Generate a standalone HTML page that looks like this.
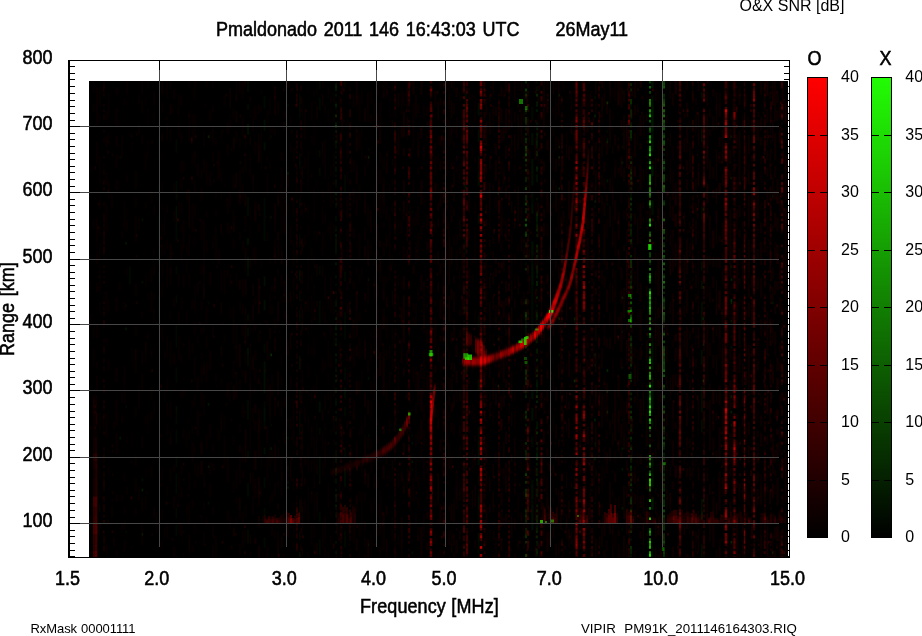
<!DOCTYPE html>
<html lang="en"><head><meta charset="utf-8"><title>Ionogram Pmaldonado 2011 146 16:43:03 UTC</title>
<style>html,body{margin:0;padding:0;background:#fff}body{width:922px;height:636px;overflow:hidden}svg{display:block}text{font-family:"Liberation Sans",Arial,Helvetica,sans-serif;fill:#000;white-space:pre}.b{font-size:18px;stroke:#000;stroke-width:.5px;word-spacing:1.7px}.c{font-size:16px}.s{font-size:13px;word-spacing:1.4px}</style></head><body>
<svg width="922" height="636" viewBox="0 0 922 636">
<rect width="922" height="636" fill="#fff"/>
<path fill="#000" shape-rendering="crispEdges" d="M68 60h2v498h-2zM68 60h722v1h-722zM789 60h1v498h-1zM68 557h722v1h-722zM70 556h5v1h-5zM784 556h5v1h-5zM70 550h5v1h-5zM784 550h5v1h-5zM70 543h5v1h-5zM784 543h5v1h-5zM70 536h5v1h-5zM784 536h5v1h-5zM70 530h5v1h-5zM784 530h5v1h-5zM70 523h5v1h-5zM784 523h5v1h-5zM70 523h10v1h-10zM70 517h5v1h-5zM784 517h5v1h-5zM70 510h5v1h-5zM784 510h5v1h-5zM70 503h5v1h-5zM784 503h5v1h-5zM70 496h5v1h-5zM784 496h5v1h-5zM70 490h5v1h-5zM784 490h5v1h-5zM70 483h5v1h-5zM784 483h5v1h-5zM70 477h5v1h-5zM784 477h5v1h-5zM70 470h5v1h-5zM784 470h5v1h-5zM70 463h5v1h-5zM784 463h5v1h-5zM70 457h5v1h-5zM784 457h5v1h-5zM70 457h10v1h-10zM70 450h5v1h-5zM784 450h5v1h-5zM70 444h5v1h-5zM784 444h5v1h-5zM70 437h5v1h-5zM784 437h5v1h-5zM70 430h5v1h-5zM784 430h5v1h-5zM70 424h5v1h-5zM784 424h5v1h-5zM70 417h5v1h-5zM784 417h5v1h-5zM70 411h5v1h-5zM784 411h5v1h-5zM70 404h5v1h-5zM784 404h5v1h-5zM70 397h5v1h-5zM784 397h5v1h-5zM70 390h5v1h-5zM784 390h5v1h-5zM70 390h10v1h-10zM70 384h5v1h-5zM784 384h5v1h-5zM70 377h5v1h-5zM784 377h5v1h-5zM70 371h5v1h-5zM784 371h5v1h-5zM70 364h5v1h-5zM784 364h5v1h-5zM70 358h5v1h-5zM784 358h5v1h-5zM70 351h5v1h-5zM784 351h5v1h-5zM70 344h5v1h-5zM784 344h5v1h-5zM70 338h5v1h-5zM784 338h5v1h-5zM70 331h5v1h-5zM784 331h5v1h-5zM70 324h5v1h-5zM784 324h5v1h-5zM70 324h10v1h-10zM70 318h5v1h-5zM784 318h5v1h-5zM70 311h5v1h-5zM784 311h5v1h-5zM70 305h5v1h-5zM784 305h5v1h-5zM70 298h5v1h-5zM784 298h5v1h-5zM70 291h5v1h-5zM784 291h5v1h-5zM70 285h5v1h-5zM784 285h5v1h-5zM70 278h5v1h-5zM784 278h5v1h-5zM70 272h5v1h-5zM784 272h5v1h-5zM70 265h5v1h-5zM784 265h5v1h-5zM70 259h5v1h-5zM784 259h5v1h-5zM70 259h10v1h-10zM70 252h5v1h-5zM784 252h5v1h-5zM70 245h5v1h-5zM784 245h5v1h-5zM70 239h5v1h-5zM784 239h5v1h-5zM70 232h5v1h-5zM784 232h5v1h-5zM70 225h5v1h-5zM784 225h5v1h-5zM70 219h5v1h-5zM784 219h5v1h-5zM70 212h5v1h-5zM784 212h5v1h-5zM70 205h5v1h-5zM784 205h5v1h-5zM70 199h5v1h-5zM784 199h5v1h-5zM70 192h5v1h-5zM784 192h5v1h-5zM70 192h10v1h-10zM70 186h5v1h-5zM784 186h5v1h-5zM70 179h5v1h-5zM784 179h5v1h-5zM70 172h5v1h-5zM784 172h5v1h-5zM70 166h5v1h-5zM784 166h5v1h-5zM70 159h5v1h-5zM784 159h5v1h-5zM70 153h5v1h-5zM784 153h5v1h-5zM70 146h5v1h-5zM784 146h5v1h-5zM70 139h5v1h-5zM784 139h5v1h-5zM70 133h5v1h-5zM784 133h5v1h-5zM70 126h5v1h-5zM784 126h5v1h-5zM70 126h10v1h-10zM70 120h5v1h-5zM784 120h5v1h-5zM70 113h5v1h-5zM784 113h5v1h-5zM70 106h5v1h-5zM784 106h5v1h-5zM70 100h5v1h-5zM784 100h5v1h-5zM70 93h5v1h-5zM784 93h5v1h-5zM70 86h5v1h-5zM784 86h5v1h-5zM70 79h5v1h-5zM784 79h5v1h-5zM70 73h5v1h-5zM784 73h5v1h-5zM70 66h5v1h-5zM784 66h5v1h-5z"/>
<path fill="#000" shape-rendering="crispEdges" d="M159 61h1v9h-1zM286 61h1v9h-1zM376 61h1v9h-1zM445 61h1v9h-1zM550 61h1v9h-1zM662 61h1v9h-1z"/>
<path fill="#474747" shape-rendering="crispEdges" d="M80 523h9v1h-9zM80 457h9v1h-9zM80 390h9v1h-9zM80 324h9v1h-9zM80 259h9v1h-9zM80 192h9v1h-9zM80 126h9v1h-9zM159 70h1v11h-1zM286 70h1v11h-1zM376 70h1v11h-1zM445 70h1v11h-1zM550 70h1v11h-1zM662 70h1v11h-1z"/>
<rect x="89" y="81" width="699" height="476" fill="#000" shape-rendering="crispEdges"/>
<defs><clipPath id="ic"><rect x="89" y="81" width="699" height="476"/></clipPath><filter id="vb" x="-5%" y="-5%" width="110%" height="110%"><feGaussianBlur stdDeviation="0.4 0.6"/></filter><filter id="tb" x="-5%" y="-5%" width="110%" height="110%"><feGaussianBlur stdDeviation="0.45 1.6"/></filter><filter id="gbl" x="-5%" y="-5%" width="110%" height="110%"><feGaussianBlur stdDeviation="0.35"/></filter></defs>
<g clip-path="url(#ic)">
<g filter="url(#vb)">
<path stroke="#2f0" stroke-opacity="0.03" stroke-width="1.6" fill="none" d="M159.2 135.7v24.7m0 25v6m0 24.6v29.7m0 5.1v14.5m0 6.6v11.3m0 12.9v21.8m0 5.4v6.2m0 132.4v8.2M176.4 139.2v13.6m0 27.9v19.6m0 18.6v21m0 26.1v8.4m0 20.9v8m0 20.7v23.8m0 19.7v15.2m0 29.2v11.8m0 5.9v13.9m0 12.2v11.4m0 6.4v20.5m0 13.4v11m0 6.3v11.1m0 19.9v1.3M299.7 93.5v24.8m0 34.9v16.5m0 29.1v9.2m0 26.6v12.6m0 43.5v10.6m0 8.1v12.6m0 66.9v12.4m0 10.1v24.1m0 63.8v17.3m0 15.4v7.9M345 81v6.2m0 87.1v18.7m0 78.6v9.9m0 30.2v14.1m0 -.4v14.1m0 28v12.9m0 26.6v9.3m0 31.2v8.9m0 48.1v7.1m0 19.2v17"/>
<path stroke="#2f0" stroke-opacity="0.03" stroke-width="1.7" fill="none" d="M120.2 156.1v2.7M126 304.2v2.7m0 98.7v2.7m0 122.1v2.7M156.7 322.4v2.7M208.6 301.6v2.7M271.2 135.2v2.7m0 285.9v2.7M288 104.1v2.7m0 311.8v2.7m0 44.1v5.4M368.7 148.3v2.7m0 283.2v2.7M412.3 210.7v2.7m0 220.8v2.7m0 31.2v2.7M498.3 117.1v2.7m0 423.6v2.7M559.3 163.8v2.7m0 272.9v2.7M574.6 85.9v2.7M595 187.3v2.7m0 15.5v2.7m0 148v2.7m0 85.7v2.7m0 54.5v2.7M607.4 130.1v2.7m0 70v2.7M622.4 91.1v2.7m0 38.9v2.7m0 283.2v2.7m0 106.6v2.7M703.3 449.8v2.7M731.4 117.1v2.7m0 215.6v2.7m0 65v2.7M772.6 395.2v2.7"/>
<path stroke="#2f0" stroke-opacity="0.03" stroke-width="2" fill="none" d="M129.8 266.6v17.7M264.6 95.7v12.9m0 89.1v19.9m0 -.4v23.8m0 103v8.7m0 48.5v7.7m0 12v8.5m0 47.9v10.7m0 20.2v7.7m0 21.4v10.4M319.7 81v7.9m0 8.5v12.9m0 39.7v6.9m0 10.9v7.9m0 90.4v8.6m0 26.1v22.8m0 103.8v7.6m0 21.3v27.9m0 27.9v9.4m0 17.9v15.7M478.7 155.4v16.2m0 144v11.8m0 99.3v13.9m0 34.9v9.2m0 5.1v6.8m0 12v11.3m0 21.9v12.8M664 434.2v2.7m0 2.5v2.7M701.9 206.2v14"/>
<path stroke="#2f0" stroke-opacity="0.03" stroke-width="2.1" fill="none" d="M336 101.5v2.7m0 2.5v2.7m0 25.8v2.7m0 5.2v2.7m0 5v2.7m0 20.8v2.7m0 7.7v2.7m0 18.1v2.7m0 7.7v5.3m0 5v2.7m0 7.8v2.7m0 12.8v2.7m0 28.5v2.7m0 5.1v2.7m0 5.1v2.7m0 7.7v2.7m0 10.3v2.7m0 15.5v2.7m0 18.1v2.7m0 2.5v2.7m0 18.1v2.7m0 7.7v2.7m0 15.6v2.7m0 23.3v2.7m0 5v8m0 49.3v2.7m0 2.4v2.7m0 15.5v2.7m0 23.3v.6M526 184.7v2.7m0 75.2v2.7m0 44.1v2.7m0 39v2.7m0 116.8v2.7m0 2.5v2.7m0 28.6v2.7M537 81v2.4m0 2.5v2.7m0 168.8v2.7m0 28.5v2.7m0 18.1v2.7m0 18.1v2.7m0 33.7v2.7m0 18.1v2.7m0 2.5v2.7m0 10.3v2.7m0 41.5v2.7m0 70.1v2.7M631 106.7v2.7m0 96.1v2.7m0 64.8v2.7m0 90.9v2.7m0 101.3v2.7m0 33.8v2.7m0 2.4v2.7m0 13v2.7"/>
<path stroke="#2f0" stroke-opacity="0.03" stroke-width="2.4" fill="none" d="M248 81v11m0 12.3v5.8m0 86.8v6m0 -.4v13.5m0 52.1v8.2m0 38v6.3m0 7.2v8.7m0 17.4v12.4m0 33.8v19.6m0 31v7.8m0 24.6v13.3m0 33.4v13.6M465.6 90.8v16.1m0 126.3v21.2m0 31.1v6.9m0 33v17.7m0 -.4v10.2m0 52.2v13.1m0 -.4v27.3m0 21.1v24.6M532.4 106.6v14.1m0 71.3v13m0 50.2v9.2m0 19.6v47.1m0 105.6v10.5m0 32.7v6m0 12.4v6.5M652.5 335.7v7.4m0 122.9v7.8m0 72.6v10.6"/>
<path stroke="#2f0" stroke-opacity="0.05" stroke-width="1.6" fill="none" d="M176.4 206v13.2m0 187.1v5.9M299.7 270.1v11m0 74.6v14m0 182.2v5.1M345 387.5v10.8m0 69.9v18.6"/>
<path stroke="#2f0" stroke-opacity="0.05" stroke-width="1.7" fill="none" d="M142.4 218.5v2.7m0 59.7v2.7m0 194.8v2.7M208.6 501.8v2.7M271.2 215.9v2.7M288 436.8v2.7m0 41.6v2.7M368.7 278.2v2.7m0 96.2v2.7m0 163.6v2.7M412.3 442.1v2.7m0 106.4v2.7M498.3 124.9v2.7m0 210.5v2.7M559.3 353.6v2.7M574.6 132.7v2.7m0 184.5v2.7m0 124.6v2.7M595 96.2v2.7m0 265.2v2.7m0 75.3v2.7M607.4 137.8v2.7M622.4 145.7v2.7m0 181.8v2.7m0 33.7v2.7M703.3 85.9v2.7M731.4 345.8v2.7M772.6 195.1v2.7"/>
<path stroke="#2f0" stroke-opacity="0.05" stroke-width="2" fill="none" d="M264.6 119.8v10.9m0 11.6v7.6m0 126.6v9.7m0 13.8v10.6m0 50.6v21.5m0 -.4v11m0 15.3v12.6m0 26.5v6.5M319.7 401.5v10.7M478.7 102.7v13m0 13.7v12.9m0 29v14.6m0 27.8v9.9m0 155.7v11m0 50v24.6m0 31.4v12.6m0 23.8v9.3M664 335.4v2.7m0 33.7v2.7m0 23.3v2.7m0 7.7v2.7m0 59.7v2.7m0 38.9v2.7M701.9 92.2v5.7m0 30.3v14.3m0 118.8v9.2m0 9.9v8.5m0 13v24.4m0 23.8v14.8m0 21.6v26.3m0 6.5v13.3m0 66.4v12.7m0 32.6v12.7"/>
<path stroke="#2f0" stroke-opacity="0.05" stroke-width="2.1" fill="none" d="M336 93.7v2.7m0 49.3v2.7m0 7.7v2.7m0 2.5v2.7m0 2.5v5.3m0 7.7v5.3m0 12.9v2.7m0 2.4v2.7m0 23.4v2.7m0 7.6v13.2m0 23.2v2.7m0 23.3v5.3m0 18.1v2.7m0 10.4v2.7m0 18v2.7m0 7.7v2.7m0 28.5v5.4m0 5v2.7m0 5.1v2.7m0 10.3v2.7m0 23.3v5.3m0 7.7v5.3m0 2.5v5.4m0 5v2.7m0 5.1v5.3m0 13v2.7m0 5v2.7m0 15.6v2.7m0 7.6v2.7M526 91.1v2.7m0 2.4v2.7m0 13v2.7m0 85.7v2.7m0 38.9v2.7m0 75.3v2.7m0 5v10.5m0 5.1v2.7m0 18.2v2.7m0 25.8v2.7m0 23.3v2.7m0 7.8v2.7m0 64.8v2.7m0 2.5v2.7M537 88.5v2.7m0 31v2.7m0 10.3v5.3m0 5.2v2.7m0 25.9v7.9m0 15.5v2.7m0 10.3v2.7m0 7.7v2.7m0 23.3v2.7m0 23.2v2.7m0 28.5v2.7m0 15.5v2.7m0 13v2.7m0 38.8v2.7m0 38.9v5.3m0 44.1v2.7m0 7.8v5.2m0 5.1v2.7m0 31.1v2.7m0 15.5v2.7m0 7.8v2.7M631 104.1v2.7m0 10.3v2.7m0 46.7v2.7m0 5.1v2.7m0 2.5v2.7m0 10.3v5.3m0 20.7v2.7m0 5v2.7m0 41.5v2.7m0 5.1v2.7m0 59.7v2.7m0 5.1v2.7m0 10.3v2.7m0 54.5v2.7m0 2.5v5.3m0 10.3v2.7m0 2.5v2.7m0 7.8v2.7m0 23.3v2.7m0 38.8v2.7m0 12.9v2.7m0 13v2.7"/>
<path stroke="#2f0" stroke-opacity="0.05" stroke-width="2.4" fill="none" d="M248 123.7v11m0 103.2v6.9m0 12.7v10.8m0 79.7v6.2M465.6 106.6v8m0 63.6v11.5m0 116.2v7.1m0 50v11.8M532.4 132.9v12.2m0 13.9v26.4m0 19.2v9.3m0 27.6v14.1m0 8.6v20.2m0 106.6v8m0 8.8v12.8m0 65v13.1m0 5.8v25.4M652.5 95.3v11m0 24.4v20.6m0 49.1v14.8m0 127.6v27.3m0 7.6v31.9m0 10.9v6m0 29.7v10m0 7.3v14.3"/>
<path stroke="#2f0" stroke-opacity="0.08" stroke-width="1.7" fill="none" d="M120.2 436.8v2.7M126 241.9v2.7m0 83v2.7M142.4 533.1v2.7M208.6 403.1v2.7m0 59.6v2.7M271.2 447.2v2.7M288 171.7v2.7m0 311.8v2.7M412.3 460.2v2.7M498.3 192.5v2.7M559.3 93.7v2.7m0 49.3v2.7M574.6 205.5v2.7m0 64.8v2.7m0 210.5v2.7M595 200.3v2.7m0 150.6v2.7m0 101.3v2.7M607.4 179.5v2.7M622.4 161.3v2.7m0 283.2v2.7m0 18.2v2.7m0 36.3v2.7M703.3 156.1v2.7m0 49.3v2.7m0 75.2v2.7m0 54.5v2.7m0 153.3v2.7M731.4 135.2v2.7m0 38.9v2.7m0 85.7v2.7m0 52v2.7m0 101.2v2.7M772.6 301.6v2.7"/>
<path stroke="#2f0" stroke-opacity="0.08" stroke-width="2" fill="none" d="M664 137.8v2.7m0 13v2.7m0 7.6v2.7m0 106.5v2.7m0 2.5v2.7m0 2.5v2.7m0 38.9v2.7m0 2.5v2.7m0 98.7v2.7m0 20.8v2.7m0 18v2.7m0 18.1v2.7m0 49.3v2.7M701.9 511.4v8"/>
<path stroke="#2f0" stroke-opacity="0.08" stroke-width="2.1" fill="none" d="M336 83.2v2.7m0 2.6v2.7m0 31v2.7m0 5.2v2.7m0 7.7v2.7m0 49.3v2.7m0 38.9v2.7m0 25.8v2.7m0 51.9v2.7m0 7.7v2.7m0 2.6v2.7m0 7.6v2.7m0 7.7v2.7m0 18.1v2.7m0 2.5v2.7m0 7.8v2.7m0 75.3v2.7m0 23.3v2.7m0 7.6v2.7M526 127.5v2.7m0 33.6v2.7m0 155.9v5.3m0 33.7v2.7m0 10.3v2.7m0 2.5v2.7m0 31.1v2.7m0 7.7v2.7m0 28.6v2.7m0 54.4v2.7m0 2.5v2.7m0 10.3v2.7M537 101.5v5.3m0 2.4v2.7m0 15.6v2.7m0 2.5v2.7m0 5.1v5.3m0 5v2.7m0 15.6v2.7m0 44.1v5.3m0 2.5v5.2m0 5.2v2.7m0 28.4v7.9m0 2.5v2.7m0 33.7v2.7m0 2.5v2.7m0 7.7v2.7m0 2.6v5.2m0 2.5v2.7m0 5.1v5.4m0 28.4v5.3m0 2.6v2.7m0 33.6v2.7m0 13v2.7m0 2.4v2.7m0 2.5v5.4m0 5v2.7m0 2.6v2.7m0 2.4v2.7m0 12.9v2.7m0 2.6v2.7m0 7.6v2.7m0 10.3v2.7m0 7.8v2.7m0 10.3v2.7m0 5v2.7M631 122.2v2.7m0 12.9v2.7m0 15.6v2.7m0 10.3v2.7m0 15.5v2.7m0 23.2v2.7m0 18.2v2.7m0 5.1v2.7m0 38.8v2.7m0 59.7v2.7m0 2.6v2.7m0 5v2.7m0 10.3v2.7m0 85.7v2.7m0 62.3v2.7"/>
<path stroke="#2f0" stroke-opacity="0.08" stroke-width="2.4" fill="none" d="M652.5 81v6.9m0 18.2v24.9m0 34.3v10.8m0 321.5v12.1"/>
<path stroke="#2f0" stroke-opacity="0.11" stroke-width="1.7" fill="none" d="M142.4 488.8v2.7M208.6 135.2v2.7M368.7 156.1v2.7M498.3 384.8v2.7M559.3 156.1v2.7m0 28.5v2.7m0 127.2v2.7M574.6 317.2v2.7M595 114.5v2.7m0 301.4v2.7M607.4 140.5v2.7m0 246.9v2.7m0 18v2.7M622.4 296.4v2.7M703.3 317.2v2.7M731.4 278.2v2.7m0 20.7v2.7m0 90.9v2.7m0 12.9v2.7M772.6 551.2v2.7"/>
<path stroke="#2f0" stroke-opacity="0.11" stroke-width="1.8" fill="none" d="M650 262.6v2.7"/>
<path stroke="#2f0" stroke-opacity="0.11" stroke-width="2" fill="none" d="M664 96.2v2.7m0 59.8v2.7m0 7.7v2.7m0 70.1v2.7m0 142.8v2.7m0 39v2.7m0 15.4v2.7m0 2.5v2.7m0 10.3v5.4m0 15.4v2.7m0 28.5v5.4m0 20.6v2.7"/>
<path stroke="#2f0" stroke-opacity="0.11" stroke-width="2.1" fill="none" d="M336 85.9v2.7m0 15.5v2.7M526 122.2v2.7m0 7.8v2.7m0 15.4v2.7m0 23.3v5.4m0 12.9v5.3m0 7.7v5.3m0 31.1v2.7m0 7.7v2.7m0 41.4v2.7m0 15.5v2.7m0 62.3v2.7m0 5.2v2.7m0 2.4v2.7m0 51.9v5.3m0 65v2.7m0 5.1v2.7m0 2.5v2.7M537 153.5v2.7m0 10.3v2.7m0 44v2.7m0 13v2.7m0 12.9v2.7m0 2.5v2.7m0 2.5v2.7m0 23.3v5.2m0 10.3v2.7m0 15.5v2.7m0 41.5v2.7m0 7.7v2.7m0 2.5v2.7m0 23.3v2.7m0 75.3v2.7m0 28.5v2.7m0 2.6v2.7m0 2.5v2.7m0 7.6v2.7m0 2.5v2.7m0 12.9v2.7M631 88.5v2.7m0 18v8m0 7.7v2.7m0 54.5v2.7m0 23.3v2.7m0 5.1v2.7m0 5.1v2.7m0 2.5v5.3m0 41.4v2.7m0 2.6v2.7m0 51.8v2.7m0 18.1v2.7m0 33.7v2.7m0 2.5v2.7m0 5.1v2.7m0 20.8v2.7m0 25.8v2.7m0 7.8v2.7m0 7.6v2.7m0 7.7v2.7m0 5.1v2.7m0 15.6v7.9m0 25.8v5.3"/>
<path stroke="#2f0" stroke-opacity="0.14" stroke-width="1.7" fill="none" d="M607.4 369.2v2.7"/>
<path stroke="#2f0" stroke-opacity="0.14" stroke-width="1.8" fill="none" d="M650 184.7v2.7"/>
<path stroke="#2f0" stroke-opacity="0.14" stroke-width="2" fill="none" d="M664 111.9v2.7m0 18.1v2.7m0 155.8v2.7m0 2.5v2.7m0 2.5v5.3m0 150.7v2.7m0 62.3v2.7m0 7.8v2.7"/>
<path stroke="#2f0" stroke-opacity="0.14" stroke-width="2.1" fill="none" d="M336 114.5v2.7M526 81v2.4m0 57.1v2.7m0 25.9v2.7m0 96.1v2.7m0 75.2v2.7m0 28.6v2.7m0 111.6v2.7M537 93.7v2.7m0 335.2v2.7m0 23.3v2.7M631 83.2v2.7m0 46.8v5.2m0 124.7v2.7m0 98.8v2.7m0 12.8v2.7m0 148.1v2.7m0 23.3v.6"/>
<path stroke="#2f0" stroke-opacity="0.16" stroke-width="1.7" fill="none" d="M271.2 353.6v2.7M574.6 379.6v2.7M607.4 101.5v2.7M703.3 379.6v2.7M731.4 299v2.7m0 239.2v2.7"/>
<path stroke="#2f0" stroke-opacity="0.16" stroke-width="1.8" fill="none" d="M650 158.7v2.7m0 2.4v2.7m0 262.6v2.7m0 28.4v2.7"/>
<path stroke="#2f0" stroke-opacity="0.16" stroke-width="2" fill="none" d="M664 93.7v2.7m0 103.9v2.7m0 54.4v2.7m0 59.8v2.7m0 33.6v2.7m0 59.7v2.7m0 23.3v2.7m0 25.9v2.7m0 2.5v2.7m0 2.5v2.7m0 2.5v2.7m0 7.7v5.3m0 20.7v5.4m0 5v5.3m0 13v2.7"/>
<path stroke="#2f0" stroke-opacity="0.16" stroke-width="2.1" fill="none" d="M526 93.7v2.7m0 20.7v5.3m0 15.4v2.7m0 7.8v2.7m0 80.5v2.7m0 67.4v2.7m0 7.7v2.7m0 54.5v5.3m0 36.3v2.7m0 2.6v2.7m0 23.3v2.7m0 12.8v2.7m0 20.8v2.7m0 5v2.7m0 18.1v2.7m0 2.6v2.7m0 18v2.7m0 2.6v2.7M537 395.2v2.7M631 98.9v5.3m0 25.9v2.7m0 28.5v2.7m0 7.7v2.7m0 2.4v2.7m0 18.2v2.7m0 2.4v2.7m0 33.7v2.7m0 13v2.7m0 2.4v2.7m0 2.5v2.7m0 39v2.7m0 28.5v2.7m0 2.4v2.7m0 64.9v2.7m0 2.6v2.7m0 18v2.7m0 7.7v2.7m0 15.5v2.7m0 5.1v2.7m0 7.7v2.7m0 12.9v5.3m0 5.1v2.7m0 33.8v2.7"/>
<path stroke="#2f0" stroke-opacity="0.22" stroke-width="1.8" fill="none" d="M650 81v2.4m0 122.1v2.7m0 148v2.7m0 23.3v2.7m0 101.3v2.7"/>
<path stroke="#2f0" stroke-opacity="0.22" stroke-width="2" fill="none" d="M664 81v2.4m0 15.5v2.7m0 20.6v2.7m0 23.4v2.7m0 15.5v2.7m0 10.3v2.7m0 20.6v2.7m0 31.2v2.7m0 5.1v2.7m0 2.5v2.7m0 15.5v2.7m0 36.3v2.7m0 5v5.3m0 25.9v2.7m0 2.6v2.7m0 5v2.7m0 2.6v5.2m0 25.9v2.7m0 7.7v2.7m0 18.1v2.7m0 7.7v2.7m0 2.6v2.7m0 18v2.7m0 28.6v2.7m0 7.6v2.7m0 7.8v2.7m0 33.6v2.7m0 2.5v.6"/>
<path stroke="#2f0" stroke-opacity="0.22" stroke-width="2.1" fill="none" d="M336 124.9v2.7M526 88.5v2.7m0 18v2.7m0 33.8v2.7m0 10.3v2.7m0 25.9v2.7m0 12.8v2.7m0 28.6v2.7m0 77.8v2.7m0 155.9v2.7m0 18.2v2.7m0 57.1v2.7M631 286v2.7m0 5.2v2.7m0 28.4v2.7"/>
<path stroke="#2f0" stroke-opacity="0.27" stroke-width="1.8" fill="none" d="M650 91.1v2.7m0 18.1v2.7m0 15.5v2.7m0 119.4v5.4m0 62.3v2.7m0 111.6v2.7"/>
<path stroke="#2f0" stroke-opacity="0.27" stroke-width="2" fill="none" d="M664 83.2v2.7m0 15.6v2.7m0 20.7v2.7m0 7.6v2.7m0 5.2v2.7m0 28.5v5.2m0 7.8v5.2m0 39v2.7m0 41.4v2.7m0 7.7v2.7m0 10.3v2.7m0 38.9v2.7m0 5.1v2.7m0 2.5v2.7m0 5.1v2.7m0 20.7v2.7m0 23.3v2.7m0 96.1v2.7m0 28.6v2.7"/>
<path stroke="#2f0" stroke-opacity="0.27" stroke-width="2.1" fill="none" d="M526 153.5v2.7m0 62.3v2.7m0 335.2v.6M631 314.6v2.7"/>
<path stroke="#2f0" stroke-opacity="0.33" stroke-width="1.8" fill="none" d="M650 231.5v2.7m0 25.8v2.7m0 25.9v2.7m0 44.1v2.7m0 10.3v2.7m0 41.5v2.7m0 75.3v2.7m0 54.6v2.7"/>
<path stroke="#2f0" stroke-opacity="0.33" stroke-width="2" fill="none" d="M664 85.9v2.7m0 15.5v2.7m0 12.9v2.7m0 5.1v2.7m0 10.3v2.7m0 18.1v2.7m0 64.9v2.7m0 23.3v2.7m0 54.4v2.7m0 18.2v2.7m0 38.8v2.7"/>
<path stroke="#2f0" stroke-opacity="0.33" stroke-width="2.1" fill="none" d="M526 223.7v2.7M631 296.4v2.7m0 2.5v2.7"/>
<path stroke="#2f0" stroke-opacity="0.38" stroke-width="1.8" fill="none" d="M650 119.7v2.7m0 5.1v2.7m0 64.9v2.7m0 23.3v2.7m0 220.8v2.7m0 18.1v2.7"/>
<path stroke="#2f0" stroke-opacity="0.38" stroke-width="2" fill="none" d="M664 109.2v2.7m0 72.8v2.7m0 31.1v2.7m0 41.4v2.7m0 103.9v2.7"/>
<path stroke="#2f0" stroke-opacity="0.44" stroke-width="1.8" fill="none" d="M650 85.9v2.7m0 49.2v2.7m0 93.6v2.7m0 10.3v2.7m0 31.1v2.7m0 111.6v2.7m0 5.2v2.7m0 83v2.7m0 46.7v2.7"/>
<path stroke="#2f0" stroke-opacity="0.44" stroke-width="2" fill="none" d="M664 114.5v2.7m0 163.7v2.7"/>
<path stroke="#2f0" stroke-opacity="0.44" stroke-width="2.1" fill="none" d="M631 317.2v2.7"/>
<path stroke="#2f0" stroke-opacity="0.49" stroke-width="1.8" fill="none" d="M650 104.1v2.7m0 44v2.7m0 33.8v2.7m0 10.3v2.7m0 70v2.7m0 23.3v2.7m0 106.5v2.7m0 96.2v2.7m0 23.3v2.7"/>
<path stroke="#2f0" stroke-opacity="0.49" stroke-width="2.1" fill="none" d="M631 309.4v2.7m0 7.8v2.7"/>
<path stroke="#2f0" stroke-opacity="0.55" stroke-width="1.8" fill="none" d="M650 98.9v2.7m0 72.7v2.7m0 15.5v2.7m0 44v2.7m0 26v2.7m0 33.6v2.7m0 44.2v2.7m0 46.6v2.7"/>
<path stroke="#2f0" stroke-opacity="0.60" stroke-width="1.8" fill="none" d="M650 101.5v2.7m0 41.5v2.7m0 28.4v5.4m0 7.6v2.7m0 119.5v2.7m0 2.5v2.7m0 7.7v2.7m0 2.6v2.7m0 36.2v2.7m0 15.6v2.7m0 28.4v2.7m0 33.7v2.7"/>
<path stroke="#2f0" stroke-opacity="0.66" stroke-width="1.8" fill="none" d="M650 109.2v2.7m0 23.3v2.7m0 80.6v2.7m0 23.3v2.7m0 31v2.7m0 13v2.7m0 12.8v2.7m0 31.1v2.7m0 20.7v2.7m0 85.8v2.7m0 85.6v2.7"/>
<path stroke="#2f0" stroke-opacity="0.71" stroke-width="1.8" fill="none" d="M650 148.3v2.7m0 51.8v2.7m0 96.1v2.7m0 72.8v2.7m0 33.6v2.7m0 10.3v2.7m0 33.7v2.7m0 64.9v2.7m0 18.1v2.7"/>
<path stroke="#2f0" stroke-opacity="0.77" stroke-width="1.8" fill="none" d="M650 161.3v2.7m0 111.6v2.7m0 119.5v2.7m0 72.7v2.7"/>
<path stroke="#2f0" stroke-opacity="0.82" stroke-width="1.8" fill="none" d="M650 114.5v2.7m0 64.9v2.7m0 111.6v2.7m0 7.8v2.7m0 12.8v2.7m0 33.7v2.7m0 12.9v2.7m0 104v2.7m0 62.3v2.7m0 7.6v.6"/>
<path stroke="#2f0" stroke-opacity="0.88" stroke-width="1.8" fill="none" d="M650 361.4v2.7m0 54.5v2.7m0 77.9v2.7m0 15.5v2.7"/>
<path stroke="#2f0" stroke-opacity="0.93" stroke-width="1.8" fill="none" d="M650 140.5v2.7m0 23.3v2.7m0 314.4v2.7m0 54.6v2.7m0 10.3v2.7"/>
<path stroke="#2f0" stroke-opacity="0.99" stroke-width="1.8" fill="none" d="M650 153.5v2.7m0 67.5v2.7m0 64.8v2.7m0 90.9v2.7m0 18.1v2.7m0 2.5v2.7m0 64.9v2.7"/>
<path stroke="#f00" stroke-opacity="0.03" stroke-width="1.5" fill="none" d="M744.5 85.9v2.7m0 44.1v2.7m0 90.8v2.7"/>
<path stroke="#f00" stroke-opacity="0.03" stroke-width="1.6" fill="none" d="M99.7 86.6v20.3m0 7.6v6.9m0 34.8v26.5m0 12.7v14.2m0 18.2v7.1m0 8.1v16.7m0 6v27.9m0 8.7v10.3m0 100.7v18.5m0 36.1v10.9m0 12.3v8m0 24.4v6.8m0 -.4v7.1M103.1 415.6v12.5M108.8 93v22.4m0 16.7v12.2m0 37.9v16.8m0 101.1v12.5m0 46.9v11.5m0 96.5v5.9M127.2 81v12.8m0 80.2v8.6m0 38.3v10.5m0 36v9.2m0 159.8v6.6m0 43.6v8.1M132.1 141.4v10.4m0 196v13.4m0 71.3v13.2M139 94.9v9.6m0 20.6v9.4m0 83.4v12.2m0 154.6v13.1m0 -.4v12m0 77.6v13.6M145.7 98.4v6.4m0 48.3v17.5m0 31.8v6.1m0 66v12m0 67v9.3m0 53.1v7.5m0 45.2v8.6m0 18.5v13.2M147.9 81v7.1m0 20.2v15.4m0 16.4v17.9m0 134.8v7.3m0 32.3v7.3m0 74.6v19.5M162.3 102.4v10m0 40.5v7m0 22v9.8m0 12.2v7m0 12.8v13.5m0 7.6v11.5m0 6.9v14.2m0 5.5v14.1m0 29.1v13.9m0 126.5v13.5m0 29.2v10.7m0 20.2v10.4M164.9 213v22.1m0 9.5v9.2m0 95.9v11m0 28.9v11.4m0 126.4v11.3M167.4 81v16.4m0 25.7v16m0 65.4v7.4m0 27.4v10.1m0 11.1v27.2m0 48.9v21.1m0 20.3v12.3m0 12v12.7m0 9.7v10.4m0 50.6v10.7m0 28.9v13.7M178.8 93.4v19m0 10.9v14.2m0 65.1v19.7m0 50.5v13.9m0 24.8v14.8m0 9.4v24.1m0 117v11.6m0 5.6v10.1m0 19.4v10.4M186.8 188.9v11.7m0 44.3v7.5m0 6.4v14m0 37.6v14.1m0 110.4v13.4m0 57.8v7.8M189.3 81v6.7m0 22.4v31.2m0 93.1v22.1m0 17.1v14m0 51.8v20.1m0 58.1v6.4m0 6.8v8.5m0 32.9v18.2m0 12.1v22.6m0 9.1v6m0 8.8v5.8M194.9 81v20.3m0 12v25.8m0 18.8v9.6m0 12.8v13.6m0 10.1v12.8m0 20.8v9.2m0 38v28.8m0 7.2v14.1m0 21.8v24.6m0 13.5v12.2m0 38.6v7.6m0 9.5v12.4m0 5.9v7.5m0 34.8v11.3M213 81v6.9m0 16.4v8.2m0 13.2v19.3m0 6.6v10.6m0 79.1v7.7m0 74.9v14.2m0 105.9v8.8m0 9.7v6.1m0 37.9v8.4m0 7.8v13.4m0 8.7v12.2M221.3 133.2v7.1m0 30.5v11.6m0 8.8v9.8m0 68.7v22.5m0 85.3v8.5m0 26v7.4M230.2 115v7.2m0 -.4v7m0 63.8v13.1m0 23.3v7m0 37.8v12.6m0 21.6v9.8m0 75.4v9.2m0 113.8v12.5m0 27.5v.8M250.2 109.8v8.4m0 36.4v13.9m0 -.4v9.1m0 29.1v13.4m0 5.3v13.7m0 76.4v19m0 11.8v38.3m0 6.8v19.5m0 -.4v39.9m0 101.7v5.3M261.1 88.7v5.8m0 11.9v5.9m0 13.9v34m0 -.4v10.1m0 90.3v9.6m0 111.1v8.7m0 20v20.1m0 16.9v11.9m0 -.4v10.4m0 17.2v11.3M269.9 97.7v17m0 12.4v13.7m0 20.4v8.1m0 46.5v6.2m0 35.9v5.8m0 29.3v21.2m0 33v12.2m0 57.5v6.1m0 20.9v14.2m0 -.4v10.8m0 12.9v5.8m0 8.5v9.9M287.9 205.1v7m0 45.4v8.7m0 8.1v6.1m0 15.9v7.3m0 10.7v9.2m0 16.3v6.8m0 73v7.9m0 37.3v12.6m0 -.4v8.5m0 25.4v7.6M290.5 116.1v8.6m0 17.4v10.4m0 74v18.7m0 131.2v12.7m0 28.2v12.5m0 89.5v9.4M293.7 147.9v13.6m0 37.4v18m0 23.9v25.5m0 11v24m0 98.4v30.3m0 -.4v14.3m0 34v13.1m0 12.2v7.6m0 16.4v9.6m0 5.8v5.9M296.8 92.3v13.5m0 63.4v9.8m0 7v6.5m0 22.8v7.4m0 27.3v7.4m0 61.9v6.9m0 54.7v13.4m0 6.9v14.3m0 79.9v37.5m0 8.4v7.3M302.2 98.4v18.7m0 13.6v8.5m0 8.4v7.8m0 46.7v11.1m0 157.4v33.3m0 43.5v11.8m0 65.1v12.9M308.4 86.5v5.9m0 57.7v16.8m0 -.4v24.5m0 13.6v14m0 5.5v13m0 20v34.1m0 7.9v13.1m0 11.4v12.1m0 7.8v12.7m0 8.8v12.4m0 12.9v6m0 19.4v14.6m0 14.5v27.9m0 12.9v38.2m0 28.5v4.7M311.9 100.8v20.7m0 13.8v7.8m0 104.5v14m0 12.9v6.8m0 14v17.7m0 5.4v10m0 19.3v7.1m0 33.1v14.6m0 22.5v21.9m0 12.6v12.3m0 19.6v9.7m0 22.9v22.5M314.2 90v7.3m0 25.8v23m0 41.8v33.9m0 8.8v8m0 17.3v8.9m0 19.9v10.5m0 6.6v18.4m0 16.9v20.5m0 27.8v12.9m0 39.2v23.9m0 -.4v8.8m0 5.5v12.4m0 6.1v25.8m0 5.4v12.6m0 6.5v9M316.9 81v13.6m0 54.5v7m0 24.9v7.5m0 42.5v10.5m0 132.9v19m0 6.8v7.7m0 15.6v20.3m0 -.4v22.7m0 44.1v6.6M322.6 81v7m0 65.5v12m0 24.5v6.7m0 10v17.5m0 8.3v14.1m0 -.4v9.3m0 50.5v13.3m0 39v14.4m0 58.2v19.2m0 12.9v13.2m0 45.4v26.6M328.4 86.9v10.9m0 11.1v14.4m0 58.3v11.2m0 35.2v6.5m0 61.5v12.9m0 31.2v27.4m0 6.2v8.9m0 7.4v10.3m0 83v24.3m0 44.7v4.7M330.9 96.7v6.1m0 61.8v10.9m0 9.2v12.7m0 -.4v10.1m0 14.1v20.3m0 34.8v36.8m0 9.8v14.5m0 17.6v13.8m0 22.7v17.4m0 19.9v5.7m0 75.5v8m0 17.9v8.7m0 11.7v.7M334 92.9v10.4m0 10.2v9.9m0 9.5v13.1m0 5.5v12.4m0 -.4v13.6m0 13.7v7.7m0 25.6v9.6m0 66.9v13.4m0 18.9v13.6m0 38.4v11.6m0 22.2v12.4m0 8.5v6.7m0 6.9v12.3m0 11.1v7.2M336.9 81v8.4m0 21.1v7.6m0 75.6v7.1m0 35.7v8.6m0 50v11.3m0 111.1v13.1m0 16.9v26.1m0 75.2v8.2M347.5 119.7v6.4m0 13.1v18.8m0 12.7v12.9m0 13.6v20.2m0 12.6v10.7m0 5.8v11.3m0 24.2v8.2m0 13.1v10m0 41.3v7.5m0 10.9v12.4m0 34.9v9.5m0 32.2v13.3M361.9 90.1v13.6m0 23.5v10.5m0 9v13.4m0 107.9v8.9m0 72.8v6.7m0 13.6v14.7m0 36.9v12.9m0 29.2v13.9m0 14.8v37.8M371.1 90.9v13.1m0 43.3v6.8m0 89.1v11.1m0 75.9v12.4m0 -.4v20.1m0 19.2v13.6m0 6.4v17.9m0 19.4v10.6m0 10.4v13.3m0 24.9v15m0 19.5v24.5M374.4 99.3v21.6m0 66.5v10.2m0 -.4v10.3m0 12.5v8.6m0 24.1v12.7m0 9.9v24.1m0 27.4v30.4m0 16.7v25.9m0 50.1v9.7m0 13.9v9.6m0 14.4v11.3m0 15.1v14.5M389.6 96.5v5.9m0 6.2v9.7m0 65.5v8.2m0 22.3v66.5m0 63.9v13.8m0 12.7v16.8m0 30v14.4m0 39.4v10.8m0 74v.4M392.4 81v12.2m0 85.3v7.6m0 17.8v9.2m0 40.9v13.1m0 58.6v22.5m0 8.9v12.2m0 98.8v12m0 37.1v23.9M398.4 127v7.7m0 84.1v12.8m0 43.3v12m0 8.9v10.9m0 28.2v7m0 21.3v22.4m0 -.4v11.7m0 6.4v10.2m0 55.5v18m0 48.3v8.9M407.3 81v6.5m0 9.4v12.4m0 22.6v8.4m0 55.4v9.1m0 -.4v13.3m0 167.3v11.4m0 71.8v20m0 67v1.8M416 212.2v12.6m0 17.5v22.1m0 39.3v21.8m0 41v24.2m0 12v11.2m0 20.2v14.2m0 8.7v24.7m0 9.3v9.7m0 12v11.1M438.2 134.8v10.1m0 6.5v12.2m0 20.7v7.5m0 187.9v10.6m0 19v12.7m0 96.1v5.9m0 27.9v5.1M449.3 81v13.6m0 10.3v6.8m0 7.4v26.5m0 77.7v14.3m0 113.4v14m0 12.5v11.5m0 23.1v6.7m0 25.3v13.4m0 72v8.5M454 81v10.9m0 32.6v8.2m0 9v6.1m0 14v12.8m0 61.4v9.1m0 178.7v12m0 62.7v6.4M459.9 92v10.3m0 61.2v19.4m0 84.4v9.3m0 -.4v14.1m0 63.9v11m0 80.5v12.4m0 20.2v10.3M462.3 86.9v5.9m0 29.1v20.8m0 165.3v7.2m0 14.1v22.8m0 24.5v9.8m0 9.3v43.8m0 52.6v6.1M469 88.5v12.1m0 67.4v7m0 318.1v11.7m0 8.3v9.3M472.5 93.8v7.2m0 24.2v10.3m0 11.9v10.4m0 99.7v5.8m0 10.9v7.3m0 77.9v13.2m0 30.2v17.4m0 26.7v24.9m0 48.8v11.8M475.2 94.4v28.6m0 79.8v8.2m0 -.4v9.5m0 7.1v27.8m0 -.4v9.5m0 44.8v14.1m0 89.9v9.7M481.6 89v5.7m0 7.8v19.4m0 21.7v11.4m0 61.1v12.1m0 13.6v6.6m0 37.6v10.8m0 34.7v14m0 21.5v11.5m0 13v7.2m0 13.1v8.9m0 -.4v8.3m0 24.4v35.3m0 -.4v12.2M489.7 209.2v22m0 102.3v9.3m0 49.4v12m0 125.8v9.8M493.2 113.4v17.6m0 202.8v8.2m0 67.9v14.7m0 129.2v3.2M509.4 102v9.7m0 48.3v5.7m0 99v20.4m0 12.3v7.4m0 57.3v7.4m0 34.4v11.4m0 45.7v6.2M511.7 108.2v14.2m0 23v13.6m0 73.4v12.3m0 9v14.6m0 -.4v14m0 88.5v14.3M514.8 151.1v7.8m0 6.2v9.3m0 78.5v10.4m0 10.1v13.2m0 72.5v7.4m0 25.9v9.6m0 6.9v20.1m0 26.3v15.9m0 7v9.9m0 64.9v4M518.2 81v9.3m0 37.6v10.4m0 106v8m0 65.8v9.6m0 166.3v23.8M521.4 100.3v13.4m0 49.8v10.2m0 40.2v9.7m0 36.1v10.4m0 122.6v8.9m0 8v13.8m0 14.5v14.5m0 -.4v20.7m0 84.1v.2M529.6 377v10.2m0 19v16m0 51.2v26.3M538.1 114.3v14.3m0 21.2v12.3m0 128.9v7.2m0 50.6v8.6M541.5 108.8v6.8m0 7.7v12.6m0 41.2v14m0 -.4v14.4m0 27.3v24.2m0 211.3v12.4m0 33.4v14.3m0 -.4v21.4M553.4 108.3v8.1m0 10.4v9m0 13.5v21.3m0 19.5v5.8m0 5.6v6.8m0 61.7v5.9m0 10.9v21.8m0 48.7v7.7m0 8.5v7.5m0 -.4v9.2m0 24.5v17m0 66.2v6.3M558.7 198.3v25.8m0 -.4v6.9m0 11.3v14.5m0 63.1v14.1m0 168.1v7.1m0 31.6v8M560.9 95.2v10.7m0 89v10.2m0 45.4v20m0 15.7v22m0 -.4v7.5m0 87v21.4m0 77.6v12.6M566.6 130.8v13.7m0 75.1v20.9m0 231.4v6.5M571.6 90.7v11.9m0 92.2v9.9m0 -.4v13m0 87.6v16.6m0 49.3v20.3m0 65.1v14.7m0 47.9v13.3M574.5 282.1v20.5m0 57v14.7m0 58.2v9.8m0 7.4v6.5m0 38.6v10.7m0 36.6v8.3M585.2 231.6v9.7m0 5.5v6.9m0 30.2v12.3m0 28.7v8.5m0 -.4v10.6m0 76.4v9.7m0 24.3v19.3m0 69.9v10.2M590.2 120.6v7.2m0 128.4v13m0 50.2v21.1m0 143v9.1m0 55.4v8.6M599.5 118.2v12.8m0 159.3v8.7M602.1 116.9v7.7m0 81v7.1m0 176.9v5.8m0 68.7v14.1m0 5.3v7.2m0 13.6v9.3m0 7.7v6M612.8 88.1v8.8m0 16.7v6.2m0 56.9v9.9m0 29.7v13m0 115.8v6m0 6.4v20.9m0 156.2v12.1M626.8 193.7v9m0 219.6v9.3M637.8 81v9.2m0 13.9v11.4m0 8.5v21.2m0 42.8v6.8m0 7.8v9.1m0 100.9v14.9m0 21.9v22m0 24.4v12.2m0 44.9v13.1m0 10.1v48.8m0 32v.1M643.6 95.1v8.1m0 20.8v12.6m0 92.2v9.2m0 12.6v11.8m0 39.6v9.4m0 233.7v10.6M655.7 81v12.3m0 213.2v7.6m0 46.7v26.7M666.8 81v8.8m0 51.4v24.1m0 83.9v7.7m0 213.6v9.6M670.3 158.4v11.6m0 59.6v6m0 158.6v6.9m0 37.5v5.8M678.7 89.3v19.1m0 213.5v7M681.2 81v14.3m0 10.4v10.6m0 -.4v14m0 396.8v6.9M689.9 118.7v10.2m0 66.4v20.1m0 136.4v7.6m0 40.1v11.2m0 110.3v12.9M692.5 89.2v9.9m0 51.5v11.2m0 145.8v11m0 24.6v14.1m0 24.8v6.5m0 15.9v14m0 6.3v9.1m0 -.4v26.8m0 9.3v5.9m0 43.5v6.5M695.9 129.6v7.2m0 126.5v12m0 52.2v8.8m0 -.4v12.4m0 41.2v8.8m0 60.8v8.4m0 24.4v9.8m0 40.7v10.9M698.4 229.8v9.3m0 10.9v56.3m0 72.6v7.6m0 24.9v24.3M742.7 203.3v9.7m0 35.8v5.8m0 54.8v19.5m0 150v8.6M770.1 107.7v29.3m0 266.4v7.4m0 107.3v7m0 12.8v10m0 5.6v3.5"/>
<path stroke="#f00" stroke-opacity="0.03" stroke-width="1.7" fill="none" d="M91 169.1v2.7m0 83.1v2.7m0 57v2.7m0 132.5v2.7M98.6 286v2.7M103.3 182.1v2.7m0 311.8v2.7M108.1 140.5v2.7M112.5 499.2v2.7M131.4 132.7v2.7m0 410.7v2.7M147.3 335.4v2.7M166.7 210.7v2.7M172.6 109.2v2.7m0 317.2v2.7M177.8 111.9v2.7M183.7 377.1v2.7M188.6 192.5v2.7M191.8 306.9v2.7M200 514.9v2.7M205.3 104.1v2.7m0 376.8v2.7m0 5.1v2.7M214.1 236.7v2.7m0 228.7v2.7M217.2 299v2.7m0 83.1v2.7M222.5 234.1v2.7M226.4 197.7v2.7M231.6 382.2v2.7M235.6 215.9v2.7M244.9 202.8v2.7M250.4 241.9v2.7M255.6 486.2v2.7M265.6 215.9v2.7m0 101.3v2.7M278.9 200.3v2.7m0 127.2v2.7m0 106.5v2.7M284.1 158.7v2.7m0 119.5v2.7m0 171.5v2.7M291.9 239.2v2.7m0 62.3v2.7M303.1 127.5v2.7m0 46.6v2.7m0 2.6v2.7m0 114.2v2.7m0 200.1v2.7m0 2.6v2.7M306.1 460.2v2.7M311.7 429.1v2.7M315 101.5v2.7M319.5 169.1v2.7M323.7 200.3v2.7m0 335.2v2.7M328.5 176.8v2.7m0 46.7v2.7M333.6 163.8v2.7m0 13v2.7m0 98.7v2.7m0 145.5v2.7M343.9 486.2v2.7M353.4 319.9v2.7M365.5 137.8v2.7M374.3 236.7v2.7m0 96v2.7m0 46.7v2.7M377.8 226.2v2.7M387.4 91.1v2.7M391.1 371.8v2.7M396.3 327.6v2.7M399.8 252.2v2.7M403.2 501.8v2.7M406.5 309.4v5.3m0 140.4v2.7M421.6 127.5v2.7M437.5 101.5v2.7m0 205.2v2.7M441.8 439.4v2.7m0 26v2.7M447.5 481.1v2.7M452.9 408.2v2.7M456.7 267.9v2.7M461.8 236.7v2.7m0 122v2.7M464.9 299v2.7m0 49.4v2.7M469.6 96.2v2.7m0 145.6v2.7M474.4 210.7v2.7m0 288.4v2.7M479.9 226.2v2.7M490.9 252.2v2.7m0 174.2v2.7M494.2 111.9v2.7m0 18.1v2.7M501.8 418.6v2.7M505 179.5v2.7m0 72.7v2.7m0 168.8v2.7m0 96.1v2.7M510.8 325v2.7m0 127.4v2.7M515.2 184.7v2.7m0 70v2.7m0 111.7v2.7M519.9 548.6v2.7M527.2 241.9v2.7m0 124.6v2.7m0 41.5v2.7m0 44.1v2.7M530.9 351.1v2.7m0 28.4v2.7m0 137.7v2.7M535.9 288.6v2.7m0 226.1v2.7M539.1 512.2v2.7M544.6 504.4v2.7M547.8 106.7v2.7m0 168.8v2.7M551.1 210.7v2.7m0 298.8v2.7M555.5 314.6v2.7m0 90.9v2.7M565.2 215.9v2.7M569.9 96.2v2.7m0 244.3v2.7M580 247.1v2.7m0 28.4v2.7m0 116.9v2.7M584.6 455.1v2.7m0 49.3v2.7M589.1 221.1v2.7M599.8 200.3v2.7m0 189.6v2.7M612.5 241.9v2.7M627.8 122.2v2.7M632.2 161.3v2.7M638.1 470.6v2.7m0 23.3v2.7m0 28.6v2.7M642.1 413.4v2.7M652.9 499.2v2.7M658.1 210.7v2.7m0 319.7v2.7M663.2 127.5v2.7M677.9 189.8v2.7m0 288.6v2.7M683.5 496.6v2.7M687.7 231.5v2.7m0 2.5v2.7m0 223.4v2.7M691.6 81v2.4m0 64.9v2.7m0 28.5v2.7m0 288.4v2.7M697.5 81v2.4m0 23.3v2.7m0 116.8v2.7m0 218.3v2.7M707.6 293.9v2.7m0 7.6v2.7m0 38.9v2.7M721.7 309.4v2.7M725.6 309.4v2.7m0 70.1v2.7M736.5 231.5v2.7M740.1 85.9v2.7m0 54.5v2.7M745.4 366.6v2.7M751 148.3v2.7M754.3 299v2.7M758.6 548.6v2.7M763.7 184.7v2.7m0 283.2v2.7M768.5 325v2.7M780.9 85.9v2.7m0 64.9v2.7m0 12.9v2.7m0 28.5v2.7m0 5.1v2.7m0 327.4v2.7M784.1 283.4v2.7"/>
<path stroke="#f00" stroke-opacity="0.03" stroke-width="2" fill="none" d="M90.2 281.8v6.9m0 28.7v9.3m0 188.9v13.9M93.7 81v12m0 10.8v8.6m0 106.9v9.7m0 98.4v10.9m0 9.6v19m0 31.1v17.8m0 101.4v26.7M96 412.8v11.8m0 12.8v16.6m0 25.3v17.7M106.5 111.5v9.1m0 14.8v11.5m0 26.4v12.2m0 18.9v26.5m0 61v18.9m0 27.3v7.1m0 67.9v24.9m0 105.5v10.8M111.8 194.8v13.6m0 297.9v10.9M119.6 282.1v9M121.9 135.2v23.5m0 72.2v7.1m0 154.8v10.3m0 11.4v8.3m0 72v6.9m0 21.9v6.6M124.7 97.9v7.8m0 95.2v14.5m0 -.4v14.7m0 72.2v7.8m0 56v38m0 68.9v9.1m0 25.3v7.6m0 6.7v8.8m0 10.4v11.5M142.1 81v13.1m0 5.3v7.3m0 -.4v6.6m0 22.6v7.9m0 168.2v6.3m0 33.3v14m0 7.9v17.5m0 44.8v12.4m0 48.9v14.1m0 10.9v23.2M154.1 90.8v14.4m0 7.8v6.6m0 86.1v8.5m0 35.4v5.8m0 7.2v12.3m0 19v6.6m0 8.6v12.8m0 79.4v13.1m0 92.5v10.5M156.4 512v21.1M170.6 81v8.3m0 39.7v12.9m0 132.2v10.9m0 26.7v7m0 23v25.5m0 33.9v17.7m0 13.9v5.8m0 29.5v13.4M183.7 160.9v10.5m0 48.6v22m0 -.4v8.5m0 24.8v12.5m0 100.9v8.7m0 31.8v10.3m0 114v3.9M192.5 113.8v9.9m0 5.8v7.8m0 16.3v9m0 13.4v7.9m0 19.7v13.3m0 -.4v14.6m0 69.7v6.9m0 35.2v10.2m0 47.3v6m0 19v8.2m0 8.1v20.7m0 37.2v8.9m0 38v5.8M203.9 130.7v15.7m0 12.5v13.7m0 47.5v46.9m0 5.9v12m0 38.5v9.9m0 27.2v6m0 27.7v21.1m0 57.8v14.4m0 14.9v7.5m0 21.3v14.1M206.7 81v6m0 74.6v23.1m0 25.8v6.2m0 23.7v12.1m0 54.2v7.5m0 -.4v9.9m0 12.1v12.6m0 13.8v19.5m0 52.5v14.5m0 68.3v8.7M215.8 138.3v7.2m0 45.4v7.8m0 11.1v6.6m0 10.1v33.6m0 113.8v7.6m0 156v19.5M224.4 95.4v11.1m0 163.4v24.8m0 39.2v8.3m0 73.4v14.6m0 5.9v31.5M233.7 108v10.3m0 56.4v15.9m0 18.6v14.4m0 15.2v10.1m0 57.9v37.2m0 16.4v17.5m0 58.2v9m0 36.4v11.6M236.4 81v13.6m0 36.9v11.3m0 130.3v12.9m0 38.8v26.2m0 -.4v12.5m0 8.8v18.1m0 78.7v20.2m0 8.3v6.7m0 13v8.5M239.8 81v12.1m0 44.8v9.2m0 22.7v23.3m0 39.2v7.7m0 60.9v10m0 68.1v10.6m0 34.6v8.6m0 24.9v26.9m0 25v8.9m0 25.7v11.2M245.6 81v6.2m0 46.9v14.4m0 9.6v13.9m0 45.9v9.3m0 31.7v13.2m0 41.7v12.4m0 12.5v6.5m0 6v12.7m0 141.5v12.1m0 12.5v13.7M253.1 116.7v14.5m0 48.7v12.9m0 55v13.5m0 55.9v8.5m0 82.4v14.6m0 49.9v18.4m0 5.2v19M267.3 110.3v13.1m0 33.9v5.8m0 9.9v23m0 36.6v8.5m0 79.9v6m0 24.7v9m0 17.2v27.8m0 20.2v17.8m0 12.7v24.8m0 65.6v7.4m0 -.4v3.2M275.1 96v11.8m0 20.7v8.1m0 81v13.7m0 7.9v7.6m0 9.9v6.6m0 13.7v14.7m0 26v10.8m0 68.3v19.8m0 41.6v13.8m0 10v14.5m0 21.7v7.8m0 5.6v8.1M278.1 101.4v12.7m0 76.8v6.1m0 42.4v14.4m0 -.4v6.9m0 8.8v6.3m0 171.7v13m0 20.7v5.7m0 45.1v9.7M281.7 151.9v9.1m0 6.3v45.1m0 -.4v21.5m0 11.3v6.7m0 22.8v12.3m0 8.9v7m0 52.2v10.3m0 12.1v8.8m0 15v15.9m0 41.2v14.3m0 6.7v18.3M283 518.2v4.8M304.8 109.4v30.5m0 17.8v10.9m0 34v10.1m0 22.4v11m0 54.9v11.2m0 95.8v14.2m0 33.7v9.1m0 34.6v13.8M325.1 104.9v8.7m0 26v27.2m0 -.4v12.7m0 33.6v9.1m0 54.5v22m0 13.6v12.4m0 7.3v8m0 23.5v6.8m0 25.4v14.9m0 13v7.3m0 8.8v28.7m0 47.4v23.2m0 8.6v9.8M337 505.1v17.9m0 -9.8v9.8M351 156.4v16.5m0 47.6v11.4m0 11.6v15.9m0 12.9v7.4m0 69.7v9.3m0 68.5v11.5m0 9.2v12.4m0 19.3v10m0 7.2v8.3M356.7 124.5v12.9m0 25.7v9.2m0 24.5v18.9m0 51.1v7.8m0 34.4v7.4m0 -.4v10m0 117v27.3m0 33.6v8.1M365 165.2v11.4m0 15.3v9.1m0 26.1v13.3m0 174.5v13.3m0 6.3v9.6m0 48.4v8.3m0 20.1v10m0 6v9.8M368.2 92.2v30.3m0 31.7v11.2m0 39v21.8m0 12.8v12m0 26.3v27.5m0 54.9v14.6m0 63.5v10.1m0 6.4v8M386.6 81v8.7m0 61.7v10.9m0 44.1v14.2m0 12.5v6m0 38v6.8m0 32.3v22.8m0 11.3v9.4m0 23.5v18.4m0 40.9v14.1m0 -.4v8m0 86.9v5.9M401.6 87.8v26.7m0 107.1v12.5m0 46.3v7.4m0 33.9v6.3m0 11v12.8m0 195.7v9.5M410.2 204.9v8.8m0 80.5v14.3m0 86.8v8.8m0 11.8v16.4m0 65.7v13.3m0 18.8v8.7M424 105.3v13.1m0 26.5v14.5m0 39.2v6.3m0 17v6.1m0 59.3v27.9m0 12.4v5.9m0 15.6v47.2m0 7.5v17.1m0 8.7v16.2m0 12.4v22m0 33.5v22.7M429.8 164.7v13.4m0 21.5v16.6m0 5.2v12.2m0 9.4v10.1m0 13.6v9.5m0 14v8.8m0 40.3v17.1m0 88.1v14m0 45.1v6m0 10.6v13m0 -.4v6.7m0 11.4v6.1M440.5 81v8.1m0 99v10.4m0 154.7v19.9m0 176.1v7.8M446.4 147.9v14.3m0 107v5.8m0 9.6v15.4m0 24.4v8.7m0 5.4v14m0 12.9v7.3m0 -.4v10.8m0 72.6v13.6M451.6 133.8v9.9m0 38.7v13.3m0 9.4v11.5m0 239.1v14.9m0 60.7v13.1M486.4 95v10.9m0 75.3v12.1m0 60.9v59.2m0 127.8v7.1m0 33.9v6.5m0 44v12.4M503.8 89v8.9m0 68.6v7.6m0 44v7.3m0 164v7.2m0 77.3v10.8M524.2 81v8.8m0 129.5v7.5m0 11.5v11.4m0 42v13.3m0 185.9v7.7m0 23.2v11.8m0 7.4v8.2M535.7 81v11.6m0 109.4v14.5m0 28.1v16.6m0 93.7v10.9m0 134.2v8.3m0 18v7.5M549 513.6v9.4M556.1 81v9m0 8.5v21.5m0 16.3v13.6m0 77.3v6.5m0 53v13.4m0 208.7v12.5M563.4 81v10.4m0 63.3v19.2m0 21.8v8.4m0 66.7v9.4m0 42.9v6.5m0 16.5v6.4m0 32.1v7.8m0 -.4v9.4m0 31v14.1m0 48.3v18.5m0 -.4v7.1m0 23.2v10.5M569 288.2v6m0 244.8v7.7M577 518.5v4.5M577.3 524.5v7.3M580.1 105.7v13.7m0 8.9v13.5m0 125.5v12.8m0 137.1v11.2m0 84.4v13.7M582.5 137.8v19.7M593.6 140.4v7.7m0 35.3v12.7m0 9.9v6.4m0 54.2v6m0 22v30.7m0 20.1v8m0 45.8v14.2m0 117.4v8.1M595.9 211v6.2m0 271v11.9M604.5 81v13.2m0 40.9v10.9m0 179v12.1m0 38v13.8m0 5.3v23.2m0 29.5v13.6m0 6.4v11.5M610 95.4v7.5m0 36.2v9.3m0 133.7v13.8m0 -.4v7.2m0 10.9v12.9m0 101.2v6.6M625 513.3v9.7M629.5 81v14.4m0 13.3v8.1m0 7.1v11.1m0 176.9v15.7m0 -.4v6.5M646.7 88.6v11.2m0 65.7v12.2m0 34.2v9.5m0 17.8v7.8m0 67.6v13.1m0 33v12.3m0 99.1v10.1m0 20.2v6.8M651 519.5v3.5M657 512v11m0 -6v6M659 519.5v3.5M660.9 105.2v45.7m0 208v6.8M666 514.6v8.4M684.4 88v11.4m0 126.2v7.1m0 114.8v8m0 97.8v11.3M704.1 241.9v10.2m0 21.4v7.5m0 151.7v8.9m0 30.7v13.2m0 -.4v21.5m0 12.2v5.9m0 17.8v7.2M707.4 282.3v14.6m0 66.6v18.3m0 85.4v7.2M709.9 229.2v17.9m0 38.5v7.4m0 28.1v8.2M719 520.1v2.9M725.1 117v6.8m0 5.6v9.5m0 394v10.6M727.5 231.8v7.7m0 10.4v5.9M730.3 284.4v10.8m0 8.6v17.3m0 88.8v12.3m0 38.5v9.2m0 72.9v13M739.5 183v14.3m0 50.6v11.2m0 39.2v7.5m0 120.6v9.5m0 -.4v12.4m0 44v8.6m0 6.7v10.4m0 36.2v3.2M748.7 116.2v8.8m0 38.2v8.9m0 99.6v13.5m0 191.6v6m0 12.4v10.8m0 33.7v13M752 155.2v7.4m0 386.7v7.7M761 516.9v6.1m0 -3.4v3.4M764.7 179.1v11m0 104.2v26m0 6.7v11.7m0 11.8v9.4m0 13.9v13.7m0 48.1v31.6m0 -.4v25.7M767.4 216.3v17.6m0 11.9v10.1m0 112.6v5.8m0 96v8.1M769 515.2v7.8m0 -4.3v4.3M772.9 319.4v10.5m0 210.4v9.3M779 517.8v5.2M783 519.3v3.7M785 517.6v5.4M785.6 319.7v12.1m0 79.1v11.4"/>
<path stroke="#f00" stroke-opacity="0.03" stroke-width="2.1" fill="none" d="M104 81v2.4m0 5.1v5.3m0 44v5.4m0 20.6v2.7m0 2.6v2.7m0 49.3v2.7m0 2.4v5.4m0 12.9v2.7m0 28.4v2.7m0 12.9v2.7m0 2.5v2.7m0 10.3v2.7m0 2.5v2.7m0 7.7v2.7m0 10.4v5.2m0 18.1v2.7m0 5.1v2.7m0 15.5v2.7m0 13v2.7m0 2.4v2.7m0 38.9v5.3m0 2.5v5.3m0 7.7v2.7m0 2.5v2.7m0 54.6v2.7m0 7.6v2.7M297 143.1v2.7m0 25.9v2.7m0 7.7v2.7m0 28.4v2.7m0 41.5v2.7m0 18.1v2.7m0 7.7v2.7m0 18.1v2.7m0 75.3v2.7m0 2.5v2.7m0 106.5v2.7M301 96.2v2.7m0 2.6v2.7m0 5v2.7m0 20.8v2.7m0 5.1v2.7m0 10.3v2.7m0 5.1v2.7m0 31.1v2.7m0 12.9v5.2m0 10.3v2.7m0 20.8v2.7m0 18v2.7m0 15.5v2.7m0 7.7v2.7m0 2.5v2.7m0 7.7v2.7m0 20.8v2.7m0 20.6v7.9m0 10.3v2.7m0 20.8v2.7m0 2.4v5.3m0 46.7v2.7m0 7.7v2.7m0 5.1v2.7m0 5.1v2.7m0 18.2v2.7m0 5.1v5.2m0 23.3v2.7m0 7.8v2.7M341 184.7v2.7m0 64.8v2.7m0 33.7v2.7m0 23.3v2.7m0 2.6v2.7m0 75.2v2.7m0 18.1v2.7m0 44.1v2.7m0 49.3v2.7m0 7.8v2.7m0 18v2.7m0 2.6v2.7M350 85.9v2.7m0 12.9v2.7m0 101.3v2.7m0 12.9v2.7m0 7.7v2.7m0 38.8v2.7m0 90.9v2.7m0 23.3v2.7m0 7.8v2.7m0 7.6v2.7m0 28.5v2.7m0 2.5v2.7m0 23.3v2.7m0 10.3v2.7m0 41.6v2.7m0 7.6v2.7m0 2.5v2.7M395 163.8v2.7m0 23.3v2.7m0 28.6v2.7m0 106.4v2.7m0 2.5v5.4m0 67.4v2.7m0 49.3v2.7m0 44.2v2.7m0 12.8v2.7m0 2.6v2.7M409 429.1v2.7m0 49.3v2.7M444 184.7v2.7m0 49.3v2.7m0 23.2v2.7m0 33.7v2.7m0 54.5v2.7m0 85.7v2.7m0 28.5v2.7m0 44.1v2.7M484.5 96.2v2.7m0 148.2v2.7m0 142.8v2.7m0 2.5v2.7m0 18.1v2.7m0 18.1v2.7m0 49.3v2.7M499 179.5v2.7m0 2.5v2.7m0 7.7v2.7m0 44.1v2.7m0 38.8v2.7m0 12.9v2.7m0 2.5v2.7m0 54.5v5.4m0 25.8v5.3m0 140.3v2.7M509 195.1v2.7m0 148v2.7m0 23.3v2.7m0 90.9v2.7m0 18.1v2.7M528 98.9v2.7m0 51.9v2.7m0 7.6v2.7m0 13v2.7m0 2.5v2.7m0 7.7v2.7m0 54.4v2.7m0 18.1v2.7m0 54.5v2.7m0 7.7v2.7m0 2.5v2.7m0 44.1v2.7m0 28.5v2.7m0 59.7v2.7M541.5 148.3v2.7m0 324.8v2.7M562 101.5v2.7m0 2.5v2.7m0 38.9v2.7m0 38.8v2.7m0 28.6v2.7m0 12.9v2.7m0 44v2.7m0 7.8v2.7m0 38.8v2.7m0 23.3v2.7m0 13v2.7m0 49.3v2.7m0 70v2.7m0 23.4v2.7M592 91.1v2.7m0 2.4v2.7m0 158.5v2.7m0 75.3v2.7m0 13v2.7m0 7.6v2.7m0 106.5v2.7M599 91.1v2.7m0 33.7v2.7m0 54.5v2.7m0 64.8v2.7m0 13v2.7m0 2.4v2.7m0 38.9v2.7m0 18.1v2.7m0 33.7v2.7m0 90.9v2.7m0 85.8v2.7M629 81v2.4m0 49.3v2.7m0 23.3v2.7m0 33.7v2.7m0 59.6v2.7m0 23.3v2.7m0 122.1v2.7m0 132.5v2.7M693 101.5v2.7m0 2.5v2.7m0 28.4v2.7m0 85.7v2.7m0 54.5v2.7m0 33.8v2.7m0 44v2.7m0 38.9v2.7m0 49.3v2.7m0 2.5v2.7m0 7.7v2.7m0 12.9v2.7M704 299v2.7m0 49.4v2.7m0 116.8v2.7m0 28.5v2.7m0 12.9v2.7m0 28.5v2.7M754 340.6v2.7M765 101.5v2.7m0 12.9v2.7m0 12.9v2.7m0 80.5v2.7m0 18.1v2.7m0 54.5v2.7m0 7.6v2.7m0 13v2.7m0 127.2v2.7m0 54.6v2.7M771 111.9v2.7m0 12.9v2.7m0 85.7v2.7m0 12.9v2.7m0 28.4v2.7m0 33.7v2.7m0 33.7v2.7m0 80.5v2.7m0 28.5v2.7m0 23.3v2.7m0 12.9v2.7M782 257.4v2.7m0 18.1v2.7m0 220.9v2.7"/>
<path stroke="#f00" stroke-opacity="0.03" stroke-width="2.2" fill="none" d="M464 148.3v2.7m0 90.9v2.7m0 28.4v2.7m0 18.2v2.7m0 49.2v2.7m0 7.7v2.7m0 49.3v2.7m0 38.9v2.7m0 70.1v2.7M467 85.9v2.7m0 163.6v2.7m0 13v2.7M734.5 205.5v2.7"/>
<path stroke="#f00" stroke-opacity="0.03" stroke-width="2.4" fill="none" d="M97 87.3v37.1m0 17.3v21.4m0 55.1v23.2m0 11.2v11.2m0 19.1v9.1m0 33.6v12.9m0 23.4v6.7m0 7.4v14m0 22.6v12m0 39.1v34.6m0 22v21.7M114 421.7v7.4m0 108.1v9.1M116.9 87.8v7.2m0 12.7v19.6m0 8.8v11m0 7.3v13.7m0 11.2v11.2m0 107.1v14.4m0 55.4v14.8m0 17.4v25.9m0 7.4v21m0 40v7.8m0 48.8v6.5M135.6 171v17.7m0 8v10.5m0 9.3v7.7m0 -.4v18.8m0 40.7v12.8m0 30v9.5m0 24.4v12.9m0 34.1v10.2m0 37.9v11.3m0 11.8v14m0 15.9v7.4M151.5 190.9v12.7m0 65.1v13.4m0 9.1v21.2m0 36.8v8m0 29.9v13.1m0 12v7.6m0 46.4v11.9M174.1 89.1v10.4m0 84.3v8.3m0 19v10.6m0 76.2v9.3m0 46.6v10.3m0 100.6v6.8m0 24.8v13.4m0 37v10.3M181.5 95v11.1m0 25.9v10.6m0 18.1v11.9m0 6.7v11m0 12.5v10.3m0 11.9v7.1m0 12.5v17m0 35.7v12.5m0 44.8v8m0 27.7v7.1m0 67.9v8.6m0 13.7v10.5m0 23.9v14.5M197.9 163v13m0 106.3v11.2m0 42.7v6.6m0 34.4v12.8m0 20.2v25.8m0 29.1v12.9M201.5 168.9v9.7m0 9.8v13.3m0 17.9v20.5m0 24.9v9m0 25.8v10.4m0 17.2v6.1m0 19.6v6.2m0 6.3v16.8m0 9.6v14.1m0 108.7v7.1M210.1 110.3v10.7m0 11.6v7.1m0 32.6v13.6m0 85.6v13.5m0 66.1v18.7m0 54.3v14.4m0 23.7v12.1m0 8.9v13.6M218.7 150.7v28.5m0 70.3v14.5m0 166.1v10.7M227.8 122.3v11.5m0 10.3v11.1m0 43.9v14.6m0 8.5v11m0 36.8v7m0 105.4v14.6m0 61.2v24.6m0 27.5v10.8M242.9 81v18.5m0 17v19.7m0 30.3v6.8m0 11.1v17.7m0 39.2v9.6m0 28.3v9.2m0 -.4v8.9m0 7.4v9.9m0 10.6v11.1m0 33.9v6.4m0 28.3v13.5m0 29.6v14.4m0 8.5v7.4m0 33.5v11.6m0 7.8v8.1m0 -.4v9.2M255.3 106.4v12.9m0 21.9v12.1m0 48v7.9m0 37.4v17.6m0 33.5v7.6m0 19.2v6.8m0 19.1v9m0 9.2v12m0 6.9v6m0 27.3v10.1m0 48v19.3M258.8 105.2v8.8m0 19.4v11.8m0 78.6v8.8m0 100.6v9.2m0 66.4v10.4m0 13.6v24.4m0 41.1v8.6M272.2 126.3v6.1m0 153.2v6.4m0 13.7v8.5m0 60.6v21.5m0 54.3v10m0 32.2v7.9m0 25.3v9.5m0 19.2v2.3M284.6 110.7v7.9m0 68.4v47.9m0 45.9v21.9m0 8.7v7.3m0 78.6v9.3m0 23.6v14.2m0 66.3v13.6M339.6 96.2v10.5m0 27.1v34.5m0 28.6v19.9m0 11.1v7m0 -.4v11.2m0 35.4v12.6m0 23v8.3m0 16.2v22.6m0 53.6v16.6m0 46.8v11.2m0 6.7v12.3m0 17.3v12M342 108.2v5.7m0 11.2v6.7m0 160v14.2m0 128.7v6.6m0 84.3v13.3m0 7.5v10.6M353.6 94.3v13.2m0 52.2v12.2m0 16.6v14.5m0 25.2v10.3m0 42.8v7.8m0 29.3v20.3m0 8.8v19.4m0 32.9v13.8m0 96v6.9m0 7v19.7M359.5 94.9v14.5m0 -.4v13.1m0 11.4v15.2m0 35.8v15.2m0 33.6v28.3m0 12.8v9.6m0 28.6v8.1m0 17.6v20.2m0 22.3v14m0 33.8v7.6m0 54.7v10m0 22.3v14.2m0 14.1v5.5M377.1 81v14m0 25.4v10.4m0 6.7v10.9m0 15.9v48.1m0 83.1v10.9m0 30.5v10.1m0 53.4v8.5m0 53.1v8m0 7.1v10.9m0 19.6v9.4m0 10.6v8.2M380.2 100.9v29.4m0 21.4v11.7m0 6.5v13.5m0 9.5v25.3m0 52.5v10.6m0 41.6v24m0 143.1v43.7m0 13.5v9.2M383.7 81v11.5m0 65.1v12.3m0 7.4v7.2m0 18.4v10.6m0 8.5v6.1m0 13.9v14.5m0 19.4v14.1m0 18.5v7.9m0 30.4v11.3m0 162.4v30.7M395.3 81v7.2m0 15.8v14.4m0 13.3v38.6m0 43.4v14.5m0 48.3v20.2m0 5.2v9.5m0 50.5v6.3m0 19.3v8.4m0 10.3v14.8m0 25.9v7.4m0 55v21.8m0 10.6v15.3M403.8 92.4v13.6m0 105.8v8.5m0 25.5v13.2m0 221.9v6.6M413.5 103.3v47m0 29.7v14.3m0 22.8v9.4m0 76.7v8.4m0 5.5v6.8m0 24.4v8.1m0 12.9v12.8m0 96.3v23.3M418.4 104.2v8.7m0 19v13.9m0 21.8v6.8m0 16.3v6.5m0 9v19.3m0 7v11.2m0 -.4v17.9m0 27.4v12.4m0 93.8v10.4m0 25.2v13.3m0 32.4v10.9m0 10.8v9.9m0 19.4v8.1M421.3 226.4v9m0 130.8v12.4m0 66.9v14.4m0 94.3v2.8M427.3 107v9m0 98.2v14.6m0 100.4v14.5m0 32.1v13.5m0 77.3v7m0 15.4v10.4M432.1 158.4v7.4m0 19v6.8m0 86.3v14.6m0 37.7v20.8m0 11.4v25.1m0 45.6v5.9m0 45.1v21.3m0 14.9v10.7M435.4 90.8v16.4m0 36.2v6.5m0 6.1v19.6m0 45.9v10.1m0 23.5v9m0 36.1v6.6m0 10.7v29.8m0 152.2v7.4m0 27.2v9.7M443.9 158.8v10.8m0 60.2v14.6m0 6.6v14.1m0 68.1v11m0 9.4v15.8m0 13v9.9m0 156.6v8.1M456.6 117.1v20.7m0 28.5v6m0 62.1v10.3m0 5.6v18.2m0 121.1v12.7m0 71v14m0 11.4v10M483.9 130.8v10.8m0 26v7.1m0 43v7.5m0 50.3v7.2m0 140.8v13.6m0 45.6v8.6m0 52.6v6.9M495.9 196.8v12.7m0 95.1v12.5m0 5.7v6.2m0 27.7v11.1m0 14.2v12.6m0 57.5v10.8m0 73.9v20.2M499 112.1v20.7m0 44.5v34.6m0 -.4v11.5m0 82.7v11.8m0 47.3v14.2m0 19.1v9.5m0 98.2v17.8M501.3 160.9v13.5m0 24.4v7.5m0 -.4v10.6m0 24v11.4m0 12.5v8.7m0 42.1v14.5m0 6v8.9m0 8.2v10.4m0 -.4v11.2m0 93.8v7.6m0 12.4v6.1M506.1 219.8v14m0 79.1v10.1m0 29.7v16.1m0 100.4v6.3m0 76.3v5.2M526.8 117.3v7.3m0 26.9v23.6m0 10.5v13.1m0 28.2v6.9m0 63.4v9.9m0 51.4v13.9m0 96v14.5m0 38.2v10.1m0 18.6v7.2M543.9 249.7v9.2m0 22.2v9m0 110.6v9m0 61.8v10.3m0 37.8v21.7M547.4 81v8.6m0 116v6.9m0 11.8v12.1m0 115.4v6.1m0 119.2v20.2M550.1 119.1v7.5m0 9.5v13.2m0 281.5v11.8M584 314.6v2.7M587.7 89.7v24.8m0 25.8v11.4m0 10.8v5.8m0 36.4v13.7m0 112.7v11.8m0 113.9v6.2m0 39.7v27.5M606.9 219.3v18.2m0 158.7v10.9m0 8.1v7.7m0 7.9v8.7m0 23.7v9.7m0 67.4v10.5M615.2 81v19.4m0 59.2v7.6m0 64.1v25.1m0 14v20.9m0 5.4v13.1m0 140.6v12.6m0 35.3v7.5m0 28.7v13.2M618.6 225.2v6.1m0 18v19.8m0 153v10.6m0 63.8v11.7m0 6v6.3m0 23.1v11.3M621.3 81v7.9m0 103.4v10.9m0 192.3v21.1m0 18.7v7.5m0 106.1v8.1M624.1 209.9v9m0 110.7v9.7m0 61.6v9.8m0 -.4v25.9M631.8 152.1v10.7M634.8 271.4v14.1m0 35.1v6.3m0 21.3v10.9m0 107v9m0 75.4v6.5M640.7 159v7.1m0 70.7v6.9m0 11.7v6.9M649.9 174.6v6M658.5 89.7v13.5m0 37.3v10.4m0 -.4v10.5m0 31v18.5m0 10.9v9.3m0 22.2v6m0 128.9v31.4m0 9.4v13.4M664 113.8v10.9m0 19.3v10.2m0 302.3v13m0 63.2v17.8M672.9 146.1v13.8m0 10.5v21.9m0 44.1v7.7m0 -.4v15.3m0 80.5v7.5m0 71.2v14.2M687 140.9v11.9m0 219.6v8.7m0 63.3v14m0 39.8v19M713.3 448.8v9.4m0 20.4v9.8M719.6 92.8v11.6m0 233.8v20.9m0 180.5v7.5M733.5 97.4v9.8m0 62.2v9.2m0 60.9v10.1m0 79.8v14.2m0 143.7v8.5m0 -.4v9.5M737 92.3v6.1m0 6.4v22.4m0 91.4v11.5m0 126v32.4M754.4 490.2v21.5m0 -.4v10.9m0 19.7v7.3M757.6 224.9v12.7m0 108v15.9m0 47.9v12.9m0 20.4v10.9M761.2 156.2v8.3m0 5.9v12.7m0 19.4v8m0 118.7v8.3m0 56v13m0 68.3v12.3m0 36.6v11.9m0 11.9v9.5M775.2 241.2v7.3m0 95.2v12.9m0 54.4v7.6m0 66.4v9.8M780.3 205.7v10.9m0 184.2v8.5m0 16.1v26.7m0 10.9v8.2M782.6 254.9v6.6m0 21.3v10.1m0 10.5v24m0 26.5v10.4m0 128.9v12.5m0 5.3v10.6"/>
<path stroke="#f00" stroke-opacity="0.03" stroke-width="4.5" fill="none" d="M95.2 395v5.9m0 5.6v31.2"/>
<path stroke="#f00" stroke-opacity="0.05" stroke-width="1.5" fill="none" d="M744.5 81v2.4m0 90.9v2.7m0 12.8v2.7m0 7.8v2.7m0 12.9v2.7m0 70v2.7m0 12.9v2.7m0 2.5v2.7m0 122.1v2.7m0 117v2.7"/>
<path stroke="#f00" stroke-opacity="0.05" stroke-width="1.6" fill="none" d="M99.7 505v7M145.7 342.2v11.6M162.3 81v13.2m0 39.3v8.1M189.3 195.5v32.3m0 312.2v9.3M194.9 151.1v7.1M221.3 223.4v10.5m0 68v12.5m0 31.9v9.9m0 62.9v12.4m0 124.8v.7M230.2 88.1v20.4M250.2 96.6v6.2m0 33.8v8.7m0 113.7v8.7m0 116.2v7.4m0 81.6v10.8m0 51.1v9.2M269.9 327.5v11.4m0 45.7v13.7m0 -.4v19.3M287.9 81v6.8m0 85.8v13.5m0 159.2v9.7m0 162.2v18.3M290.5 291.5v11.2m0 32.4v14.2m0 110.9v18.2M302.2 165.8v11.8m0 60.1v13.8m0 19.6v12.5m0 25.6v22.3m0 92.4v23.8m0 19.5v18.4m0 20.2v18.9m0 23.2v7.5M316.9 106.1v12.8m0 145v12.7m0 24.3v6.5m0 158.3v9m0 17v10.4m0 -.4v8.8m0 32.1v11.7M322.6 93.8v12.1m0 35.8v12.1m0 111.9v11m0 132.5v11.6M336.9 130.8v11.5m0 58.2v6m0 106.3v10.8m0 51.1v6.2m0 112.1v9m0 9.9v12.4m0 -.4v11M371.1 115.1v8.2m0 87v22.5M374.4 482.7v6.2M392.4 119.9v8.1m0 31.1v6.2m0 125.5v14.6m0 155.2v7.8M398.4 93v14.1m0 27.3v20.7M407.3 87.2v10.1m0 19.5v8.3m0 92.3v24m0 8v12.2m0 88.4v14.3m0 58.9v11.2M416 94.6v9.1m0 -.4v14.3M438.2 101.5v19.1m0 82.3v7.8m0 7.9v8.6m0 23.5v13.7m0 17.4v10.1m0 55.6v14.4m0 59.8v6.8m0 46.1v29.9M449.3 94.3v10.9m0 132.2v12.7m0 -.4v34.9m0 11.2v26.4m0 74.1v9.2m0 51.7v12.3m0 36.3v5.8m0 26.1v7.2m0 10.8v1.3M454 102.9v11.6m0 59.8v11.6m0 7.8v7.6m0 7.5v7.1m0 59.4v8.3m0 7.9v20.5m0 6.6v21.8m0 22.9v8.9m0 21.7v13.1m0 97.5v19m0 10.3v11.9m0 6.8v4.5M459.9 218.5v19m0 10.2v6.9m0 54.8v6.5m0 13.8v7.3m0 52.1v12.1m0 24.1v9.9m0 53v12.5m0 29.6v9.9M462.3 109.2v13m0 126.8v20.1m0 25.4v13.8M469 190.6v9.7m0 -.4v12.6m0 17.3v10.2m0 28.5v13.6m0 6.3v8.9m0 80.8v6.1m0 20.9v10m0 10.7v7.1M472.5 339.7v12.8m0 137.2v19.2M475.2 157.3v6m0 272.1v6.8m0 12v10.6m0 20.1v22.3m0 33.4v7M481.6 94.4v8.4m0 102.4v11.1m0 50.8v7.4m0 225.3v9m0 24.8v14.4M489.7 93.9v8.2m0 9.7v7.4m0 -.4v15.8m0 21.9v13.1m0 13.4v26.5m0 30.4v7.3m0 29.2v11.9m0 13.6v25.7m0 39v12.1m0 25.2v13.6m0 60v13.9m0 13.4v7.9m0 44.2v.1M493.2 81v13m0 11.3v8.4m0 70.7v5.7m0 46.5v7.4m0 7.3v6.5m0 13.6v13m0 11.4v13.7m0 68v21.9m0 64.3v14.1m0 13.6v12.5m0 -.4v8.6m0 20.4v7.3M509.4 89.4v6.6m0 15.3v13m0 20.1v8m0 38.8v13.8m0 114.6v28.8m0 34.6v14m0 69.9v9.1m0 6v13.8m0 32.8v8.8m0 -.4v20M511.7 122.1v5.9m0 10.3v7.4m0 55.6v11.3m0 69v18.7m0 7.2v18.3m0 16.5v8.9m0 33.1v16.4m0 11.3v14.2m0 27.8v8.1m0 53.3v22.7M514.8 81v20m0 10.9v11m0 10.7v11.2m0 -.4v7m0 55.2v22m0 70.7v8.7m0 129v18.6m0 32.1v7m0 23.5v11.1M518.2 101.6v6.2m0 5.8v14.6m0 9.8v12m0 36.3v35.8m0 53.6v18.5m0 245.9v7.6M521.4 81v10.1m0 22.3v28.9m0 65.7v6.2m0 22.1v14.9m0 47.5v6.6m0 8.8v13.2m0 34.7v9.3m0 141.1v10.3M529.6 135.1v9.7m0 6.3v12.9m0 7.9v20.5m0 13.6v16.9m0 25.9v13.5m0 19.7v11.4m0 102.7v10.4m0 15.5v9.5m0 21.3v20.9m0 25.8v6.2M538.1 94.5v9m0 24.9v9.7m0 106.6v29m0 89.7v13.3m0 64.4v11.2m0 38.8v8.6m0 5.4v19.3m0 16.4v7.5M541.5 277.6v14.7m0 -.4v24.1m0 17.3v8.1m0 33.1v6.7m0 18.5v8.1m0 42.2v18.3m0 23.6v15.9M553.4 81v13.8m0 84.8v10.9m0 128.7v17m0 128.8v8.8m0 52.9v11.1M558.7 81v35m0 22.7v10.1m0 8v8.1m0 100.3v13.5m0 35.3v5.8m0 43.9v14.9m0 61v7m0 10.2v9.2m0 23.7v12.2m0 46.2v6.5M560.9 170.4v18.3m0 27.8v13.3m0 40.4v6.6m0 38.3v25.1m0 6.2v22.9m0 16.7v8m0 98.8v8.9m0 11.9v15.7M566.6 144.2v13.3m0 95.4v10.2m0 25.9v13.4m0 -.4v19.1m0 42.1v7.4m0 20.8v19.2m0 12.2v9.7m0 45.6v9.9m0 25.4v6.4m0 5.2v13.8M571.6 102.3v8.1m0 10.6v13.6m0 11.4v8.1m0 62.9v11.6m0 27.7v6.9m0 219.1v5.8m0 43.7v12.6M574.5 130.4v11m0 27.3v6.2m0 10.6v8m0 7.8v11.1m0 14.7v12.3m0 25.7v8.1m0 29.1v11.1m0 25.8v7.4m0 130.6v8m0 45.8v11.5M585.2 92.5v14.6m0 68.6v10.5m0 8.5v9.3m0 49.4v11.5m0 31v15.7m0 41v7.7m0 11.5v26.6m0 36.9v9.8m0 27.8v14.6m0 35.5v10.3m0 19.8v3.9M590.2 93.6v14m0 76v17.2m0 152.6v18.7m0 23.2v10.6m0 42.3v24.7m0 19.4v13.3m0 -.4v14.5m0 5.8v8.7M599.5 111v7.4m0 26.1v9.8m0 21.6v22.8m0 41.1v12.8m0 53.2v12m0 45.7v9.1m0 16.3v20.8m0 32.9v7.1m0 55.6v11.7m0 18.7v13.5M602.1 110.7v6.5m0 18.7v21.7m0 17.5v10.3m0 10.3v10.1m0 64.2v13.9m0 64v20.6m0 26.6v33.1m0 49.7v5.9m0 43.2v19.9M612.8 146.1v7.6m0 32.6v19.2m0 23.4v18.1m0 21.2v10.4m0 5.8v17m0 111.5v11.3m0 9v12m0 46.1v5.9m0 26.4v11.3m0 11.5v10.6M626.8 139.9v16.1m0 52v12.8m0 10.4v11.6m0 79.7v8.3m0 16.3v18.7m0 33.1v6.4m0 31.9v12.5m0 10.5v10.1m0 16.9v10.5m0 10.9v25.9m0 9.7v12.8M637.8 217.2v13.9m0 -.4v13.9m0 11.8v36.6m0 78.1v10.6m0 6.2v8.2M643.6 114.4v9.8m0 44.7v12.2m0 21.1v6.4m0 8.6v6m0 167.4v25.2m0 78.9v18m0 11.3v13.6m0 -.4v8.2M655.7 93v8.1m0 56.1v30.2m0 33.8v9m0 22.2v7.2m0 11.3v12.9m0 13.8v9.2m0 7v16.5m0 8.3v22.5m0 55.1v14.2m0 18.2v10.8m0 28.5v6m0 7.2v12.3m0 8v16.2m0 8.9v10.5M666.8 114.8v8.5m0 50.9v6.9m0 7.7v8.7m0 31.1v13.2m0 81.4v12.2m0 10.6v16.8m0 13v13m0 24.1v13.1m0 5.9v8.6m0 18v12.3m0 15.9v22.3m0 42.5v5.5M670.3 81v17.5m0 34.3v13.5m0 23.4v13.9m0 13.1v11.5m0 -.4v9.3m0 18.2v11.3m0 56v11.9m0 63.3v16.7m0 73.8v8.4m0 27.2v6M678.7 108.1v5.7m0 53v10.6m0 -.4v13.6m0 19.3v13.3m0 6.3v12.3m0 5.4v29.9m0 9.9v11.1m0 30.6v11.7m0 13.9v10.9m0 8.1v13.6m0 41.2v30.6m0 16.6v9.4m0 12.6v13.1m0 33v13.6M681.2 95v10.9m0 32.4v30.2m0 67.1v11m0 40.2v11.2m0 13.9v13.3m0 30.1v11.7m0 22.6v10m0 8.7v14.5m0 42.6v9.8m0 6.3v25.7m0 5.3v14.5m0 6.3v14M689.9 142.7v30.4m0 48.6v11.1m0 10.3v13.9m0 23.4v8.9m0 41.6v8.4m0 19.8v9.3m0 11.7v10.1m0 48v9.5m0 19v13.9m0 75.3v1.1M692.5 81v8.5m0 30v12.9m0 29.2v23m0 45.5v22.9m0 -.4v13.6m0 110.3v5.9m0 148.4v26.2M695.9 98.2v6.7m0 9v15.9m0 48.4v15.2m0 9.2v10.6m0 6.4v24.8m0 30.6v12.9m0 5.8v9.1m0 55.8v9m0 164v11.1M698.4 81v10.5m0 21.5v16.5m0 -.4v16.2m0 17.6v9.5m0 26.2v11m0 96.5v7.6m0 13.3v20.9m0 50.5v13.3m0 55.8v12.7m0 30.7v10.7m0 7.2v23M716.5 92.1v12.5m0 5.9v18.9m0 19v32.4m0 17.4v6.4m0 18.7v20.6m0 13.3v10.6m0 12.1v26.6m0 19.3v10.7m0 18.2v20.3m0 19v8.6m0 9.9v8.3m0 29.6v12.4m0 86.5v7.7M722.4 129.7v25.3m0 19v12.2m0 36.9v21.7m0 8.3v6.1m0 11.3v13.6m0 17.7v23.4m0 12.6v11.3m0 17.5v11.9m0 28v34.2m0 19.1v7.4m0 16.5v12.9M742.7 116.6v13.9m0 42.8v7.8m0 41v7.2m0 30.9v20.5m0 19.4v9.7m0 53.2v23.3m0 5.8v13.3m0 11.5v7.8m0 18.2v10m0 34.3v10.6m0 20.6v13.5m0 9.5v15.6M770.1 92.2v7.2m0 54.3v21.3m0 11v34m0 12.4v14m0 -.4v6.4m0 72.4v21.1m0 13.6v25.2m0 25.8v13.6m0 32.6v20.2"/>
<path stroke="#f00" stroke-opacity="0.05" stroke-width="1.7" fill="none" d="M91 426.4v2.7m0 122.1v2.7M98.6 275.6v2.7M103.3 88.5v2.7m0 288.4v2.7M108.1 520.1v2.7M112.5 153.5v2.7m0 293.6v2.7m0 20.7v2.7m0 15.5v2.7M131.4 135.2v2.7m0 322.3v2.7M136.8 132.7v2.7m0 119.5v2.7M147.3 491.4v2.7M152.1 140.5v2.7m0 389.9v2.7M161.2 244.5v2.7m0 187v2.7m0 46.7v2.7M166.7 117.1v2.7m0 402.8v2.7M172.6 252.2v2.7m0 283.3v2.7M177.8 195.1v2.7M183.7 343.2v2.7m0 132.5v2.7m0 49.3v2.7M188.6 114.5v2.7m0 376.9v2.7M195.6 540.9v2.7M200 218.5v2.7m0 59.7v2.7m0 129.8v2.7M205.3 543.4v2.7M214.1 179.5v2.7m0 153.2v2.7m0 197.5v2.7M217.2 161.3v2.7m0 101.2v2.7M222.5 130.1v2.7m0 189.6v2.7M226.4 403.1v2.7M231.6 148.3v2.7m0 267.6v2.7M235.6 345.8v2.7m0 23.3v2.7M240.4 195.1v2.7M244.9 81v2.4m0 132.5v2.7m0 10.3v2.7m0 179.2v2.7M250.4 343.2v2.7M255.6 540.9v2.7M259.9 213.2v2.7m0 106.5v2.7m0 5.1v2.7m0 223.5v.6M265.6 369.2v2.7M274.8 85.9v2.7m0 166.3v2.7m0 20.6v2.7m0 5.1v2.7m0 7.7v2.7m0 31.1v2.7m0 64.9v2.7M284.1 88.5v2.7m0 36.3v2.7m0 163.7v2.7M291.9 88.5v2.7m0 38.9v2.7m0 304v2.7m0 38.9v2.7M295.8 148.3v2.7M299.7 410.8v2.7M303.1 244.5v2.7M311.7 174.3v2.7m0 314.4v2.7M315 317.2v2.7M319.5 481.1v2.7M323.7 332.9v2.7M328.5 410.8v2.7m0 142.9v.6M333.6 200.3v2.7m0 215.6v2.7M338.9 288.6v2.7m0 246.9v2.7M343.9 83.2v2.7m0 33.8v2.7M349.5 304.2v2.7m0 72.7v2.7M353.4 192.5v2.7m0 129.8v2.7m0 98.7v2.7M357.1 96.2v2.7m0 31.2v2.7m0 257.3v2.7M365.5 309.4v2.7m0 36.3v2.7M387.4 153.5v2.7m0 291v2.7m0 25.9v2.7m0 5.1v2.7M391.1 265.2v2.7M396.3 236.7v2.7m0 36.2v2.7m0 54.6v2.7m0 83v2.7M399.8 208.1v2.7M403.2 478.4v2.7M416.8 249.7v2.7m0 119.4v2.7M421.6 236.7v2.7m0 70v2.7m0 15.5v2.7M427.5 135.2v2.7m0 166.3v2.7M432.2 153.5v2.7M437.5 473.2v2.7M441.8 382.2v2.7m0 70.2v5.2M447.5 200.3v2.7m0 2.5v2.7m0 18v2.7M452.9 403.1v5.2m0 127.3v2.7M456.7 158.7v2.7m0 366.5v2.7M461.8 137.8v2.7m0 135.1v2.7M464.9 148.3v2.7M469.6 166.5v2.7m0 371.7v2.7M479.9 314.6v2.7m0 41.5v2.7m0 119.6v2.7M485.8 371.8v2.7m0 44.1v2.7M490.9 85.9v2.7m0 176.6v2.7m0 135.2v2.7m0 7.6v2.7M494.2 143.1v2.7m0 358.6v2.7m0 23.3v2.7M501.8 304.2v2.7m0 116.9v2.7m0 111.7v2.7M505 325v2.7m0 67.5v2.7M510.8 470.6v2.7m0 75.3v2.7M515.2 509.6v2.7M519.9 483.6v2.7M524 239.2v2.7m0 249.5v2.7m0 20.8v2.7M527.2 93.7v2.7m0 7.7v2.7m0 23.3v2.7M535.9 291.2v2.7m0 26v2.7M539.1 88.5v2.7m0 306.6v2.7m0 7.7v2.7m0 12.9v2.7m0 44.1v2.7m0 80.6v2.7M547.8 254.9v2.7m0 80.5v2.7m0 122v2.7M551.1 377.1v2.7M555.5 252.2v2.7m0 187.2v2.7M565.2 460.2v2.7M569.9 353.6v2.7m0 28.5v2.7m0 163.7v2.7M584.6 296.4v2.7m0 137.7v2.7m0 18.1v2.7M589.1 81v2.4M599.8 132.7v2.7m0 28.4v2.7m0 15.6v2.7m0 249.4v2.7M604.2 314.6v2.7M612.5 127.5v2.7m0 59.6v2.7m0 278.1v2.7m0 57.1v2.7M618.2 137.8v2.7m0 5.2v2.7m0 101.3v5.2M632.2 213.2v2.7m0 52v2.7m0 153.2v2.7m0 59.7v2.7M638.1 109.2v2.7M642.1 343.2v2.7m0 5.2v5.2m0 28.5v2.7M647.5 156.1v2.7m0 51.9v2.7m0 244.2v2.7M652.9 379.6v2.7m0 57.1v2.7m0 54.5v2.7M658.1 174.3v2.7m0 31.1v2.7M663.2 241.9v2.7M667.9 387.4v2.7m0 106.5v2.7M673.6 218.5v2.7m0 7.7v2.7m0 314.5v2.7M677.9 392.6v2.7M683.5 369.2v2.7m0 75.3v2.7M687.7 140.5v2.7m0 236.4v2.7m0 25.9v2.7m0 85.7v2.7M691.6 306.9v2.7m0 145.5v2.7M697.5 215.9v2.7M707.6 145.7v2.7m0 59.7v2.7m0 218.3v2.7M713 421.2v2.7M718.5 322.4v2.7m0 153.3v2.7M721.7 538.2v2.7M725.6 299v2.7M736.5 163.8v2.7m0 10.3v2.7m0 140.4v2.7m0 119.5v2.7M740.1 553.9v2.7M745.4 169.1v2.7m0 124.6v2.7m0 20.8v2.7m0 75.2v2.7m0 148.1v2.7M751 182.1v2.7m0 161v2.7m0 5.1v2.7m0 179.3v2.7m0 5.1v2.7M754.3 189.8v2.7m0 103.9v2.7m0 2.5v2.7m0 28.6v2.7m0 184.5v2.7m0 23.3v2.7M758.6 111.9v5.3m0 20.6v2.7m0 397.7v2.7M763.7 101.5v2.7m0 119.5v2.7m0 23.3v2.7m0 54.5v2.7m0 62.2v2.7m0 168.9v2.7M768.5 239.2v2.7m0 111.7v2.7M777.1 244.5v2.7m0 197.4v2.7m0 96.1v2.7M780.9 548.6v2.7M784.1 166.5v2.7m0 249.4v2.7m0 36.3v2.7"/>
<path stroke="#f00" stroke-opacity="0.05" stroke-width="2" fill="none" d="M96 453.7v25.9m0 17.1v9.9m0 -.4v10.1M170.6 104.4v10.5m0 129.3v16.1m0 7.2v6.9m0 163.7v6.4M203.9 266.7v6.6m0 11.4v14.6m0 66.9v8.5M233.7 137.7v11.8m0 73.8v8.9m0 153.2v14.7m0 127.5v8.8M236.4 94.3v6.7m0 10.2v11.4m0 50.3v11.5m0 205.3v8.2M239.8 192.8v11.4m0 75.9v9.3m0 54.7v23.2m0 77.9v6.7m0 45.5v12.5M245.6 193.8v12.5m0 41.5v11.3m0 19.8v16.1m0 12.7v6.4m0 11.8v13.2m0 31.2v12.6m0 46.1v32.9M253.1 174.4v5.8m0 104.3v11.3m0 9.2v12.6m0 38v14.3M263 515.5v7.5m0 -4.1v4.1M267.3 340.9v11.1M275 518.3v4.7M275.1 87.3v9m0 11.2v7.5m0 88.5v14.4m0 28.6v10.4m0 80.4v13.6m0 93.7v13.9M278.1 196.7v9.9m0 25.2v7.9m0 62.1v19.8m0 49.7v12.6m0 -.4v12.1m0 5.4v5.9m0 96.7v5.9m0 31.5v16M281 518.9v4.1M281.7 251.1v13.1m0 207.8v7.2m0 57.9v10.2M283 514.2v8.8M285 517.6v5.4m0 -3v3M304.8 478v6.7M339 517.5v5.5M341 512.1v10.9M355 514.4v8.6M356.7 81v24.4m0 31.7v13.8m0 21.1v11.7m0 109.4v16.2m0 16.4v11.1m0 8.9v10.3m0 24.8v14m0 100.5v8.9m0 34.3v12.6M365 108.3v13.3m0 79.1v13.1m0 32.2v11.6m0 35.4v7.3m0 40v8.9m0 -.4v10.4m0 33.7v14.2m0 36.7v17m0 7.7v15.9m0 70.5v2.1M368.2 250.7v14.7m0 134.6v14.5m0 58.7v14.2m0 52.1v17.5M386.6 89.4v7.1m0 65.5v11.8m0 65v8.3m0 50v7.7m0 201.1v9.6m0 23.7v12.3M401.6 125.5v12.7m0 170.1v13.7m0 29.5v11.6m0 109.5v9.1m0 35.2v30.9M410.2 147.4v11m0 55v21.6m0 5.2v18.3m0 196.2v21.7m0 10.4v11.5m0 21.9v10.2M424 281.5v6.1m0 27.3v13M429.8 120.6v13.9m0 11v10.9m0 199.7v6.9m0 8v27.8m0 59.3v8.3m0 6v12.7m0 54.1v12M440.5 98v7.1m0 31.5v8.7m0 15.7v9.7m0 27.6v8.1m0 58v10.4m0 24.5v10.2m0 -.4v10.1m0 16.9v5.8m0 97.5v12.8m0 52v20.2M446.4 81v10.7m0 26.1v8.1m0 36v14.5m0 11.3v22.8m0 5.9v12.2m0 13.2v10.6m0 -.4v9.1m0 140v18.8m0 -.4v27m0 22.5v5.9M451.6 81v6.8m0 12.1v18.6m0 9.1v6.5m0 27.8v7.5m0 46.9v6.1m0 24.2v18.2m0 24v10.6m0 32.5v10.7m0 20v7.5m0 8.2v14.1m0 12.1v7.7m0 10.7v8.9m0 71.8v17.6m0 22.9v8.6M486.4 105.7v9.6m0 7v24m0 17.8v9.2m0 30.5v6.6m0 8.7v7.4m0 131v12.9m0 22v14m0 41.6v14.9m0 8.2v11.4m0 24.4v18.5M503.8 127.4v13.4m0 33v10.4m0 75.6v11.7m0 29.6v12.1m0 -.4v5.8m0 40.1v23.9m0 13.7v10.9m0 34.8v15.5m0 10.7v6m0 43.2v7.6M524.2 89.5v10.9m0 11.4v10.6m0 13.9v10.2m0 102.9v9.4m0 51.9v7.3m0 36.2v8.8m0 21.6v8.4m0 19.4v7.2m0 22.7v10M535.7 138.1v21.4m0 101.5v8.2m0 20.4v13.5m0 6.7v8.7m0 12.8v12m0 22.1v12.6m0 30.3v10.6m0 12.7v13.5m0 21.2v9.8m0 12.2v12m0 7.7v13m0 25.9v10.1M543 502.9v20.1m0 -11v11M547 512.3v10.7m0 -5.9v5.9M549 506v17M556.1 158.5v13.2m0 13.9v26.3m0 28.7v7.6m0 11.6v8.7m0 118.4v13.8m0 23.7v14.3m0 15.3v6.2m0 27.6v7.3m0 48.4v12.7m0 -.4v1.2M557 514.1v8.9M563.4 210.9v11.3m0 32.7v16.2m0 25.3v10.9m0 53.5v11.3m0 37.9v22.7M569 145.8v14.4m0 20.7v38.6m0 6.1v10.8m0 43.3v8.8m0 62.3v26.3m0 24.3v8.1m0 8.4v20.4m0 62.1v18.1m0 10.2v10.6M577 514.9v8.1M577.3 88.5v9.9m0 14.5v78.7m0 11.3v8.5m0 25.9v10m0 33.8v11.3m0 5.1v16m0 19.3v11.5m0 72.8v19.3m0 21.1v9.6m0 21.3v22.6m0 20.5v11.6m0 -.4v14.3M579 514.3v8.7M580.1 119.1v9.5m0 12.9v10.6m0 16.4v7.7m0 14v7.5m0 -.4v13m0 20.6v12.1m0 120.6v9.4m0 16.5v11.9m0 26.7v24.8m0 10.4v11.6m0 11.1v17.3m0 22.9v9.4m0 6.1v7M582.5 81v7.4m0 8.4v17.8m0 -.4v13.4m0 63.9v10.8m0 29.9v13.3m0 16.5v22.2m0 9.7v19.1m0 94.1v14.5m0 12.4v7.4m0 13.9v7.9m0 61.4v10.2m0 20.4v1.8M585 510.2v12.8m0 -7v7M589 508v15m0 -8.3v8.3M593.6 116.3v7.8m0 33.5v17.8m0 36.6v21.1m0 19.5v14.4m0 13.9v14m0 58.2v11.3m0 92.2v10.4m0 9.5v9.6M595.9 81v13.6m0 8.8v10m0 28.3v9.5m0 18.8v32.2m0 121.2v17.6m0 11.6v11.6m0 -.4v8.7m0 23.5v11.5m0 17.8v23.4m0 20v8.5m0 61.2v18.6M603 514.4v8.6m0 -4.7v4.7M604.5 93.8v11.8m0 55.9v10.4m0 7.3v10.2m0 13.1v13.5m0 7.8v41.1m0 11.3v11.2m0 49.4v9.4m0 176.5v13.9m0 13.4v7M610 81v14.7m0 12.8v30.9m0 39v12.9m0 14.6v21m0 110.5v11.6m0 71.6v7.4m0 19.6v13.7m0 21v30m0 10.4v11.6M629 515.6v7.4M629.5 95.1v13.9m0 7.5v7.6m0 19.7v22.9m0 5.9v16.7m0 15.4v11.9m0 64.6v12.9m0 9.7v8.4m0 72.3v10.5m0 89.5v6.1m0 38.2v21.7M643 516.8v6.2m0 -3.4v3.4M645 511.4v11.6m0 -6.4v6.4M646.7 113.6v7.7m0 164.6v9.2m0 44.8v21.1m0 48.2v13.4m0 -.4v24.6m0 8v6.5m0 20.6v7.9m0 19v7.5m0 40.7v0M649 517v6M651 516.7v6.3M653 519.4v3.6M659 516.7v6.3M660.9 159.2v23.5m0 41.5v36.2m0 43v10.7m0 18v27.1m0 6.1v21.8m0 7v7.8m0 86.9v14.2m0 10.2v22.8M682 515.9v7.1M684 517.9v5.1M684.4 113.3v5.7m0 19.5v13.5m0 60.5v13.4m0 29v37.5m0 13.6v11m0 13.9v10.3m0 -.4v7m0 172.9v14.4M690 517.6v5.4M700 518.6v4.4M702 517.7v5.3M704.1 89.6v13.9m0 13.3v14.4m0 17.7v14.7m0 6v11.5m0 48.5v12.6m0 22.3v9.3m0 41.5v21.4m0 37.5v21.4m0 21.5v7.2m0 17.1v8.4m0 6.4v8.4M707 518.2v4.8M707.4 91.7v14.6m0 7v33.6m0 13.1v9.4m0 42.2v7m0 37v17.8m0 49v17m0 -.4v24.8m0 37.7v8.3m0 64.3v6.9m0 13v22.5M709.9 109v7.7m0 12.6v6.2m0 25.1v18.5m0 36.6v13.8m0 26.4v8.9m0 28v9.8m0 39.8v13.6m0 27.9v7.8m0 8.3v51m0 32.9v11.2m0 23v24.1M713 516.6v6.4M719 517.7v5.3M721 518.1v4.9M723 518.8v4.2M725.1 81v8.7m0 33.8v6.2m0 36.5v11.9m0 9.3v12.9m0 10.9v7.8m0 50v42m0 12.1v14.6m0 12.9v14.7m0 -.4v21.1m0 34.1v25.9M727 519.4v3.6M727.5 81v18.5m0 30.6v7.2m0 20.1v23.4m0 14.3v7.5m0 21.1v8.4m0 7.1v11m0 15.2v8.8m0 -.4v23.8m0 32.5v16.2m0 12v16.6m0 11.4v23.3m0 11.6v7.7m0 11v13.9m0 80.9v13.5M730.3 128.4v11.9m0 9.1v14.5m0 6.5v9m0 29.9v36.4m0 -.4v31.9m0 71.7v10.5m0 21.2v29.6m0 23.1v27.7m0 8.6v6.4m0 26v24.4M731 516.8v6.2M735 519v4M739 513.2v9.8m0 -5.4v5.4M739.5 88.6v16.2m0 25.9v52.6m0 21.6v12.1m0 12.4v7.9m0 40.4v6.7m0 41.5v13.4m0 -.4v9m0 5.4v20m0 109.5v9.4M741 516.7v6.3M743 515.2v7.8m0 -4.3v4.3M747 512.5v10.5m0 -5.8v5.8M748.7 135.1v18.9m0 17.8v12.7m0 11.1v31.7m0 12.2v32.5m0 12.8v12.6m0 5.5v14.4m0 27.4v18.9m0 -.4v32.7m0 25.6v13.6m0 10.1v17.6M751 519.8v3.2M752 119.6v11.1m0 56.8v30.2m0 26.3v7.1m0 26v11.5m0 8.6v27.4m0 25.9v5.9m0 16.3v22.1m0 10.7v6.9m0 73.5v13.1m0 7.7v6.5M763 517.4v5.6M764.7 81v30.2m0 7.9v6.7m0 10.9v12.4m0 50.4v19.3m0 18.4v12.5m0 25.4v12.2m0 32.7v7.3m0 71.5v13.8m0 10.9v6m0 62.7v8.5m0 8.1v30.3M767 519.4v3.6M767.4 109.1v13.9m0 6v16.8m0 5.3v8.3m0 8v9.4m0 12.8v14.4m0 107.4v44.8m0 29v12.7m0 37.8v9.2m0 41.2v6.9m0 33.2v17.2M771 518.3v4.7M772.9 81v12m0 26.9v8.8m0 -.4v12.8m0 35.8v23.5m0 24.6v6.5m0 35.9v11.9m0 8.1v13.7m0 28.6v13.8m0 21.4v8.4m0 59.9v13.7m0 13.1v14m0 59.2v7.4m0 8.7v7.7M773 513.5v9.5m0 -5.2v5.2M777 518.6v4.4m0 -2.4v2.4M779 513.5v9.5M781 519.1v3.9M783 516.3v6.7M785 513.3v9.7M785.6 169.8v33m0 19.3v12.6m0 -.4v47.5m0 7v12m0 7v6.3m0 57.4v12.5m0 7.7v13.5m0 29.4v9.2m0 9.1v49.7m0 29.1v22.1m0 -.4v3.6"/>
<path stroke="#f00" stroke-opacity="0.05" stroke-width="2.1" fill="none" d="M104 83.2v2.7m0 7.8v2.7m0 7.7v2.7m0 2.4v2.7m0 2.6v5.3m0 10.3v2.7m0 23.3v2.7m0 12.9v2.7m0 5.1v5.3m0 18v2.7m0 7.7v8m0 2.5v2.7m0 10.3v5.2m0 10.3v2.7m0 2.5v2.7m0 5.1v2.7m0 2.5v2.7m0 33.8v2.7m0 36.2v2.7m0 2.6v2.7m0 5v2.7m0 5.1v2.7m0 10.3v2.7m0 2.5v2.7m0 25.9v5.4m0 28.4v2.7m0 28.5v2.7m0 5.1v5.3m0 7.7v2.7m0 7.7v2.7m0 18.1v2.7m0 2.5v2.7m0 2.6v2.7M297 96.2v2.7m0 2.6v2.7m0 25.9v5.3m0 15.4v2.7m0 13v2.7m0 7.6v2.7m0 46.7v5.4m0 7.6v2.7m0 2.6v2.7m0 5v2.7m0 5.1v2.7m0 2.5v2.7m0 15.5v2.7m0 7.8v2.7m0 10.3v2.7m0 2.4v2.7m0 12.9v2.7m0 15.5v2.7m0 5.1v5.3m0 18.2v2.7m0 2.4v5.3m0 23.3v2.7m0 5.1v2.7m0 18.1v2.7m0 2.5v2.7m0 2.5v2.7m0 33.7v2.7m0 36.3v2.7M301 88.5v2.7m0 7.7v2.7m0 18.1v2.7m0 12.8v2.7m0 5.2v5.3m0 23.3v2.7m0 7.7v10.4m0 46.7v2.7m0 10.3v2.7m0 10.3v2.7m0 5.1v2.7m0 5.2v2.7m0 7.6v2.7m0 13v2.7m0 12.8v2.7m0 5.1v5.4m0 5v2.7m0 15.5v2.7m0 28.6v2.7m0 2.4v5.3m0 23.3v2.7m0 10.3v2.7m0 5.1v5.3m0 15.5v2.7m0 31.1v7.9m0 2.5v2.7m0 15.6v5.2m0 2.5v2.7m0 7.8v5.2m0 5.1v.6M341 101.5v2.7m0 36.3v2.7m0 2.5v2.7m0 10.3v2.7m0 10.3v2.7m0 15.4v2.7m0 2.6v2.7m0 5v5.4m0 18v2.7m0 2.6v2.7m0 59.7v2.7m0 5v2.7m0 20.7v2.7m0 5.2v2.7m0 20.6v2.7m0 2.5v2.7m0 7.7v2.7m0 12.9v5.4m0 31v2.7m0 5.1v5.3m0 2.5v2.7m0 15.5v2.7m0 10.3v2.7m0 62.3v8M350 88.5v2.7m0 31v2.7m0 2.6v2.7m0 28.5v2.7m0 18.1v5.3m0 10.3v2.7m0 10.3v2.7m0 5.1v2.7m0 20.6v2.7m0 2.6v5.3m0 15.4v2.7m0 2.5v2.7m0 5.1v2.7m0 26v2.7m0 23.3v2.7m0 7.6v5.3m0 23.3v2.7m0 5.1v2.7m0 18.1v2.7m0 7.7v2.7m0 15.6v2.7m0 23.3v2.7m0 2.4v2.7m0 57.2v5.2m0 10.3v5.3m0 15.5v.6M395 96.2v2.7m0 67.6v2.7m0 36.3v2.7m0 20.7v5.3m0 41.4v2.7m0 15.6v2.7m0 2.4v2.7m0 18.2v2.7m0 10.3v2.7m0 41.5v2.7m0 33.6v2.7m0 7.7v8m0 18v2.7m0 5.1v2.7m0 25.9v2.7m0 2.5v2.7m0 5.1v2.7m0 7.7v8m0 2.5v2.7m0 15.4v2.7m0 7.7v5.3M409 127.5v2.7m0 18.1v2.7m0 59.7v2.7m0 28.5v2.7m0 12.8v2.7m0 49.3v2.7m0 20.8v2.7m0 15.5v2.7m0 18v2.7m0 12.9v2.7m0 44.1v2.7m0 33.7v2.7m0 75.3v2.7M444 85.9v2.7m0 10.3v2.7m0 2.5v2.7m0 31v2.7m0 33.8v5.2m0 20.8v2.7m0 5.1v2.7m0 10.3v2.7m0 41.4v2.7m0 2.5v2.7m0 31.1v2.7m0 2.5v5.3m0 5.2v2.7m0 2.4v2.7m0 7.7v2.7m0 13v2.7m0 28.4v2.7m0 2.5v2.7m0 2.5v2.7m0 7.8v2.7m0 2.4v2.7m0 7.7v2.7m0 5.1v5.4m0 33.6v2.7m0 33.7v2.7m0 12.9v2.7M484.5 81v2.4m0 2.5v2.7m0 28.5v2.7m0 18v2.7m0 31.2v5.3m0 51.9v5.3m0 23.2v2.7m0 2.5v2.7m0 2.6v2.7m0 2.4v2.7m0 2.5v2.7m0 18.1v2.7m0 75.4v2.7m0 67.4v5.3m0 12.9v2.7m0 70.1v2.7m0 15.5v.6M499 93.7v2.7m0 2.5v2.7m0 5.1v2.7m0 2.5v2.7m0 7.6v2.7m0 2.6v2.7m0 7.6v2.7m0 15.6v5.3m0 5.1v2.7m0 12.9v2.7m0 5v2.7m0 39v2.7m0 31v2.7m0 33.7v2.7m0 5.1v2.7m0 23.3v2.7m0 10.3v2.7m0 5.1v2.7m0 12.9v2.7m0 59.7v2.7m0 18.2v2.7m0 7.6v2.7m0 2.5v2.7m0 10.3v5.3m0 39v2.7m0 20.6v2.7M509 91.1v2.7m0 5.1v2.7m0 10.3v2.7m0 5.1v2.7m0 5.1v2.7m0 38.9v2.7m0 5v5.4m0 15.5v2.7m0 31.1v5.3m0 10.3v2.7m0 15.4v10.5m0 10.3v2.7m0 15.5v2.7m0 5.1v2.7m0 5.2v2.7m0 15.5v2.7m0 7.6v2.7m0 52v2.7m0 15.4v2.7m0 5.2v2.7m0 5v2.7m0 23.3v2.7m0 5.1v2.7m0 31.1v2.7m0 13v2.7m0 20.6v2.7M528 85.9v2.7m0 5.1v2.7m0 10.3v2.7m0 7.7v2.7m0 2.4v2.7m0 12.9v2.7m0 62.3v5.4m0 10.3v2.7m0 15.5v2.7m0 38.8v2.7m0 10.3v2.7m0 20.7v2.7m0 41.5v2.7m0 72.7v2.7m0 75.3v2.7m0 23.3v2.7m0 7.7v2.7m0 2.6v2.7M541.5 137.8v2.7m0 18.2v2.7m0 33.7v2.7m0 18.1v2.7m0 28.5v2.7m0 2.4v2.7m0 7.7v2.7m0 25.9v5.4m0 2.4v2.7m0 38.9v2.7m0 20.8v2.7m0 10.3v2.7m0 18v2.7m0 106.6v2.7m0 7.6v2.7M562 96.2v2.7m0 13v2.7m0 18.1v2.7m0 31.1v2.7m0 36.3v2.7m0 38.9v2.7m0 2.4v2.7m0 7.7v2.7m0 33.7v2.7m0 5.2v2.7m0 2.4v2.7m0 5.2v2.7m0 18v2.7m0 10.3v2.7m0 44.1v2.7m0 2.5v5.3m0 28.5v2.7m0 7.7v2.7m0 41.6v2.7m0 41.4v2.7M592 101.5v2.7m0 23.3v2.7m0 51.9v2.7m0 5v2.7m0 62.4v2.7m0 5v2.7m0 2.6v2.7m0 7.6v2.7m0 15.5v2.7m0 15.5v2.7m0 12.9v2.7m0 75.3v2.7m0 5.2v2.7m0 20.6v5.4m0 15.4v2.7m0 18.2v2.7m0 5v2.7m0 25.9v2.7M599 117.1v2.7m0 28.5v2.7m0 7.7v2.7m0 28.4v2.7m0 18.2v2.7m0 36.3v2.7m0 25.8v2.7m0 13v2.7m0 23.3v2.7m0 2.4v2.7m0 18.1v2.7m0 5.1v5.3m0 18.2v2.7m0 80.4v2.7m0 12.9v2.7m0 7.7v7.9m0 13v7.8m0 7.7v5.3M629 96.2v2.7m0 64.9v2.7m0 59.7v2.7m0 39v2.7m0 64.8v2.7m0 13v2.7m0 2.4v2.7m0 70.2v2.7m0 38.8v2.7m0 2.5v2.7m0 49.4v2.7M680 91.1v2.7m0 2.4v2.7m0 23.3v2.7m0 59.8v2.7m0 44.1v2.7m0 44v2.7m0 33.7v2.7m0 2.6v2.7m0 90.8v2.7M693 81v2.4m0 7.7v2.7m0 59.7v2.7m0 12.9v2.7m0 5v2.7m0 10.3v2.7m0 2.6v2.7m0 7.7v2.7m0 12.9v2.7m0 31.1v2.7m0 5v2.7m0 2.6v2.7m0 7.6v2.7m0 36.3v2.7m0 31.2v2.7m0 15.4v2.7m0 51.9v2.7m0 7.7v2.7m0 25.9v2.7m0 2.6v2.7m0 10.3v2.7m0 2.4v2.7m0 23.3v2.7M704 85.9v2.7m0 18.1v2.7m0 59.7v2.7m0 122.1v2.7m0 12.8v2.7m0 18.1v2.7m0 12.9v2.7m0 49.3v2.7m0 20.7v2.7m0 20.7v2.7m0 33.8v2.7m0 7.6v2.7m0 13v2.7m0 2.4v2.7m0 18.2v2.7m0 18.1v2.7M754 293.9v2.7m0 59.6v2.7m0 70.2v2.7m0 54.4v2.7m0 44.2v2.7M765 88.5v2.7m0 28.5v7.9m0 83.1v5.2m0 23.3v2.7m0 7.8v2.7m0 28.5v5.2m0 20.8v2.7m0 20.6v2.7m0 7.7v2.7m0 28.5v2.7m0 7.7v2.7m0 2.5v2.7m0 26v2.7m0 20.6v2.7m0 15.5v2.7m0 31.1v5.4m0 2.4v5.3m0 28.6v2.7m0 7.6v2.7M771 85.9v2.7m0 2.5v2.7m0 15.4v2.7m0 2.6v5.3m0 20.7v2.7m0 5.1v5.2m0 33.8v2.7m0 18.1v2.7m0 15.4v2.7m0 20.8v2.7m0 2.5v2.7m0 2.4v2.7m0 10.3v5.3m0 7.7v2.7m0 36.3v5.3m0 10.3v5.3m0 20.7v2.7m0 5.1v5.4m0 59.6v2.7m0 65v2.7m0 2.4v5.4m0 25.8v2.7M782 122.2v2.7m0 28.6v2.7m0 49.3v2.7m0 23.3v2.7m0 64.8v2.7m0 7.7v2.7m0 36.3v2.7m0 20.7v2.7m0 18.1v2.7m0 23.3v2.7m0 41.5v2.7m0 51.9v2.7m0 10.3v2.7m0 5.1v2.7"/>
<path stroke="#f00" stroke-opacity="0.05" stroke-width="2.2" fill="none" d="M464 179.5v2.7m0 2.5v2.7m0 64.8v2.7m0 7.7v2.7m0 31.1v2.7m0 10.3v2.7m0 7.8v2.7m0 2.4v2.7m0 7.7v2.7m0 2.5v2.7m0 23.3v2.7m0 12.9v2.7m0 75.3v2.7m0 7.7v2.7M467 278.2v2.7m0 15.5v2.7m0 20.8v2.7m0 2.4v2.7m0 18.1v2.7m0 23.3v2.7m0 28.6v2.7M576.5 288.6v2.7m0 49.3v2.7m0 28.5v2.7m0 49.3v2.7m0 49.3v2.7M734.5 96.2v2.7m0 2.6v2.7m0 2.5v2.7m0 49.3v2.7m0 7.7v2.7m0 18v2.7m0 59.7v2.7m0 13v2.7m0 2.4v2.7m0 23.3v2.7"/>
<path stroke="#f00" stroke-opacity="0.05" stroke-width="2.4" fill="none" d="M135.6 349.3v11M201.5 442.2v11.8m0 6.9v13.8M255.3 208.9v12.6m0 182.7v8.8m0 37.5v19.4m0 68v5.7M258.8 144.9v17.7m0 41.3v7.5m0 66.9v35.8m0 63.4v6.7m0 34.7v14.2m0 43.9v21.6m0 17.1v10.2m0 19.8v11.3M339.6 257v24.4m0 25.2v10.4M342 81v14.2m0 18.4v11.8m0 83.5v9.2m0 30.6v11.5m0 -.4v10.9m0 35v10.8m0 109.6v8.9m0 5.9v14.7M353.6 413.2v6.6M377.1 114.1v6.6m0 103.3v17.5m0 7.2v7.7m0 9v6.1m0 12.2v12.1m0 10.3v14m0 8.1v9.1m0 9.5v8.8m0 12.4v10.7m0 40.6v6m0 11v6.8m0 7.6v11.6M380.2 130v13.9m0 96.8v6.3m0 12.4v11.6m0 81.6v23.4M383.7 92.2v5.8m0 86.2v19m0 86.5v10.1m0 16.3v13.1m0 28.6v37.5m0 30.9v8.1m0 11.2v7m0 12.7v13.7m0 33.5v8.3M395.3 98.1v6.3M403.8 111.4v25.9m0 10.5v8.5m0 23.9v14.2m0 6.7v11m0 63.9v13.5m0 6.1v11.7m0 -.4v25.8m0 -.4v10.8m0 25.4v7.2m0 52.2v8.6m0 6.2v12.6m0 31.8v6.6M413.5 81v13m0 171.3v8.5M418.4 145.5v11.9m0 214.2v23.5m0 139.8v6.5M421.3 81v13.7m0 32.8v11.1m0 41.6v24.2m0 70.5v15.9m0 97.3v23.5m0 8.1v19.7m0 87.7v6.8m0 -.4v21M427.3 242v8.2m0 261.3v7.7m0 23.6v7.1M431 96.2v2.7m0 101.4v2.7m0 59.6v2.7m0 28.6v2.7m0 7.6v2.7m0 163.7v2.7M432.1 107.4v7.6m0 30.9v12.8m0 49.9v10.4m0 -.4v9.5m0 177v7.2m0 -.4v21.5m0 5.3v20.8m0 15v9.9m0 28.6v7.7M435.4 182.9v10m0 173.1v6.5m0 32.3v12.3M443.9 135.6v15.4m0 44.1v7.9m0 16.8v10.3m0 43.3v22.7m0 -.4v14.6m0 13.7v9.5m0 124.7v12.4m0 43.6v11M456.6 88.1v9.2m0 247.5v12.4m0 13.2v12.5m0 104.1v12m0 41.3v12.9M481 283.4v2.7m0 23.3v2.7M483.9 81v7.7m0 95.3v14m0 84.3v6.7m0 55.9v11.5m0 12.5v16.5m0 13.7v6.7m0 30.9v13.6m0 51.3v11.9M495.9 106.7v9.3m0 28.2v10.9m0 5.4v20.6m0 76.5v6.1m0 5.1v8.1m0 40v6.2m0 71.2v10.9M499 100.9v11.5m0 26.9v10.3m0 140.1v16.3m0 138.9v12.4m0 6.7v21.1m0 38.3v9.7m0 -.4v8.8M501.3 86.7v9.5m0 11.9v14m0 6.3v14.5m0 43.6v6.7m0 23v19.2m0 65v7.3m0 88.6v14.2m0 83.1v12m0 7.7v13.7m0 10.9v13.4M506.1 81v11.6m0 15.9v25.2m0 11.5v13.9m0 26.6v13.4m0 34.3v7.7m0 40v11.4m0 5.1v8.1m0 23v6.8m0 9.2v8.3m0 26v9.1m0 43.3v12.7m0 18.3v7.1m0 5.8v17.6m0 20.8v8.8M526.8 94.4v9.3m0 39.1v9m0 90.5v15.6m0 114.3v17.9m0 37.7v7.2m0 22v11.7m0 23.5v12.2m0 6.8v10.3M543.9 81v47.6m0 32.6v10.3m0 37.2v9m0 5.4v12.8m0 88.4v18.5m0 88.1v12.9m0 63.1v13M547.4 102.1v10.6m0 27.2v10m0 43.9v12.1m0 68.2v9.7m0 86.4v8.4m0 12v11.2m0 15.7v5.9m0 25.4v6.9m0 41.3v11.8m0 23.4v19.2M550.1 149v14m0 39.6v12.1m0 30.6v14.4m0 24.6v14m0 6.7v6.5m0 25.3v18.3m0 47.5v12.7m0 9.3v6.5m0 77.5v10.6m0 11.4v8.1m0 17.7v.6M584 91.1v2.7m0 142.9v2.7m0 116.8v2.7m0 85.7v2.7M587.7 114.1v18.5m0 35.4v11.6m0 38.4v11m0 8.7v20.6m0 -.4v10.2m0 74.5v6m0 11.1v11.7m0 55.3v17.4M606.9 101.4v12.7m0 27.9v12.8m0 39.6v7.7m0 59.1v8.6m0 19.8v22.3m0 26.4v9.2m0 35.8v13.1m0 10.4v8.7m0 37v11.1M615.2 134.4v11.1m0 21.4v10.7m0 22.4v20.4m0 70.6v6.1m0 12.5v34.6m0 46.5v24.3m0 -.4v26.1m0 32.5v9M618.6 81v11m0 52.4v6.5m0 16.5v6.1m0 38.5v13.5m0 5.5v8.4m0 77.6v10.5m0 48.4v21.7m0 12.5v12.3m0 17.2v11.5m0 78.7v6.2m0 18.6v2.4M621.3 88.6v18.8m0 12.5v9.9m0 26.6v13.2m0 -.4v7.8m0 90.8v11.8m0 9.9v13.7m0 8.8v39.7m0 7v9.5m0 55.2v12.3m0 15.6v7.8M624.1 89.7v12.8m0 12.4v34.9m0 18.4v13.3m0 63.5v6.2m0 36.6v21.3m0 -.4v9.6m0 117.6v13.5m0 36.1v33m0 17v21.5M631.8 86.4v9.8m0 14.1v8.5m0 43.7v14m0 -.4v17.3m0 44.3v10.7m0 13.6v19.2m0 7.7v7.5m0 28.1v8m0 10.2v12.2m0 62.6v14.3m0 13.3v8.2m0 -.4v8.5m0 30.3v23.6m0 7.9v9.7M634.8 81v17.9m0 6v10.6m0 17.5v24.5m0 56.1v10.8m0 23v11.7m0 105.2v21.7m0 10.6v6.1m0 72.1v9.3m0 9.4v11m0 5.6v12.6M640.7 115v21.1m0 6.9v6.4m0 16.3v23.2m0 14.6v25.2m0 54.1v19.3m0 7.5v32m0 5.2v13.1m0 39.1v12m0 -.4v13.2m0 30.7v9.9m0 31.6v11.9m0 5.7v9.1m0 8.5v7.9m0 15.5v2.4M649.9 95.7v14.3m0 70.3v26.1m0 -.4v18.4m0 84.4v20.7m0 8v19.5m0 6.6v21.8m0 41v21.6m0 -.4v19.2m0 21.1v14.5m0 36.4v13.9M658.5 210.2v11.5m0 36.8v37.2m0 12.2v10.3m0 7.3v6.7m0 -.4v14.3m0 17.2v8.9m0 8.1v7.8m0 53.6v8m0 76.4v8.6m0 20.1v2.2M664 100.8v13.3m0 67.4v8.5m0 21.3v20.3m0 74.1v30.3m0 10.8v8.3m0 53.4v14.3m0 -.4v13.9m0 40v11.6m0 28.9v8.8M672.9 92.7v13m0 86.2v8.2m0 5.9v15.1m0 9.4v6.1m0 22.1v12.7m0 21.9v32.6m0 48.8v7.8m0 -.4v9.7m0 11.8v15m0 22v25.3m0 15.5v8.2m0 57.9v9.5M675.7 183.2v14.6m0 45.4v11.7m0 -.4v12.1m0 81.3v13.5m0 12.8v11.6m0 36.6v6.7M687 81v8.5m0 13.1v12.7m0 11.5v14.4m0 19.1v10.8m0 7.8v11.2m0 49.5v34.3m0 15.5v23.8m0 13.5v6.4m0 -.4v24.6m0 35.8v33.1m0 11.2v7.3m0 23.6v8.6m0 40.1v12m0 24.7v3.3M713.3 89.3v7.2m0 19.5v14.3m0 36.6v11.4m0 12.7v6.9m0 59.2v9.8m0 9.5v11.7m0 37.1v17.9m0 12v12.9m0 42v10.4m0 -.4v10.6m0 6.7v11.8m0 47.4v51M719.6 104.1v13m0 19.7v9.6m0 5.6v11.2m0 72.6v6m0 17.9v8.3m0 57.4v13.1m0 46.9v19.8m0 22.1v34.3m0 9.7v39.5m0 36v10.2M726 262.6v2.7M733.5 81v9m0 16.8v21.1m0 17.3v12.3m0 20.7v16.3m0 54.8v11.7m0 44.4v6.9m0 -.4v11.8m0 58.7v11.2m0 27.8v8.3m0 -.4v58.3m0 36.7v32.7M737 135.3v9.4m0 37v8.8m0 19.6v8.8m0 40.2v32.6m0 10.8v17.4m0 76.6v11.9m0 5.2v6m0 20.2v27m0 13.7v7.4m0 33.1v36M745.7 93.2v12.9m0 36.6v23.3m0 64.4v8.4m0 18.5v8.2m0 76.9v14.6m0 51.3v10m0 9.5v10.9m0 50v11.4M754.4 81v18.8m0 47.2v14.2m0 33.8v13.1m0 108.7v7.7m0 47.6v14.6m0 8.6v6.6m0 59.4v10.2m0 62.9v7.8M757.6 120v20.8m0 44.9v32.7m0 30.8v9m0 20.4v11m0 49v7.3m0 15.4v9.3m0 59.8v6.8m0 16.1v10.3m0 8.9v10m0 6.6v16.5M761.2 81v13.4m0 22.8v13.4m0 6.5v8.7m0 77.2v10.2m0 8.8v9.4m0 -.4v13.9m0 12.9v19.6m0 21.8v10.4m0 85.9v10.6m0 6.6v13.3m0 40.8v17.9m0 8v11.3m0 11.3v12.5M775.2 81v41.1m0 11.3v26.9m0 5.7v11.8m0 11.9v10.1m0 13.2v14.7m0 20.5v11.3m0 21.3v13.6m0 11.4v7.9m0 17.7v12.6m0 105.7v6.9m0 -.4v6.6m0 7.5v5.8m0 50.7v12.5m0 10.9v6.8M777.5 94.1v8.9m0 7.5v10.2m0 58.2v18.1m0 20.2v14.4m0 13.5v8.8m0 27.4v9m0 67.3v13.7m0 71.8v14.3m0 20.2v19m0 -.4v9.5M780.3 106.7v10.3m0 9.1v7m0 62.5v10.4m0 59.2v6.4m0 6.5v11.1m0 8v13.7m0 32.2v9.7m0 8.6v10.4m0 22.9v6.4m0 108.7v10m0 12v25.2M782.6 88.4v15.8m0 79.3v13.5m0 6.2v9.5m0 -.4v18.6m0 30.2v9.4m0 72.1v11.6m0 9.7v17.8m0 11.1v8.2m0 30.7v7m0 21.2v14.1m0 54.6v6.8m0 14v7.6"/>
<path stroke="#f00" stroke-opacity="0.05" stroke-width="4.5" fill="none" d="M95.2 400.6v6.2m0 30.6v16.6m0 14.4v11.2"/>
<path stroke="#f00" stroke-opacity="0.08" stroke-width="1.5" fill="none" d="M744.5 91.1v2.7m0 2.4v2.7m0 7.8v2.7m0 2.5v2.7m0 2.5v2.7m0 33.7v2.7m0 7.6v2.7m0 39v2.7m0 85.7v2.7m0 2.4v2.7m0 75.4v2.7m0 2.4v2.7m0 116.9v2.7m0 12.9v2.7"/>
<path stroke="#f00" stroke-opacity="0.08" stroke-width="1.6" fill="none" d="M529.6 275.7v6.6M538.1 202.6v13.2m0 9v12.7m0 243.4v10.5M566.6 276.3v13m0 230.2v5.8M599.5 372.3v9.3M602.1 81v6.8m0 9.2v14M626.8 123.9v16.3m0 15.5v12.6m0 81.5v43.8m0 46.5v7.4m0 57.5v8.3M655.7 330.1v8.8M670.3 257.1v18.3m0 217.4v11.4M698.4 172.1v14.2M716.5 104.3v6.5m0 77.1v10.7m0 11.9v13.1m0 82.6v8.9m0 187.3v12.3M722.4 154.7v7.8m0 186.3v18.1m0 110.8v6.3M770.1 226.9v5.7m0 19.5v20.2m0 12.1v8m0 26.4v6.3m0 165v13.9"/>
<path stroke="#f00" stroke-opacity="0.08" stroke-width="1.7" fill="none" d="M95.2 166.5v2.7m0 236.4v2.7m0 2.5v2.7m0 12.9v2.7M98.6 202.8v2.7m0 20.7v2.7M103.3 530.4v2.7M108.1 150.8v2.7m0 36.3v2.7M112.5 444.6v2.7M136.8 234.1v2.7m0 64.8v2.7M161.2 236.7v2.7M177.8 239.2v2.7m0 262.5v2.7M183.7 176.8v2.7m0 283.3v2.7M188.6 189.8v2.7M191.8 379.6v2.7M195.6 135.2v2.7m0 288.5v2.7M214.1 163.8v2.7M222.5 364.1v2.7M226.4 93.7v2.7M231.6 280.9v2.7m0 262.5v2.7M235.6 184.7v2.7m0 345.7v2.7M240.4 114.5v2.7m0 44.1v2.7M244.9 340.6v2.7M259.9 286v2.7m0 80.5v2.7m0 119.5v2.7M265.6 166.5v2.7M274.8 96.2v2.7M284.1 122.2v2.7m0 408.2v2.7M291.9 270.4v2.7m0 91v2.7m0 90.8v2.7M299.7 436.8v2.7M303.1 387.4v2.7M306.1 109.2v2.7m0 96.2v2.7m0 90.8v2.7m0 23.3v2.7m0 59.8v2.7M315 265.2v2.7m0 148.2v2.7M328.5 442.1v2.7M333.6 182.1v2.7m0 361.3v2.7M338.9 408.2v2.7m0 83.2v2.7M349.5 444.6v2.7M357.1 468.1v2.7m0 54.4v2.7M365.5 156.1v2.7m0 314.4v2.7M374.3 283.4v2.7m0 257.3v2.7M377.8 356.2v2.7M382.8 343.2v2.7m0 166.3v2.7M387.4 304.2v2.7M391.1 267.9v2.7M396.3 150.8v2.7M399.8 306.9v2.7m0 5v2.7M403.2 319.9v2.7M406.5 124.9v2.7m0 85.6v2.7m0 179.3v2.7m0 23.3v2.7M416.8 491.4v2.7M421.6 296.4v2.7M427.5 122.2v2.7m0 153.3v2.7m0 5.1v2.7m0 171.5v2.7M432.2 312v2.7m0 111.7v2.7m0 2.5v2.7M437.5 273v2.7M447.5 304.2v2.7M452.9 374.4v2.7M456.7 156.1v2.7m0 311.8v2.7M461.8 189.8v2.7M474.4 335.4v2.7M479.9 332.9v2.7m0 83v2.7M485.8 124.9v2.7m0 25.9v2.7M490.9 273v2.7M494.2 231.5v2.7m0 288.4v2.7M501.8 262.6v5.3M505 93.7v2.7m0 137.7v2.7M510.8 358.8v2.7M515.2 189.8v2.7m0 93.5v2.7m0 70.1v2.7M519.9 109.2v2.7m0 54.6v2.7m0 114.2v2.7M524 301.6v2.7m0 231.3v2.7M527.2 501.8v2.7m0 44.1v2.7m0 2.6v2.7M530.9 195.1v2.7m0 33.7v2.7m0 205.2v2.7M535.9 91.1v2.7m0 301.4v2.7m0 31.2v2.7m0 103.8v2.7m0 10.3v2.7M539.1 85.9v2.7m0 59.7v2.7m0 148v2.7m0 241.7v5.4M544.6 179.5v2.7m0 215.6v2.7m0 10.3v2.7m0 75.3v2.7M547.8 431.6v2.7M551.1 213.2v2.7m0 155.9v2.7m0 98.7v2.7M565.2 197.7v2.7m0 304v2.7m0 39v2.7M569.9 280.9v2.7m0 252v2.7M584.6 130.1v2.7m0 5v2.7m0 54.6v2.7m0 189.6v2.7m0 20.7v2.7M589.1 117.1v2.7m0 161.1v2.7m0 83v2.7M599.8 140.5v2.7m0 376.9v2.7M604.2 382.2v2.7M618.2 338.1v2.7m0 33.6v2.7M627.8 213.2v2.7m0 13v2.7m0 236.5v2.7m0 23.3v2.7M632.2 418.6v2.7m0 10.3v2.7M638.1 88.5v2.7m0 387.2v2.7M642.1 96.2v2.7m0 13v2.7m0 319.6v2.7M647.5 161.3v2.7m0 62.2v2.7m0 65v2.7m0 189.6v2.7m0 44.2v2.7M652.9 319.9v2.7M658.1 189.8v2.7m0 23.4v2.7m0 275.5v2.7M667.9 137.8v2.7M673.6 299v2.7M677.9 119.7v2.7m0 135v2.7m0 51.9v2.7m0 231.4v2.7M687.7 114.5v2.7m0 54.5v2.7M691.6 205.5v2.7m0 18v2.7m0 116.9v2.7m0 124.7v2.7M697.5 153.5v2.7m0 38.9v2.7m0 15.4v2.7m0 80.5v2.7m0 36.3v2.7m0 197.5v2.7m0 12.9v2.7M707.6 81v2.4m0 374.2v2.7M713 189.8v2.7m0 106.5v2.7M718.5 156.1v2.7m0 98.6v2.7m0 44.1v2.7m0 213.2v2.7M721.7 161.3v2.7m0 75.2v2.7m0 189.7v2.7m0 31.1v2.7M725.6 140.5v2.7m0 44.1v2.7m0 5.1v2.7M736.5 85.9v2.7M740.1 93.7v2.7M754.3 83.2v2.7m0 356.2v2.7m0 41.4v2.7m0 20.7v2.7M758.6 314.6v2.7m0 20.8v2.7m0 51.8v2.7m0 101.3v2.7M763.7 111.9v2.7m0 158.4v2.7m0 275.5v2.7M780.9 192.5v5.3M784.1 98.9v2.7m0 155.8v2.7m0 98.7v2.7m0 88.3v2.7"/>
<path stroke="#f00" stroke-opacity="0.08" stroke-width="2" fill="none" d="M96 516v35.6M265 518.7v4.3M269 519.1v3.9M271 519.4v3.6M275 514.4v8.6M279 520v3M281 515.5v7.5M287 517.1v5.9M295 518.9v4.1M339 513v10M341 503.2v19.8M345 513v10M349 518.2v4.8M353 505.8v17.2m0 -9.5v9.5M355 507.3v15.7M410.2 81v6M545 515v8M551 514.3v8.7M553 516.9v6.1M555 517.9v5.1M557 506.9v16.1M577.3 191.3v11.9m0 109.9v19.9m0 67.7v7.3m0 39.5v10.3M579 507.2v15.8M581 514.8v8.2M582.5 163.2v13.9m0 68.1v9.4M587 518.7v4.3M595.9 270.6v6.7m0 10.8v6.3m0 90.7v11.3M617 517.3v5.7M627 515.3v7.7M629 509.6v13.4M633 519v4M647 516.7v6.3M649 512.1v10.9M653 516.5v6.5M655 520.3v2.7M660.9 461.6v11.2m0 75.6v8.6M668 518.5v4.5M670 517.3v5.7M672 516.3v6.7M682 510.1v12.9M684 513.6v9.4M686 512.8v10.2m0 -5.6v5.6M688 516.6v6.4M690 513.3v9.7M694 515.8v7.2M698 519.7v3.3M700 515.1v7.9M702 513.4v9.6M707 514.3v8.7M707.4 146.6v13.7m0 23.1v9.8m0 -.4v10.6M711 516.8v6.2M713 511.3v11.7M715 520.3v2.7M717 520.1v2.9M721 514.1v8.9M723 515.3v7.7M725 512.1v10.9m0 -6v6M725.1 89.4v10.6m0 99.9v11.5m0 13.3v13m0 73v12.7m0 14v13.4m0 124.4v20.6M727 516.4v6.6M729 520.2v2.8M731 511.8v11.2M733 519.3v3.7M735 515.7v7.3M737 517.8v5.2M741 511.5v11.5M745 518.4v4.6M751 517.2v5.8M752 525.6v13.3M763 512.7v10.3M764.7 148.8v6.4m0 383.6v10.4M765 517.4v5.6M767 516.5v6.5M767.4 81v14.7m0 301.9v16.7m0 128.8v12.7M771 514.5v8.5M772.9 92.7v13.1m0 267.2v10.6m0 62.9v13.8m0 23.4v14.6M775 518.8v4.2M781 516v7M785.6 102.5v21.1m0 32.8v13.7m0 38.1v14.2"/>
<path stroke="#f00" stroke-opacity="0.08" stroke-width="2.1" fill="none" d="M104 85.9v2.7m0 98.7v2.7m0 41.5v5.3m0 5.1v2.7m0 2.5v5.3m0 28.5v2.7m0 18v2.7m0 7.7v2.7m0 5.2v2.7m0 25.8v2.7m0 39v2.7m0 7.6v2.7m0 2.5v2.7m0 23.3v2.7m0 20.8v2.7m0 7.6v2.7m0 5.1v2.7m0 5.2v5.2m0 10.3v2.7m0 5.1v5.4m0 5.1v2.7m0 20.6v2.7m0 5.2v5.2M297 83.2v8m0 2.5v2.7m0 2.5v2.7m0 2.5v2.7m0 33.7v2.7m0 2.5v2.7m0 51.9v2.7m0 5.1v2.7m0 7.7v2.7m0 2.5v2.7m0 7.7v5.3m0 2.5v2.7m0 5.1v2.7m0 18v2.7m0 2.5v2.7m0 7.7v2.7m0 7.7v2.7m0 15.5v2.7m0 5.1v5.3m0 12.9v2.7m0 18.1v2.7m0 5.1v2.7m0 18.2v2.7m0 23.3v2.7m0 18v2.7m0 2.6v2.7m0 7.6v2.7m0 26v2.7m0 44.1v2.7m0 2.5v2.7m0 12.8v2.7M301 85.9v2.7m0 33.6v2.7m0 2.6v2.7m0 49.3v2.7m0 20.6v2.7m0 36.4v2.7m0 98.6v2.7m0 54.5v2.7m0 28.5v2.7m0 23.3v2.7m0 2.5v2.7m0 18.1v2.7M341 91.1v2.7m0 5.1v2.7m0 46.7v2.7m0 41.5v2.7m0 51.9v2.7m0 7.6v2.7m0 12.9v2.7m0 15.5v2.7m0 18.1v2.7m0 7.7v2.7m0 23.3v2.7m0 13v2.7m0 124.6v2.7m0 13v2.7m0 15.4v2.7m0 23.3v2.7M350 161.3v2.7m0 28.5v2.7m0 2.5v2.7m0 2.4v2.7m0 20.7v2.7m0 26v2.7m0 23.3v2.7m0 18v2.7m0 51.9v5.3m0 12.9v2.7m0 20.7v2.7m0 5.1v2.7m0 23.3v5.3m0 33.7v5.3m0 2.5v2.7m0 18.1v2.7m0 2.5v2.7m0 5.1v2.7m0 13v2.7m0 23.3v2.7M395 88.5v2.7m0 2.5v2.7m0 2.5v2.7m0 20.6v2.7m0 15.6v2.7m0 36.3v5.3m0 7.7v2.7m0 5.1v2.7m0 5.1v5.3m0 33.7v2.7m0 20.6v2.7m0 10.3v2.7m0 2.5v2.7m0 5.1v2.7m0 2.5v2.7m0 38.9v2.7m0 5.2v5.2m0 12.9v2.7m0 49.3v2.7m0 15.5v2.7m0 39v2.7m0 5v2.7m0 2.6v2.7m0 5v2.7m0 20.7v2.7m0 5.2v5.2M409 81v2.4m0 5.1v2.7m0 5v2.7m0 2.6v5.3m0 2.4v2.7m0 7.8v2.7m0 98.7v2.7m0 5.1v2.7m0 15.5v2.7m0 12.8v2.7m0 20.7v2.7m0 15.5v2.7m0 7.7v2.7m0 2.6v2.7m0 7.6v2.7m0 7.7v2.7m0 5.1v2.7m0 13v2.7m0 15.4v2.7m0 10.3v2.7m0 28.5v2.7m0 26v2.7m0 96.1v2.7M444 119.7v2.7m0 7.7v2.7m0 23.3v2.7m0 2.5v2.7m0 18.1v2.7m0 10.3v2.7m0 12.9v10.5m0 10.3v2.7m0 23.2v2.7m0 25.9v7.9m0 20.7v2.7m0 5.1v2.7m0 52v2.7m0 33.6v2.7m0 7.7v2.7m0 12.9v2.7m0 13v2.7m0 23.3v2.7m0 7.6v5.4m0 7.6v2.7m0 5.1v2.7m0 28.5v2.7m0 5.1v2.7M484.5 83.2v2.7m0 5.2v2.7m0 7.7v2.7m0 7.7v5.3m0 10.3v2.7m0 2.5v2.7m0 7.7v2.7m0 7.7v7.9m0 5.1v5.3m0 25.9v2.7m0 20.7v2.7m0 59.6v2.7m0 7.8v2.7m0 10.3v5.2m0 2.5v2.7m0 2.6v2.7m0 15.5v5.2m0 23.3v2.7m0 5.1v2.7m0 2.5v7.9m0 18.1v2.7m0 7.8v2.7m0 7.6v2.7m0 13v2.7m0 33.6v2.7m0 13v5.2m0 5.1v2.7m0 13v2.7m0 7.6v2.7m0 7.8v2.7M499 101.5v2.7m0 10.3v7.9m0 2.5v2.7m0 12.9v2.7m0 28.5v2.7m0 31.1v7.9m0 2.5v2.7m0 20.6v2.7m0 20.7v2.7m0 5.1v2.7m0 12.9v2.7m0 7.7v2.7m0 23.3v2.7m0 20.7v2.7m0 5.1v2.7m0 18.1v2.7m0 7.7v8m0 20.6v2.7m0 7.7v2.7m0 2.6v2.7m0 20.6v2.7m0 5.1v5.3m0 12.9v2.7m0 13v2.7m0 7.6v2.7m0 5.1v5.4m0 7.6v2.7M509 101.5v5.3m0 2.4v2.7m0 13v2.7m0 25.9v2.7m0 28.5v2.7m0 15.4v2.7m0 13v2.7m0 18v2.7m0 41.5v2.7m0 2.5v2.7m0 31.1v2.7m0 10.3v2.7m0 2.5v5.3m0 23.3v2.7m0 10.3v2.7m0 7.7v2.7m0 23.3v2.7m0 5.1v2.7m0 10.3v2.7m0 18.1v2.7m0 5.2v2.7m0 5v2.7m0 5.1v2.7m0 10.3v2.7m0 51.9v2.7M528 83.2v2.7m0 5.2v2.7m0 25.9v2.7m0 2.5v2.7m0 2.5v5.3m0 12.9v5.2m0 5.2v2.7m0 54.5v2.7m0 15.5v2.7m0 18.1v2.7m0 12.8v2.7m0 25.9v5.3m0 5.1v2.7m0 10.3v2.7m0 10.3v2.7m0 26v7.8m0 18.2v2.7m0 51.8v2.7m0 109.1v.6M541.5 117.1v2.7m0 41.5v2.7m0 28.5v2.7m0 44v5.4m0 5.1v2.7m0 15.5v2.7m0 7.6v2.7m0 31.1v5.3m0 2.6v5.2m0 10.3v2.7m0 13v2.7m0 5v2.7m0 7.7v2.7m0 7.7v2.7m0 41.5v2.7M562 140.5v2.7m0 7.6v2.7m0 5.2v7.8m0 2.6v2.7m0 57.1v2.7m0 7.6v2.7m0 7.8v2.7m0 5v2.7m0 15.5v2.7m0 25.9v2.7m0 36.3v2.7m0 10.3v2.7m0 25.9v2.7m0 31.1v2.7m0 33.8v2.7m0 2.4v2.7m0 10.3v2.7m0 15.5v2.7m0 10.3v2.7m0 5.1v2.7m0 33.7v2.7M592 137.8v2.7m0 91v2.7m0 31v2.7m0 31.1v2.7m0 2.5v2.7m0 13v2.7m0 62.2v5.3m0 2.5v2.7m0 33.8v2.7m0 46.6v2.7m0 31.1v2.7m0 13v5.2m0 15.5v2.7M599 96.2v2.7m0 13v2.7m0 10.3v2.7m0 70.1v5.3m0 31.1v2.7m0 5.1v2.7m0 12.8v2.7m0 2.5v5.3m0 18.1v2.7m0 10.3v2.7m0 10.3v2.7m0 2.5v2.7m0 46.7v2.7m0 25.9v5.3m0 2.6v2.7m0 15.4v2.7m0 23.3v2.7m0 5.2v2.7m0 23.3v2.7m0 62.3v2.7M629 85.9v2.7m0 28.5v2.7m0 15.4v2.7m0 15.6v2.7m0 25.9v2.7m0 5v2.7m0 5.2v5.3m0 57v2.7m0 10.3v2.7m0 2.5v2.7m0 59.7v7.9m0 46.7v2.7m0 2.5v2.7m0 15.5v2.7m0 15.5v2.7m0 62.3v2.7m0 7.7v2.7m0 5.2v2.7m0 28.4v5.4M680 117.1v2.7m0 10.3v5.3m0 23.3v2.7m0 54.5v2.7m0 106.4v2.7m0 2.5v2.7m0 33.7v2.7m0 2.5v2.7m0 85.7v2.7m0 23.3v2.7m0 18.2v2.7m0 46.6v.6M693 83.2v2.7m0 7.8v7.9m0 18.1v5.2m0 2.6v2.7m0 5v2.7m0 59.8v2.7m0 2.4v2.7m0 2.6v2.7m0 7.7v2.7m0 2.5v2.7m0 5.1v2.7m0 10.3v2.7m0 10.2v2.7m0 10.3v2.7m0 33.8v2.7m0 2.4v2.7m0 7.7v2.7m0 2.5v5.3m0 23.3v2.7m0 44.2v2.7m0 23.3v2.7m0 51.8v2.7m0 7.8v5.2m0 5.1v2.7m0 7.8v5.2m0 10.3v5.4m0 5.1v7.9m0 7.6v.6M704 91.1v2.7m0 18.1v2.7m0 44.1v2.7m0 2.4v2.7m0 122.1v5.3m0 13v2.7m0 5v2.7m0 2.6v2.7m0 2.4v2.7m0 20.7v2.7m0 72.7v2.7m0 41.6v2.7m0 15.4v2.7m0 10.3v2.7m0 28.5v2.7m0 10.3v2.7M754 101.5v2.7m0 75.3v2.7m0 200v2.7m0 49.3v2.7m0 7.7v2.7m0 44.1v2.7M765 83.2v5.4m0 15.5v2.7m0 33.7v10.5m0 20.7v2.7m0 7.7v2.7m0 15.5v5.2m0 36.4v2.7m0 116.8v2.7m0 2.5v2.7m0 15.5v2.7m0 33.7v2.7m0 2.5v5.4m0 31v2.7m0 12.9v2.7m0 33.8v2.7m0 18v2.7M771 135.2v2.7m0 25.9v2.7m0 7.8v5.2m0 18.2v2.7m0 5.1v2.7m0 2.5v2.7m0 5.1v2.7m0 2.5v2.7m0 15.5v2.7m0 7.6v2.7m0 2.5v2.7m0 10.3v2.7m0 5.1v2.7m0 13v5.2m0 2.5v2.7m0 5.1v2.7m0 10.3v2.7m0 5.1v2.7m0 31.2v2.7m0 28.4v7.9m0 23.3v2.7m0 7.7v2.7m0 7.7v2.7m0 7.7v2.7m0 18.1v2.7m0 59.8v2.7m0 5v2.7m0 5.1v.6M782 127.5v2.7m0 54.5v2.7m0 15.4v2.7m0 80.5v2.7m0 46.7v2.7m0 26v2.7m0 2.4v2.7m0 33.7v5.3m0 2.5v2.7m0 18.1v2.7m0 15.5v2.7m0 2.5v5.3m0 33.7v2.7m0 7.8v2.7"/>
<path stroke="#f00" stroke-opacity="0.08" stroke-width="2.2" fill="none" d="M464 153.5v2.7m0 18.1v2.7m0 59.7v2.7m0 15.5v2.7m0 10.3v2.7m0 10.3v5.2m0 12.9v7.9m0 23.3v5.4m0 25.8v2.7m0 15.5v2.7m0 31.1v2.7m0 23.3v2.7m0 2.5v2.7m0 20.8v2.7m0 25.8v2.7M467 88.5v2.7m0 77.9v2.7m0 2.5v2.7m0 72.7v2.7m0 41.5v2.7m0 7.6v2.7m0 44.2v7.8m0 23.3v2.7m0 33.7v2.7m0 2.5v2.7m0 7.7v2.7m0 18.2v2.7m0 7.6v2.7m0 28.5v2.7m0 28.6v2.7M576.5 122.2v2.7m0 54.6v2.7m0 2.5v2.7m0 33.7v2.7m0 38.8v2.7m0 54.6v2.7m0 12.8v2.7m0 39v2.7m0 101.3v2.7M734.5 81v2.4m0 20.7v2.7m0 2.4v2.7m0 7.8v2.7m0 2.5v2.7m0 10.2v2.7m0 10.3v2.7m0 13v2.7m0 10.3v2.7m0 2.5v2.7m0 12.9v2.7m0 7.7v2.7m0 7.7v2.7m0 2.4v2.7m0 49.3v2.7m0 28.5v2.7m0 158.5v2.7m0 49.3v2.7m0 2.6v2.7m0 18v2.7"/>
<path stroke="#f00" stroke-opacity="0.08" stroke-width="2.4" fill="none" d="M431 143.1v2.7m0 106.4v2.7m0 23.3v2.7m0 33.7v2.7m0 7.7v2.7m0 33.7v2.7m0 13v2.7M481 111.9v2.7m0 205.3v2.7m0 163.6v2.7m0 59.7v2.7M501.3 418.8v11.7M550.1 463.8v7.5m0 67.1v6.7M584 81v2.4m0 49.3v2.7m0 90.8v2.7m0 39v2.7m0 70v2.7m0 23.3v2.7m0 7.8v2.7M618.6 91.7v13.2M631.8 354.6v10.1m0 107.9v8.6M634.8 166.6v10.1M640.7 81v6.4M649.9 233.9v12.3m0 230.6v11.4M675.7 81v13.6m0 103v8.1m0 8v13m0 107.3v6.9m0 124.9v11.7M713.3 230.4v18.1m0 141.1v14.3M719.6 183v11.4m0 96v19.5M726 91.1v2.7m0 122.1v2.7m0 54.4v2.7m0 70.1v2.7m0 205.4v2.7M745.7 177v7.8m0 125v6m0 55.3v13.6M777.5 196.7v7m0 49.9v10.3m0 113.9v13.5m0 18.2v6.9m0 12.6v5.7m0 91.6v14.7M780.3 132.8v9.6m0 128.9v7.1M782.6 103.8v11.3m0 36.1v11.2"/>
<path stroke="#f00" stroke-opacity="0.08" stroke-width="4.5" fill="none" d="M95.2 460.5v8.2m0 10.6v17.7"/>
<path stroke="#f00" stroke-opacity="0.11" stroke-width="1.5" fill="none" d="M744.5 98.9v2.7m0 12.9v2.7m0 23.3v5.3m0 23.3v2.7m0 38.9v2.7m0 59.6v2.7m0 70.1v2.7m0 80.6v2.7m0 111.6v2.7m0 2.5v2.7"/>
<path stroke="#f00" stroke-opacity="0.11" stroke-width="1.7" fill="none" d="M112.5 530.4v2.7M152.1 369.2v2.7M161.2 384.8v2.7M166.7 501.8v2.7M191.8 140.5v2.7m0 33.6v2.7M195.6 228.9v2.7M200 322.4v2.7M214.1 304.2v2.7M222.5 465.4v2.7m0 72.8v2.7M231.6 226.2v2.7m0 36.3v2.7M244.9 135.2v2.7m0 15.6v2.7m0 369v2.7m0 23.3v2.7M259.9 301.6v2.7M265.6 426.4v2.7M274.8 184.7v2.7M278.9 553.9v2.7M291.9 332.9v2.7M295.8 104.1v2.7m0 57v2.7m0 106.5v2.7m0 124.7v2.7M303.1 535.6v2.7M315 309.4v2.7M319.5 231.5v2.7M333.6 416.1v2.7m0 124.6v2.7M343.9 88.5v2.7m0 340.4v2.7m0 12.9v2.7M357.1 291.2v2.7m0 171.5v2.7M374.3 124.9v2.7M377.8 140.5v2.7M382.8 426.4v2.7m0 93.5v2.7M396.3 366.6v2.7M399.8 340.6v2.7M403.2 166.5v2.7M406.5 109.2v2.7M421.6 166.5v2.7m0 194.9v2.7m0 75.3v2.7M432.2 234.1v2.7M437.5 91.1v2.7M441.8 135.2v5.3m0 366.6v2.7M452.9 166.5v2.7m0 15.5v2.7m0 150.7v2.7M456.7 338.1v2.7M461.8 296.4v2.7M469.6 468.1v2.7M474.4 327.6v2.7m0 31.1v2.7m0 93.5v2.7M479.9 176.8v2.7M490.9 93.7v2.7m0 7.7v2.7M494.2 293.9v2.7m0 179.2v2.7M501.8 197.7v2.7m0 80.5v2.7m0 226v2.7M505 176.8v2.7M510.8 135.2v2.7M515.2 462.8v2.7m0 7.7v2.7m0 7.7v2.7M519.9 540.9v2.7M524 156.1v2.7m0 231.3v2.7M530.9 119.7v2.7M535.9 119.7v2.7m0 135v2.7M539.1 499.2v2.7M544.6 132.7v2.7M547.8 93.7v2.7m0 194.8v2.7M565.2 278.2v2.7m0 44.1v2.7m0 93.5v2.7m0 106.5v2.7M569.9 91.1v2.7m0 415.8v2.7M580 200.3v2.7m0 111.6v2.7m0 127.3v2.7M584.6 208.1v2.7m0 298.8v2.7M589.1 462.8v2.7M599.8 81v2.4m0 31.1v2.7M618.2 221.1v2.7m0 218.3v2.7M627.8 88.5v2.7M632.2 312v2.7M647.5 384.8v2.7m0 77.9v2.7M652.9 161.3v2.7m0 93.4v2.7m0 192.3v2.7M658.1 158.7v2.7m0 363.8v2.7M663.2 145.7v2.7m0 207.8v2.7m0 176.7v2.7M667.9 192.5v2.7m0 137.7v2.7M673.6 517.4v2.7M677.9 145.7v2.7m0 236.4v2.7M683.5 215.9v2.7M691.6 452.4v2.7M697.5 395.2v5.3m0 122.1v2.7M713 410.8v2.7m0 38.9v2.7m0 36.3v2.7M721.7 312v2.7m0 200.2v2.7M725.6 483.6v2.7m0 38.9v2.7M736.5 109.2v2.7m0 33.8v2.7M740.1 442.1v2.7m0 28.4v2.7M745.4 327.6v2.7m0 192.3v2.7M751 447.2v2.7m0 20.7v5.3M758.6 400.4v2.7m0 140.3v2.7M763.7 379.6v2.7M768.5 135.2v2.7m0 132.5v2.7m0 96.1v2.7m0 49.3v2.7m0 41.5v2.7m0 52v2.7m0 33.6v.6M777.1 91.1v2.7m0 324.8v2.7m0 124.8v2.7M784.1 208.1v2.7"/>
<path stroke="#f00" stroke-opacity="0.11" stroke-width="2" fill="none" d="M96 551.3v5.7M265 515.2v7.8M267 520.6v2.4M271 516.5v6.5M273 519.5v3.5M277 520.2v2.8M279 517.6v5.4M287 512.3v10.7M297 518.1v4.9M343 514.1v8.9M345 504.8v18.2M349 514.2v8.8M351 517v6M551 507.2v15.8M555 513.7v9.3M581 508v15M583 516.7v6.3M607 517.5v5.5M617 512.7v10.3M627 509v14M633 515.7v7.3M647 511.6v11.4M655 518v5M668 514.8v8.2M670 512.7v10.3M672 510.9v12.1M676 515.8v7.2M680 515.5v7.5M688 511.4v11.6M694 509.9v13.1M698 517v6M709 520v3M711 511.7v11.3M715 518v5M717 517.7v5.3M733 516.4v6.6M737 513.6v9.4M745 514.6v8.4M749 519.9v3.1M765 512.8v10.2M775 515.4v7.6"/>
<path stroke="#f00" stroke-opacity="0.11" stroke-width="2.1" fill="none" d="M104 322.4v2.7m0 195v2.7M297 135.2v2.7m0 18.2v2.7m0 20.7v2.7m0 28.5v2.7m0 119.5v2.7m0 59.6v2.7m0 2.5v7.9m0 98.8v2.7m0 2.4v2.7m0 20.7v2.7m0 5.1v5.4M341 106.7v2.7m0 2.5v5.3m0 15.5v2.7m0 18.1v5.3m0 7.7v2.7m0 5.1v5.2m0 18.2v2.7m0 10.3v7.9m0 23.3v2.7m0 23.3v2.7m0 5v2.7m0 2.6v5.2m0 67.5v2.7m0 70.1v2.7m0 31.1v2.7m0 33.7v2.7m0 5.1v2.7m0 7.8v2.7m0 2.5v2.7m0 10.3v2.7m0 10.3v2.7m0 7.6v.6M350 93.7v5.2m0 10.3v8m0 7.7v2.7m0 7.6v2.7m0 5.2v2.7m0 67.4v2.7m0 7.8v2.7m0 2.5v2.7m0 2.5v2.7m0 5.1v2.7m0 5.1v2.7m0 59.6v2.7m0 20.7v2.7m0 46.7v2.7m0 33.7v2.7m0 44.2v2.7m0 54.4v2.7m0 2.5v2.7M395 106.7v2.7m0 20.7v2.7m0 2.4v2.7m0 10.4v5.2m0 2.6v2.7m0 12.9v2.7m0 12.9v2.7m0 33.7v5.2m0 7.8v2.7m0 5.1v2.7m0 64.8v5.3m0 28.5v2.7m0 10.3v2.7m0 12.9v2.7m0 2.5v2.7m0 12.9v2.7m0 12.9v2.7m0 54.6v2.7m0 7.6v2.7m0 2.5v2.7m0 70.1v.6M409 195.1v2.7m0 83.1v2.7m0 15.4v5.3m0 80.5v2.7m0 28.6v2.7m0 20.6v2.7m0 2.5v2.7m0 2.5v2.7m0 20.7v5.3m0 15.6v2.7m0 7.6v2.7m0 33.8v2.7M444 91.1v2.7m0 7.7v2.7m0 7.7v2.7m0 51.9v2.7m0 23.3v2.7m0 33.7v2.7m0 10.3v2.7m0 57v2.7m0 33.8v2.7m0 12.8v2.7m0 28.5v2.7m0 23.3v2.7m0 7.7v2.7m0 23.3v2.7m0 12.9v2.7m0 5.1v2.7m0 33.8v2.7m0 20.6v2.7m0 2.5v2.7M484.5 130.1v2.7m0 2.4v2.7m0 38.9v2.7m0 65v2.7m0 5v2.7m0 10.3v2.7m0 23.3v2.7m0 33.7v5.3m0 31.2v2.7m0 23.3v2.7m0 10.3v2.7m0 7.6v2.7m0 20.7v2.7m0 23.3v2.7m0 2.6v2.7m0 2.4v2.7m0 7.7v2.7m0 2.5v2.7m0 18.1v2.7m0 10.3v2.7m0 25.9v2.7M499 145.7v2.7m0 12.9v2.7m0 36.3v5.2m0 31.2v2.7m0 51.8v2.7m0 44.2v2.7m0 64.8v2.7m0 2.5v2.7m0 28.6v2.7m0 12.8v2.7m0 72.8v5.2m0 5.1v2.7m0 10.3v.6M509 96.2v2.7m0 49.4v2.7m0 12.8v5.4m0 54.5v2.7m0 2.5v2.7m0 12.9v2.7m0 12.8v2.7m0 12.9v2.7m0 18.1v2.7m0 2.5v2.7m0 10.3v2.7m0 10.3v8m0 80.5v2.7m0 15.4v2.7m0 41.5v2.7m0 33.8v2.7m0 7.6v2.7m0 2.5v2.7m0 15.5v2.7m0 2.6v3.1M528 109.2v2.7m0 15.6v2.7m0 38.9v2.7m0 5v2.7m0 33.7v2.7m0 13v2.7m0 7.6v2.7m0 23.3v5.4m0 41.4v2.7m0 23.4v2.7m0 2.4v2.7m0 2.5v2.7m0 23.3v2.7m0 7.7v2.7m0 15.6v5.2m0 54.5v2.7m0 49.4v2.7M541.5 81v4.9m0 83.2v2.7m0 10.3v2.7m0 41.4v2.7m0 15.6v2.7m0 7.7v5.2m0 36.3v2.7m0 25.9v2.7m0 33.7v2.7m0 10.3v2.7m0 5.1v2.7m0 7.7v5.3m0 7.7v2.7m0 33.8v2.7m0 10.3v2.7M562 114.5v2.7m0 18v5.3m0 2.6v2.7m0 31v2.7m0 5.2v5.3m0 2.5v2.7m0 28.5v2.7m0 15.5v5.3m0 7.7v2.7m0 15.4v2.7m0 10.3v2.7m0 7.7v2.7m0 10.3v2.7m0 18.1v2.7m0 5.2v2.7m0 28.4v5.3m0 7.7v2.7m0 12.9v2.7m0 15.6v2.7m0 7.6v2.7m0 5.1v2.7m0 38.9v5.3m0 59.8v2.7M592 124.9v2.7m0 7.6v2.7m0 7.8v2.7m0 2.4v5.4m0 28.5v2.7m0 20.7v2.7m0 2.4v2.7m0 5.2v2.7m0 2.4v2.7m0 5.2v2.7m0 2.4v5.4m0 5.1v2.7m0 7.6v2.7m0 23.3v2.7m0 5.2v2.7m0 15.4v2.7m0 33.7v2.7m0 62.3v2.7m0 5.1v2.7m0 12.9v2.7m0 12.9v2.7m0 18.1v2.7m0 7.7v2.7m0 18.1v2.7m0 13v2.7m0 15.4v2.7m0 10.3v2.7M599 85.9v5.3m0 12.9v2.7m0 31v5.4m0 10.3v5.3m0 2.5v2.7m0 12.8v2.7m0 2.6v2.7m0 23.3v2.7m0 25.9v5.2m0 2.6v2.7m0 23.2v2.7m0 65v7.8m0 33.7v2.7m0 2.5v2.7m0 36.3v2.7m0 12.9v5.4m0 28.4v2.7m0 25.9v2.7m0 15.6v2.7M629 130.1v2.7m0 5v5.4m0 5.1v5.2m0 49.3v5.4m0 7.7v2.7m0 2.5v2.7m0 5.1v2.7m0 31v2.7m0 109.1v2.7m0 20.7v2.7m0 20.7v2.7m0 59.7v2.7m0 7.8v2.7m0 20.6v2.7m0 28.5v2.7M680 104.1v2.7m0 5.1v2.7m0 93.5v2.7m0 25.9v2.7m0 15.5v2.7m0 5v2.7m0 7.7v2.7m0 7.7v2.7m0 20.8v2.7m0 12.8v2.7m0 18.1v2.7m0 62.3v2.7m0 44.2v2.7m0 51.8v2.7m0 20.8v2.7M693 140.5v2.7m0 2.5v2.7m0 12.9v2.7m0 2.5v2.7m0 5.1v2.7m0 51.9v2.7m0 15.5v2.7m0 15.4v2.7m0 33.7v2.7m0 54.5v2.7m0 10.3v2.7m0 15.6v2.7m0 7.6v2.7m0 13v2.7m0 23.3v2.7m0 2.4v2.7m0 59.7v2.7m0 38.9v5.4M704 153.5v2.7m0 15.5v2.7m0 36.3v2.7m0 18.1v2.7m0 5v5.4m0 2.5v2.7m0 7.6v2.7m0 36.3v2.7m0 2.5v2.7m0 28.6v2.7m0 7.6v2.7m0 36.3v2.7m0 2.5v2.7m0 20.7v10.5m0 5.1v2.7m0 2.5v2.7m0 41.5v2.7m0 18.1v2.7M754 85.9v2.7m0 18.1v2.7m0 7.7v2.7m0 12.9v2.7m0 23.3v2.7m0 7.7v2.7m0 59.7v2.7m0 18v2.7m0 18.1v2.7m0 54.5v2.7m0 28.5v2.7m0 54.5v2.7m0 10.3v2.7m0 5.1v2.7m0 7.7v2.7m0 12.9v2.7m0 44.1v2.7m0 28.5v2.7M765 93.7v2.7m0 18.1v2.7m0 12.9v2.7m0 2.4v2.7m0 23.4v2.7m0 5.1v2.7m0 15.5v2.7m0 15.5v2.7m0 12.9v5.3m0 5.1v2.7m0 25.8v5.3m0 5.1v2.7m0 23.3v2.7m0 2.5v2.7m0 5.1v2.7m0 10.3v2.7m0 7.8v2.7m0 12.8v7.9m0 2.5v2.7m0 7.7v2.7m0 2.5v5.4m0 12.8v2.7m0 2.5v2.7m0 2.6v2.7m0 5v2.7m0 23.3v2.7m0 20.7v2.7m0 2.5v2.7m0 7.7v2.7m0 5.1v2.7m0 54.6v2.7m0 2.5v2.7M771 101.5v5.3m0 12.9v2.7m0 90.8v2.7m0 13v2.7m0 2.5v2.7m0 132.4v2.7m0 12.9v2.7m0 5.1v2.7m0 15.5v2.7m0 49.3v2.7m0 7.7v2.7m0 12.9v2.7m0 41.6v2.7M782 137.8v2.7m0 88.4v2.7m0 96v2.7m0 36.3v2.7m0 12.9v2.7m0 25.9v2.7m0 12.9v2.7m0 36.3v2.7m0 5.1v5.3m0 10.3v2.7m0 57.1v5.3"/>
<path stroke="#f00" stroke-opacity="0.11" stroke-width="2.2" fill="none" d="M464 91.1v2.7m0 49.3v2.7m0 10.3v2.7m0 62.3v2.7m0 23.3v2.7m0 10.2v2.7m0 2.5v2.7m0 7.7v2.7m0 33.7v2.7m0 57.1v2.7m0 23.3v2.7m0 2.6v2.7m0 5v2.7m0 28.6v2.7m0 20.6v2.7m0 23.3v5.4m0 18.1v2.7m0 25.8v2.7M467 81v2.4m0 59.7v2.7m0 12.9v2.7m0 38.9v2.7m0 23.2v2.7m0 31.1v7.9m0 5.1v2.7m0 7.7v2.7m0 5.1v2.7m0 15.5v2.7m0 23.3v2.7m0 31.1v2.7m0 15.5v5.4m0 18v2.7m0 2.6v2.7m0 25.8v2.7m0 44.1v2.7m0 28.5v2.7m0 7.8v2.7m0 18.1v2.7M576.5 101.5v2.7m0 7.7v2.7m0 12.9v2.7m0 18.1v2.7m0 38.8v2.7m0 2.6v2.7m0 38.9v2.7m0 46.6v2.7m0 23.3v5.3m0 38.9v2.7m0 70.2v2.7m0 33.6v2.7M734.5 88.5v5.3m0 5.1v2.7m0 25.9v7.9m0 28.4v2.7m0 26v2.7m0 7.6v2.7m0 145.6v2.7m0 28.4v2.7"/>
<path stroke="#f00" stroke-opacity="0.11" stroke-width="2.4" fill="none" d="M431 127.5v2.7m0 28.5v2.7m0 7.7v2.7m0 33.7v2.7m0 142.9v2.7m0 28.4v2.7m0 70.2v2.7m0 49.3v2.7M481 85.9v2.7m0 153.3v2.7m0 33.6v2.7m0 44.1v2.7m0 18.1v2.7M584 104.1v2.7m0 20.7v2.7m0 7.6v2.7m0 52v2.7m0 10.3v2.7m0 25.9v2.7m0 5.1v2.7m0 90.8v2.7m0 23.3v2.7m0 18.1v2.7m0 12.9v2.7m0 2.6v2.7m0 44v2.7m0 18.1v2.7m0 7.8v2.7m0 38.8v2.7M726 314.6v2.7m0 12.9v2.7m0 23.3v2.7m0 189.7v2.7"/>
<path stroke="#f00" stroke-opacity="0.11" stroke-width="4.5" fill="none" d="M95.2 453.7v7.1"/>
<path stroke="#f00" stroke-opacity="0.14" stroke-width="1.5" fill="none" d="M744.5 88.5v2.7m0 59.6v2.7m0 161.1v2.7m0 70.1v2.7m0 70.1v2.7"/>
<path stroke="#f00" stroke-opacity="0.14" stroke-width="1.7" fill="none" d="M131.4 496.6v2.7M315 395.2v2.7m0 153.3v2.7M403.2 452.4v2.7M432.2 223.7v2.7m0 101.2v2.7m0 161.1v2.7M441.8 535.6v2.7M461.8 371.8v2.7M469.6 410.8v2.7M485.8 210.7v2.7M490.9 156.1v2.7M494.2 343.2v2.7M527.2 215.9v2.7m0 311.8v2.7M530.9 353.6v2.7m0 28.5v2.7m0 122.1v2.7M569.9 392.6v2.7M580 499.2v2.7M584.6 358.8v2.7M612.5 262.6v2.7M627.8 260v2.7M632.2 182.1v2.7M638.1 514.9v2.7M647.5 140.5v2.7M663.2 351.1v2.7m0 31v2.7M673.6 400.4v2.7M683.5 109.2v2.7m0 54.6v2.7M697.5 111.9v2.7M713 327.6v2.7M718.5 122.2v2.7M721.7 444.6v2.7M751 104.1v2.7m0 298.8v2.7M758.6 457.6v2.7"/>
<path stroke="#f00" stroke-opacity="0.14" stroke-width="2" fill="none" d="M267 518.6v4.4M269 515.9v7.1M289 517.6v5.4M295 515.5v7.5M347 514.4v8.6M545 508.4v14.6M553 511.8v11.2M587 515.1v7.9M674 515.8v7.2M678 518.9v4.1M692 517.6v5.4M696 517.7v5.3M729 517.8v5.2"/>
<path stroke="#f00" stroke-opacity="0.14" stroke-width="2.1" fill="none" d="M297 423.8v2.7m0 51.9v2.7m0 2.5v2.7m0 36.3v2.7M341 109.2v2.7m0 5.2v2.7m0 41.5v2.7m0 23.3v2.7m0 75.2v2.7m0 2.5v2.7m0 23.3v2.7m0 28.5v2.7m0 38.9v2.7m0 36.3v2.7m0 101.3v2.7M350 132.7v2.7m0 15.4v2.7m0 155.9v2.7m0 171.5v2.7m0 23.3v2.7M395 137.8v2.7m0 5.2v2.7m0 20.7v2.7m0 31v2.7m0 7.7v2.7m0 187.2v2.7m0 67.4v2.7M409 176.8v2.7m0 75.4v2.7m0 54.4v2.7m0 31.1v2.7m0 31.1v2.7m0 15.5v2.7m0 36.3v2.7m0 7.7v2.7m0 41.5v2.7m0 23.3v2.7M444 83.2v2.7m0 23.3v2.7m0 38.9v2.7m0 91v2.7m0 70v2.7m0 7.7v2.7m0 122.1v2.7m0 2.5v2.7m0 12.9v2.7M484.5 148.3v2.7m0 88.2v2.7m0 13v2.7m0 75.3v2.7m0 15.5v2.7m0 7.6v2.7m0 31.1v2.7m0 12.9v2.7m0 44.1v2.7m0 67.6v2.7m0 12.8v2.7M499 135.2v2.7m0 49.4v2.7m0 44.1v2.7m0 75.2v2.7m0 88.4v2.7m0 31v2.7m0 33.7v2.7M509 83.2v2.7m0 49.3v2.7m0 23.4v2.7m0 189.6v2.7m0 2.5v2.7m0 25.9v5.4m0 54.4v5.3m0 46.7v2.7m0 39v2.7m0 2.5v2.7M528 171.7v2.7m0 70.1v2.7m0 85.7v2.7m0 101.2v2.7M541.5 98.9v2.7m0 41.5v2.7m0 25.9v2.7m0 15.4v2.7m0 20.7v2.7m0 241.7v2.7m0 5.1v2.7m0 75.3v2.7M562 98.9v2.7m0 18.1v2.7m0 2.5v2.7m0 18.1v2.7m0 7.7v2.7m0 36.3v2.7m0 62.2v2.7m0 5.2v2.7m0 77.8v2.7m0 44.1v2.7m0 88.3v2.7m0 20.7v2.7m0 44.1v.6M592 104.1v2.7m0 2.4v2.7m0 20.8v2.7m0 12.9v2.7m0 5.1v2.7m0 64.9v2.7m0 90.8v2.7m0 18.2v2.7m0 49.3v2.7m0 12.8v2.7m0 18.1v2.7m0 36.3v2.7m0 28.5v2.7m0 15.6v2.7m0 18v2.7m0 2.6v2.7M599 93.7v2.7m0 33.7v2.7m0 85.7v2.7m0 83v2.7m0 93.5v2.7m0 7.7v2.7m0 36.3v2.7m0 25.9v2.7M629 91.1v2.7m0 49.3v2.7m0 20.7v2.7m0 10.3v2.7m0 41.5v2.7m0 75.2v2.7m0 18.1v2.7m0 7.8v2.7m0 12.8v2.7m0 7.7v2.7m0 153.4v2.7m0 5v2.7m0 5.1v2.7m0 5.1v2.7M680 127.5v2.7m0 70.1v2.7m0 54.4v2.7m0 98.7v2.7m0 155.9v2.7M693 143.1v2.7m0 25.9v2.7m0 7.7v2.7m0 2.5v2.7m0 114.2v2.7m0 41.5v2.7m0 28.5v2.7m0 5.1v2.7m0 5.1v2.7m0 7.7v2.7M704 137.8v2.7m0 26v2.7m0 5.1v2.7m0 83v2.7m0 7.7v2.7m0 88.3v2.7m0 2.5v5.3m0 5.2v2.7m0 12.8v2.7m0 54.5v5.3m0 5.1v2.7m0 10.3v2.7m0 18.2v2.7m0 18.1v2.7m0 5v2.7M754 148.3v2.7m0 350.8v2.7M765 314.6v2.7m0 168.9v2.7m0 15.5v2.7m0 10.3v2.7m0 10.3v2.7m0 18.1v2.7M771 106.7v2.7m0 298.8v2.7m0 23.3v2.7m0 23.3v2.7M782 81v2.4m0 20.7v2.7m0 10.3v2.7m0 80.5v2.7m0 51.9v2.7m0 72.6v2.7m0 7.7v2.7m0 31.1v2.7m0 44.1v2.7m0 85.7v2.7m0 23.3v2.7m0 2.6v2.7"/>
<path stroke="#f00" stroke-opacity="0.14" stroke-width="2.2" fill="none" d="M464 130.1v2.7m0 155.8v2.7m0 57.1v2.7m0 26v2.7m0 5v2.7m0 2.6v2.7m0 2.4v2.7m0 57.2v2.7m0 59.6v2.7M467 202.8v2.7m0 28.6v2.7m0 33.6v2.7m0 2.5v2.7m0 28.6v2.7m0 12.8v2.7m0 5.1v5.4m0 2.5v2.7m0 25.8v2.7m0 15.5v2.7m0 5.1v2.7m0 83.1v2.7m0 23.3v2.7M576.5 293.9v2.7m0 64.8v2.7m0 39v2.7m0 38.8v2.7m0 2.5v2.7m0 18.1v2.7M734.5 176.8v2.7m0 28.6v2.7m0 2.4v2.7m0 18.2v5.3m0 41.5v2.7m0 33.6v2.7m0 44.2v2.7m0 25.8v2.7"/>
<path stroke="#f00" stroke-opacity="0.14" stroke-width="2.4" fill="none" d="M431 117.1v2.7m0 64.9v2.7m0 59.7v2.7m0 20.6v2.7m0 62.3v2.7M481 252.2v2.7M584 96.2v2.7m0 2.6v2.7m0 46.6v2.7m0 2.6v2.7m0 10.3v2.7m0 12.9v2.7m0 132.5v2.7m0 25.8v2.7m0 2.5v2.7m0 23.3v2.7m0 129.9v2.7M726 286v2.7m0 31.2v2.7m0 127.2v2.7m0 49.3v2.7"/>
<path stroke="#f00" stroke-opacity="0.14" stroke-width="4.5" fill="none" d="M95.2 533.8v11.8"/>
<path stroke="#f00" stroke-opacity="0.16" stroke-width="1.5" fill="none" d="M744.5 83.2v2.7m0 7.8v2.7m0 5.1v5.3m0 23.3v2.7m0 5v2.7m0 5.2v5.3m0 7.7v2.7m0 5.1v2.7m0 2.5v2.7m0 5.1v5.3m0 10.3v2.7m0 15.4v2.7m0 5.2v5.3m0 2.5v2.7m0 2.5v5.3m0 2.5v2.7m0 2.5v2.7m0 20.6v2.7m0 10.3v2.7m0 38.9v2.7m0 7.7v2.7m0 2.5v5.3m0 20.7v2.7m0 2.5v2.7m0 18.1v5.3m0 7.7v2.7m0 12.9v2.7m0 2.5v2.7m0 23.3v2.7m0 10.3v2.7m0 2.5v2.7m0 7.8v2.7m0 7.6v2.7m0 18.1v2.7m0 13v2.7m0 25.8v.6"/>
<path stroke="#f00" stroke-opacity="0.16" stroke-width="1.7" fill="none" d="M177.8 218.5v2.7M191.8 137.8v2.7M291.9 197.7v2.7M328.5 296.4v2.7M338.9 364.1v2.7M374.3 351.1v2.7M377.8 124.9v2.7m0 80.5v2.7M399.8 462.8v2.7M432.2 114.5v2.7M452.9 465.4v2.7M494.2 228.9v2.7M510.8 395.2v2.7M515.2 210.7v2.7m0 5.1v2.7M519.9 223.7v2.7M527.2 200.3v2.7M535.9 405.6v2.7M544.6 104.1v2.7M547.8 98.9v2.7m0 314.5v2.7M551.1 442.1v2.7M555.5 473.2v2.7M565.2 322.4v2.7m0 80.5v2.7M569.9 306.9v2.7M580 322.4v2.7m0 195v2.7M584.6 114.5v2.7M589.1 119.7v2.7m0 18.1v2.7M599.8 504.4v2.7M627.8 384.8v2.7M632.2 286v2.7M638.1 179.5v2.7M647.5 332.9v2.7M652.9 88.5v2.7m0 127.3v2.7m0 20.7v2.7M667.9 533.1v2.7M683.5 228.9v2.7m0 236.5v2.7M687.7 109.2v2.7m0 148.1v2.7M691.6 286v2.7M697.5 208.1v2.7M718.5 416.1v2.7M736.5 106.7v2.7m0 278v2.7m0 62.3v2.7M740.1 182.1v2.7m0 272.8v2.7M745.4 395.2v2.7M751 109.2v2.7m0 184.5v2.7m0 75.3v2.7M768.5 390.1v2.7m0 148.1v2.7M777.1 304.2v2.7m0 109.2v2.7M780.9 101.5v2.7M784.1 325v2.7m0 70.1v2.7m0 150.7v2.7"/>
<path stroke="#f00" stroke-opacity="0.16" stroke-width="2" fill="none" d="M273 516.6v6.4M277 518v5M289 513.1v9.9M293 520.2v2.8M297 514.1v8.9M299 517.1v5.9M343 506.8v16.2M347 507.3v15.7M351 512.2v10.8M583 511.6v11.4M605 512.1v10.9m0 -6v6M607 512.9v10.1M609 515.3v7.7M611 512.7v10.3M613 517.8v5.2M631 516.1v6.9M674 509.8v13.2M676 509.9v13.1M678 515.6v7.4M680 509.3v13.7M692 513.1v9.9M696 513.4v9.6M709 517.5v5.5M749 517.4v5.6"/>
<path stroke="#f00" stroke-opacity="0.16" stroke-width="2.1" fill="none" d="M297 509.6v2.7M341 81v4.9m0 49.3v5.3m0 10.3v2.7m0 15.6v2.7m0 46.7v2.7m0 7.7v2.7m0 12.9v2.7m0 12.8v2.7m0 116.9v2.7m0 2.5v2.7m0 7.7v2.7m0 2.5v2.7m0 41.5v2.7m0 2.5v2.7m0 23.3v5.3m0 13v2.7M350 317.2v2.7m0 28.5v2.7m0 101.3v2.7M395 85.9v2.7m0 36.3v2.7m0 5.1v2.7m0 257.2v2.7m0 2.5v2.7m0 36.3v2.7m0 64.9v2.7M409 83.2v5.4m0 2.5v2.7m0 5.1v2.7m0 23.3v2.7m0 5.1v2.7m0 31.1v5.3m0 2.5v2.7m0 5.1v2.7m0 15.5v2.7m0 12.9v5.3m0 12.9v2.7m0 23.2v2.7m0 20.7v2.7m0 10.3v2.7m0 23.3v2.7m0 2.5v2.7m0 38.9v2.7m0 20.7v2.7m0 18.1v2.7m0 5.1v2.7m0 33.7v2.7m0 2.5v2.7m0 12.9v2.7m0 7.7v2.7m0 10.3v2.7m0 10.4v2.7m0 5v2.7m0 2.6v5.2m0 2.5v2.7m0 18.1v.6M444 187.3v2.7m0 44.1v2.7m0 2.4v2.7m0 54.5v2.7m0 67.5v2.7m0 46.8v2.7m0 101.3v2.7m0 10.3v2.7M484.5 98.9v2.7m0 23.3v2.7m0 36.2v2.7m0 15.6v7.9m0 33.7v2.7m0 59.6v2.7m0 7.7v2.7m0 18.1v2.7m0 5.1v2.7m0 25.9v2.7m0 2.5v2.7M499 130.1v2.7m0 90.9v2.7m0 2.5v2.7m0 96v2.7m0 85.8v2.7m0 2.4v2.7m0 64.9v2.7m0 28.6v2.7m0 31.1v2.7M509 85.9v5.3m0 163.7v2.7m0 41.4v2.7m0 15.5v2.7m0 46.7v2.7m0 5.1v2.7m0 111.7v2.7m0 18.1v2.7m0 23.3v2.7M528 104.1v2.7m0 101.3v2.7m0 106.4v2.7m0 59.7v5.3m0 67.5v5.4m0 7.6v2.7m0 7.7v2.7m0 2.6v2.7m0 7.6v2.7m0 2.5v2.7m0 2.5v5.3m0 36.3v5.4M541.5 111.9v5.3m0 18v2.7m0 7.8v2.7m0 18.1v2.7m0 36.3v2.7m0 10.3v2.7m0 7.7v2.7m0 5.1v2.7m0 36.2v2.7m0 2.6v2.7m0 5v2.7m0 36.3v2.7m0 2.6v2.7m0 67.5v2.7m0 12.8v2.7m0 38.9v2.7m0 5.2v2.7m0 18v2.7m0 31.1v5.3m0 26v2.7M562 197.7v2.7m0 31.1v2.7m0 83v2.7m0 93.5v2.7m0 83.1v2.7m0 41.5v2.7M592 98.9v2.7m0 93.5v5.3m0 18.1v2.7m0 7.7v2.7m0 41.4v2.7m0 31.2v2.7m0 18v2.7m0 12.9v2.7m0 12.9v2.7m0 2.6v2.7m0 5v2.7m0 7.7v2.7m0 38.9v2.7m0 5.1v2.7m0 12.9v2.7m0 5.2v2.7m0 10.3v2.7m0 28.4v2.7m0 7.7v2.7m0 33.8v2.7m0 5.1v2.7M599 119.7v2.7m0 44.1v2.7m0 2.5v5.3m0 15.5v2.7m0 25.9v2.7m0 51.8v2.7m0 28.6v2.7m0 103.8v2.7m0 18.1v2.7m0 114.3v2.7M629 83.2v2.7m0 18.2v2.7m0 127.3v2.7m0 2.4v2.7m0 10.3v2.7m0 10.3v2.7m0 13v2.7m0 2.4v2.7m0 2.5v2.7m0 2.5v2.7m0 7.8v2.7m0 28.5v2.7m0 12.8v2.7m0 10.3v2.7m0 10.3v2.7m0 7.8v5.2m0 10.3v2.7m0 5.1v5.4m0 12.8v2.7m0 7.8v5.2m0 2.5v2.7m0 2.6v2.7m0 23.3v2.7m0 57.1v2.7m0 12.8v.6M680 85.9v2.7m0 10.3v2.7m0 18.1v2.7m0 20.7v2.7m0 2.5v2.7m0 12.8v2.7m0 13v2.7m0 7.6v2.7m0 2.6v5.3m0 5.1v2.7m0 2.5v2.7m0 5.1v2.7m0 2.5v2.7m0 12.8v5.4m0 2.5v2.7m0 2.4v2.7m0 5.1v2.7m0 2.5v2.7m0 26v2.7m0 2.4v5.3m0 7.7v2.7m0 2.5v2.7m0 15.5v2.7m0 2.5v2.7m0 2.5v2.7m0 12.9v2.7m0 23.3v2.7m0 15.5v2.7m0 41.5v2.7m0 20.7v5.3m0 2.6v2.7m0 7.6v2.7m0 36.3v2.7m0 7.8v5.2m0 7.8v2.7M693 156.1v5.3m0 23.3v2.7m0 23.3v2.7m0 20.7v2.7m0 124.6v5.4m0 54.4v2.7m0 2.5v2.7M704 96.2v2.7m0 26v5.3m0 2.5v2.7m0 10.3v2.7m0 36.3v2.7m0 12.9v2.7m0 2.5v5.3m0 25.9v2.7m0 5.1v2.7m0 15.4v5.3m0 7.7v8m0 2.4v2.7m0 33.7v2.7m0 2.5v2.7m0 5.1v5.4m0 15.4v5.3m0 18.1v2.7m0 12.9v2.7m0 2.5v7.9m0 49.3v2.7m0 2.5v2.7m0 12.9v2.7m0 23.3v2.7m0 2.5v2.7m0 7.8v2.7m0 2.4v2.7m0 7.7v8m0 2.5v2.7m0 2.4v2.7m0 2.5v.6M754 122.2v2.7m0 5.2v2.7m0 20.7v2.7m0 44.1v2.7m0 7.7v2.7m0 2.5v2.7m0 7.6v2.7m0 7.8v2.7m0 7.7v5.3m0 15.5v2.7m0 15.4v2.7m0 2.5v2.7m0 13v5.2m0 7.8v2.7m0 10.3v5.2m0 15.5v2.7m0 18.1v5.4m0 12.8v2.7m0 18.1v2.7m0 44.1v2.7m0 18.2v2.7m0 44.1v2.7m0 18v2.7M765 158.7v2.7m0 5.1v2.7m0 49.3v2.7m0 54.4v2.7m0 77.9v2.7m0 93.5v2.7m0 13v2.7m0 2.4v2.7m0 12.9v2.7M771 429.1v2.7m0 103.8v2.7M782 85.9v2.7m0 54.5v2.7m0 28.5v5.2m0 33.7v2.7m0 2.6v2.7m0 23.3v2.7m0 18v2.7m0 2.5v2.7m0 18.1v2.7m0 39v2.7m0 10.2v2.7m0 31.1v2.7m0 59.8v2.7"/>
<path stroke="#f00" stroke-opacity="0.16" stroke-width="2.2" fill="none" d="M464 81v2.4m0 2.5v2.7m0 28.5v2.7m0 12.9v2.7m0 23.3v2.7m0 33.7v2.7m0 7.7v2.7m0 2.5v5.2m0 7.8v2.7m0 18.1v2.7m0 23.2v2.7m0 12.9v2.7m0 2.5v2.7m0 13v2.7m0 18v2.7m0 7.8v2.7m0 2.4v2.7m0 5.2v5.2m0 12.9v2.7m0 2.5v2.7m0 10.3v2.7m0 2.5v2.7m0 38.9v2.7m0 10.3v2.7m0 25.9v2.7m0 2.6v2.7m0 15.4v2.7m0 2.5v2.7m0 5.1v2.7m0 5.2v2.7m0 12.8v5.3m0 10.3v5.4M467 83.2v2.7m0 5.2v2.7m0 7.7v2.7m0 7.7v2.7m0 2.5v2.7m0 7.7v2.7m0 15.5v2.7m0 7.7v2.7m0 5v2.7m0 20.8v5.2m0 15.6v2.7m0 20.7v2.7m0 7.7v5.3m0 10.2v2.7m0 25.9v2.7m0 10.3v5.3m0 10.3v5.3m0 7.7v2.7m0 10.3v5.3m0 2.5v2.7m0 7.7v8m0 12.8v2.7m0 12.9v5.3m0 7.7v2.7m0 28.5v2.7m0 70.1v2.7m0 2.5v2.7m0 10.3v2.7m0 7.8v2.7M576.5 96.2v2.7m0 44.2v2.7m0 64.9v2.7m0 2.5v5.3m0 10.3v2.7m0 5v5.4m0 5.1v10.4m0 12.9v2.7m0 7.7v2.7m0 18.1v2.7m0 2.5v2.7m0 5.1v2.7m0 5.1v2.7m0 5.2v2.7m0 2.5v2.7m0 7.6v2.7m0 15.5v2.7m0 38.9v2.7m0 49.3v2.7m0 70.2v2.7m0 12.8v2.7M734.5 83.2v5.4m0 5.1v2.7m0 25.8v2.7m0 10.3v2.7m0 7.8v2.7m0 38.9v2.7m0 25.9v2.7m0 5.1v2.7m0 5.1v2.7m0 5v2.7m0 5.2v2.7m0 20.6v2.7m0 20.8v2.7m0 18v2.7m0 23.3v2.7m0 10.3v2.7m0 2.5v2.7m0 5.1v5.3m0 41.5v2.7m0 80.5v2.7m0 2.5v2.7m0 2.6v2.7m0 2.4v2.7"/>
<path stroke="#f00" stroke-opacity="0.16" stroke-width="2.4" fill="none" d="M431 81v2.4m0 2.5v2.7m0 2.5v5.3m0 5.1v2.7m0 44.1v2.7m0 2.5v5.3m0 5v2.7m0 54.6v7.8m0 39v2.7m0 15.4v7.9m0 26v5.2m0 2.5v2.7m0 25.9v2.7m0 7.7v2.7m0 10.3v2.7m0 5.1v2.7m0 33.7v2.7m0 18.1v2.7m0 18.1v2.7m0 33.7v2.7m0 18.1v2.7m0 23.3v2.7M481 117.1v2.7m0 2.4v2.7m0 91v2.7m0 38.8v2.7m0 2.5v2.7m0 20.7v2.7m0 5.2v2.7m0 2.4v2.7m0 20.7v2.7m0 2.5v5.3m0 2.5v2.7m0 13v2.7m0 38.8v2.7m0 2.5v2.7m0 44.1v2.7m0 33.8v2.7m0 7.6v2.7m0 7.7v2.7m0 12.9v2.7M584 109.2v5.4m0 25.9v2.7m0 5.1v2.7m0 10.3v2.7m0 7.7v5.3m0 23.3v2.7m0 41.5v2.7m0 25.8v2.7m0 12.9v2.7m0 38.9v2.7m0 10.3v2.7m0 5.2v2.7m0 15.4v2.7m0 2.5v2.7m0 15.5v5.3m0 10.3v2.7m0 18.2v2.7m0 116.8v2.7M726 81v7.6m0 5.1v2.7m0 2.5v2.7m0 109.1v2.7m0 57v2.7m0 80.5v2.7m0 5.1v2.7m0 20.7v2.7m0 36.3v2.7m0 7.7v2.7m0 33.7v2.7m0 7.8v2.7m0 7.6v2.7m0 49.3v2.7m0 10.3v.6"/>
<path stroke="#f00" stroke-opacity="0.16" stroke-width="4.5" fill="none" d="M95.2 506.2v18.4m0 20.7v6.3"/>
<path stroke="#f00" stroke-opacity="0.22" stroke-width="1.5" fill="none" d="M744.5 119.7v7.9m0 7.6v2.7m0 18.2v2.7m0 2.5v2.7m0 12.8v2.7m0 7.8v2.7m0 2.5v2.7m0 7.6v2.7m0 33.7v2.7m0 26v2.7m0 7.6v2.7m0 93.5v2.7m0 26v2.7m0 12.8v2.7m0 28.5v2.7m0 46.7v2.7m0 20.7v2.7m0 25.9v2.7"/>
<path stroke="#f00" stroke-opacity="0.22" stroke-width="1.7" fill="none" d="M333.6 291.2v2.7M580 530.4v2.7M589.1 111.9v2.7M618.2 335.4v2.7M736.5 124.9v2.7M763.7 156.1v2.7M768.5 202.8v2.7"/>
<path stroke="#f00" stroke-opacity="0.22" stroke-width="2" fill="none" d="M291 518.6v4.4M293 517.9v5.1M299 512.4v10.6M609 509.1v13.9M611 504.3v18.7M613 513.5v9.5M615 513.1v9.9M631 510.4v12.6"/>
<path stroke="#f00" stroke-opacity="0.22" stroke-width="2.1" fill="none" d="M341 306.9v2.7M409 93.7v2.7m0 33.7v2.7m0 20.7v2.7m0 15.5v2.7m0 18.1v2.7m0 28.5v2.7m0 116.8v2.7m0 12.9v2.7M484.5 88.5v2.7m0 2.5v2.7M528 408.2v2.7m0 7.7v2.7m0 5.1v2.7m0 2.5v2.7m0 5.1v2.7m0 5.1v2.7m0 7.7v2.7m0 28.5v2.7m0 7.7v2.7m0 5.2v5.2m0 5.1v2.7m0 10.3v2.7m0 7.8v2.7M541.5 91.1v2.7m0 2.4v2.7m0 5.2v2.7m0 23.3v2.7m0 288.4v2.7m0 23.3v2.7m0 20.7v2.7m0 5.1v2.7m0 2.5v2.7m0 44.1v5.4m0 5.1v2.7M592 166.5v2.7M629 93.7v2.7m0 2.5v2.7m0 5.1v2.7m0 5.1v2.7m0 5v2.7m0 49.4v2.7m0 70.1v2.7m0 62.2v2.7m0 67.5v2.7m0 18.2v2.7m0 5v2.7m0 59.7v2.7M680 81v4.9m0 2.6v2.7m0 33.7v2.7m0 7.6v2.7m0 2.6v2.7m0 2.5v2.7m0 2.4v5.4m0 18.1v2.7m0 5.1v2.7m0 2.5v2.7m0 2.5v2.7m0 7.6v2.7m0 7.7v2.7m0 13v2.7m0 12.9v2.7m0 20.7v2.7m0 38.8v2.7m0 20.8v2.7m0 2.5v2.7m0 15.4v2.7m0 15.5v2.7m0 7.7v2.7m0 2.6v2.7m0 31v5.3m0 5.1v2.7m0 2.5v2.7m0 2.5v2.7m0 5.1v2.7m0 10.3v2.7m0 2.5v2.7m0 23.3v2.7m0 20.8v2.7m0 15.4v2.7m0 7.7v2.7M704 93.7v2.7m0 18.1v2.7m0 5v2.7m0 18.2v2.7m0 10.3v2.7m0 2.5v2.7m0 59.7v7.9m0 2.5v2.7m0 12.9v2.7m0 2.5v2.7m0 54.4v2.7m0 25.9v2.7m0 31.1v2.7m0 13v2.7m0 96v2.7M754 88.5v2.7m0 20.7v2.7m0 12.9v2.7m0 25.9v2.7m0 49.3v2.7m0 31.1v2.7m0 10.3v7.8m0 15.5v2.7m0 2.5v2.7m0 12.9v2.7m0 2.5v2.7m0 7.7v5.3m0 18.2v2.7m0 18v2.7m0 5.1v2.7m0 2.5v2.7m0 5.1v2.7m0 7.8v2.7m0 10.3v7.8m0 5.2v2.7m0 18v2.7m0 2.6v2.7m0 10.3v2.7m0 5v2.7m0 2.6v2.7m0 2.4v2.7m0 20.7v2.7m0 5.1v2.7m0 18.1v2.7m0 23.3v2.7M782 83.2v2.7m0 20.8v2.7m0 23.3v2.7m0 23.3v5.3m0 59.7v5.2m0 33.7v2.7m0 10.3v2.7m0 2.6v2.7m0 28.4v2.7m0 38.9v2.7m0 75.3v2.7m0 33.8v2.7m0 72.6v2.7"/>
<path stroke="#f00" stroke-opacity="0.22" stroke-width="2.2" fill="none" d="M464 83.2v2.7m0 2.6v2.7m0 18v5.4m0 5.1v5.2m0 15.6v2.7m0 25.9v2.7m0 10.3v2.7m0 5v5.4m0 12.9v2.7m0 153.3v2.7m0 38.8v2.7m0 12.9v7.9m0 49.3v2.7m0 2.5v5.3m0 20.7v2.7m0 12.9v2.7m0 18.2v2.7M467 153.5v2.7m0 20.6v5.4m0 10.3v2.7m0 10.3v2.7m0 10.3v2.7m0 2.5v2.7m0 10.3v5.2m0 70.1v2.7m0 59.7v2.7m0 36.3v2.7m0 5.1v2.7m0 2.5v5.4m0 20.6v2.7m0 2.5v2.7m0 2.5v2.7m0 5.1v5.3m0 5.2v2.7m0 10.3v2.7m0 12.8v2.7m0 23.3v5.3m0 5.2v2.7M576.5 81v2.4m0 31.1v2.7m0 36.3v2.7m0 12.9v2.7m0 33.7v2.7m0 38.9v2.7m0 10.2v2.7m0 15.5v5.4m0 12.8v2.7m0 2.5v2.7m0 2.6v2.7m0 12.8v2.7m0 33.7v2.7m0 2.6v2.7m0 2.4v2.7m0 7.7v2.7m0 2.5v2.7m0 90.9v2.7m0 10.3v2.7m0 13v2.7m0 7.6v2.7m0 33.8v2.7M734.5 182.1v2.7m0 12.9v2.7m0 44.1v2.7m0 2.5v2.7m0 5v2.7m0 15.5v2.7m0 23.3v2.7m0 2.6v2.7m0 10.3v7.8m0 5.2v2.7m0 20.6v2.7m0 18.2v2.7m0 46.6v2.7m0 2.5v2.7m0 38.9v2.7m0 7.7v5.3m0 26v5.2m0 13v2.7m0 7.6v2.7"/>
<path stroke="#f00" stroke-opacity="0.22" stroke-width="2.4" fill="none" d="M431 104.1v2.7m0 12.9v5.2m0 12.9v2.7m0 62.3v2.7m0 10.4v2.7m0 25.9v2.7m0 2.5v2.7m0 5v2.7m0 12.9v2.7m0 5.2v2.7m0 12.8v2.7m0 7.8v2.7m0 2.4v2.7m0 49.4v2.7m0 5v2.7m0 57.1v2.7m0 15.5v2.7m0 5.1v2.7m0 12.9v2.7m0 5.2v5.2m0 12.9v2.7m0 26v2.7M481 132.7v2.7m0 18.1v2.7m0 28.5v2.7m0 18.1v2.7m0 38.9v2.7m0 10.2v2.7m0 41.5v2.7m0 10.3v2.7m0 51.9v2.7m0 12.9v2.7m0 23.3v2.7m0 78v7.8m0 36.3v2.7M584 117.1v2.7m0 2.4v2.7m0 41.6v2.7m0 12.9v2.7m0 5v2.7m0 10.3v2.7m0 2.6v10.5m0 12.9v2.7m0 5v2.7m0 10.3v2.7m0 44.1v2.7m0 7.7v2.7m0 5.1v2.7m0 25.9v2.7m0 10.3v2.7m0 10.3v2.7m0 12.9v2.7m0 28.5v2.7m0 15.5v5.3m0 44.1v2.7m0 7.7v2.7m0 7.8v2.7m0 5.1v5.2m0 23.3v2.7M726 101.5v2.7m0 54.5v2.7m0 38.9v2.7m0 31.1v2.7m0 2.4v2.7m0 7.8v7.9m0 18v2.7m0 5.1v2.7m0 41.5v2.7m0 18.1v2.7m0 7.7v2.7m0 5.1v2.7m0 23.3v5.3m0 41.5v2.7m0 23.3v5.4m0 18v2.7m0 25.9v2.7"/>
<path stroke="#f00" stroke-opacity="0.22" stroke-width="4.5" fill="none" d="M95.2 496.7v9.9m0 17.7v9.8m0 17.2v5.7"/>
<path stroke="#f00" stroke-opacity="0.27" stroke-width="1.5" fill="none" d="M744.5 184.7v2.7m0 10.3v2.7m0 49.3v2.7m0 7.6v2.7m0 23.3v2.7m0 7.7v2.7m0 7.8v2.7m0 7.6v2.7m0 2.5v2.7m0 7.8v2.7m0 2.5v2.7m0 67.4v2.7m0 2.5v2.7m0 15.5v2.7m0 7.8v2.7m0 44v2.7m0 15.6v2.7m0 25.8v2.7"/>
<path stroke="#f00" stroke-opacity="0.27" stroke-width="2" fill="none" d="M615 505v18"/>
<path stroke="#f00" stroke-opacity="0.27" stroke-width="2.1" fill="none" d="M528 533.1v2.7M541.5 429.1v2.7m0 20.6v2.7m0 26v2.7m0 10.3v5.2m0 20.8v2.7m0 28.4v2.7M592 122.2v2.7M629 156.1v2.7M680 93.7v2.7m0 70.1v2.7m0 2.5v2.7m0 46.7v2.7m0 51.8v2.7m0 12.9v2.7m0 33.7v2.7m0 18.1v7.9m0 12.9v2.7m0 5.2v2.7m0 15.4v5.3m0 18.1v5.3m0 5.2v2.7m0 36.3v2.7m0 41.4v2.7m0 13v2.7m0 20.6v2.7M704 88.5v2.7m0 25.9v5.3m0 7.7v2.7m0 7.7v2.7m0 33.6v2.7m0 15.6v2.7m0 23.3v2.7m0 140.3v2.7M754 109.2v2.7m0 2.6v2.7m0 28.5v2.7m0 25.9v2.7m0 12.8v2.7m0 13v2.7m0 20.7v2.7m0 7.6v2.7m0 28.5v2.7m0 7.8v2.7m0 5v2.7m0 20.7v2.7m0 10.3v2.7m0 20.7v5.4m0 15.4v2.7m0 25.9v2.7m0 10.3v2.7m0 7.7v2.7m0 2.5v2.7m0 23.3v2.7m0 33.7v2.7m0 28.6v2.7m0 31.1v3.1M782 114.5v2.7m0 23.3v2.7m0 2.5v2.7m0 33.7v2.7m0 5v2.7m0 363.9v.6"/>
<path stroke="#f00" stroke-opacity="0.27" stroke-width="2.2" fill="none" d="M464 96.2v2.7m0 5.2v2.7m0 7.7v2.7m0 7.7v2.7m0 7.6v5.3m0 20.8v2.7m0 7.7v2.7m0 2.4v2.7m0 18.2v2.7m0 15.5v2.7m0 10.3v2.7m0 168.8v2.7m0 26v2.7m0 31v2.7m0 7.7v2.7m0 12.9v2.7m0 36.4v5.2M467 98.9v2.7m0 2.5v2.7m0 2.4v2.7m0 20.8v2.7m0 5.1v2.7m0 18.1v2.7m0 7.7v2.7m0 7.7v2.7m0 44.1v2.7m0 49.3v2.7m0 116.8v2.7m0 39v2.7m0 41.4v5.3m0 7.7v2.7m0 5.2v2.7m0 10.3v2.7m0 25.8v5.3M576.5 88.5v2.7m0 2.5v2.7m0 12.8v2.7m0 28.6v2.7m0 12.9v5.3m0 12.9v2.7m0 25.8v2.7m0 20.7v2.7m0 15.6v2.7m0 23.2v2.7m0 25.9v2.7m0 25.9v2.7m0 12.9v2.7m0 5.2v2.7m0 44v2.7m0 41.6v2.7m0 18v2.7m0 36.3v2.7m0 7.7v5.4m0 7.6v2.7m0 23.3v2.7M734.5 140.5v2.7m0 85.7v2.7m0 28.4v2.7m0 20.7v5.3m0 7.7v2.7m0 28.5v2.7m0 5.1v5.4m0 2.4v2.7m0 2.5v2.7m0 23.3v2.7m0 23.3v2.7m0 36.3v2.7m0 36.3v2.7m0 10.3v2.7m0 5.1v2.7m0 36.3v2.7m0 5.2v2.7m0 7.6v.6"/>
<path stroke="#f00" stroke-opacity="0.27" stroke-width="2.4" fill="none" d="M431 106.7v5.2m0 20.8v2.7m0 38.9v2.7m0 2.5v2.7m0 10.3v2.7m0 2.5v2.7m0 31.1v2.7m0 7.7v2.7m0 10.3v2.7m0 18v2.7m0 5.1v2.7m0 15.5v2.7m0 12.9v2.7m0 54.5v2.7m0 7.7v2.7m0 5.1v2.7m0 64.9v2.7m0 31.2v2.7m0 15.4v2.7m0 39v3.1M481 88.5v2.7m0 38.9v2.7m0 2.4v2.7m0 51.9v2.7m0 5.2v5.3m0 25.9v2.7m0 36.3v5.2m0 7.8v2.7m0 28.4v2.7m0 23.4v2.7m0 15.4v5.3m0 5.1v2.7m0 5.1v5.4m0 2.4v2.7m0 10.3v2.7m0 28.5v2.7m0 36.3v2.7m0 44.1v2.7M584 83.2v5.4m0 5.1v2.7m0 2.5v2.7m0 41.5v5.3m0 5.1v2.7m0 62.3v2.7m0 36.2v5.3m0 59.7v2.7m0 13v2.7m0 49.3v2.7m0 62.3v2.7m0 72.6v2.7m0 2.5v5.3m0 13v2.7M726 96.2v2.7m0 7.8v2.7m0 7.7v2.7m0 5.1v2.7m0 15.5v2.7m0 20.7v2.7m0 5.1v2.7m0 15.5v2.7m0 23.3v2.7m0 5v2.7m0 2.6v2.7m0 7.7v2.7m0 2.5v2.7m0 7.6v2.7m0 5.1v2.7m0 41.5v2.7m0 39v2.7m0 15.4v2.7m0 15.5v2.7m0 7.7v2.7m0 2.6v5.2m0 46.8v2.7m0 2.4v2.7m0 12.9v2.7m0 28.6v2.7m0 12.8v2.7"/>
<path stroke="#f00" stroke-opacity="0.33" stroke-width="1.5" fill="none" d="M744.5 244.5v2.7m0 18v2.7m0 33.7v2.7m0 7.7v2.7m0 12.9v2.7m0 18.1v2.7m0 7.7v2.7m0 85.7v2.7m0 7.7v2.7m0 44.1v2.7m0 2.5v2.7m0 25.9v2.7"/>
<path stroke="#f00" stroke-opacity="0.33" stroke-width="2" fill="none" d="M291 515.1v7.9"/>
<path stroke="#f00" stroke-opacity="0.33" stroke-width="2.1" fill="none" d="M528 429.1v2.7m0 36.3v2.7m0 23.3v2.7M541.5 439.4v2.7m0 20.7v2.7M680 156.1v2.7m0 111.6v2.7m0 91v2.7m0 12.8v5.3m0 51.9v2.7m0 2.6v2.7m0 44v2.7m0 10.3v2.7m0 31.1v2.7M704 109.2v2.7m0 23.3v2.7m0 54.6v2.7m0 7.6v2.7m0 13v2.7M754 83.2v2.7m0 5.2v2.7m0 10.3v2.7m0 12.9v2.7m0 2.5v2.7m0 7.6v2.7m0 25.9v2.7m0 5.2v2.7m0 2.4v2.7m0 54.6v2.7m0 7.7v2.7m0 18v2.7m0 7.7v2.7m0 23.3v2.7m0 18.1v2.7m0 18.1v2.7m0 18.2v2.7m0 18v2.7m0 12.9v2.7m0 44.1v2.7m0 7.7v2.7m0 38.9v2.7m0 5.2v2.7m0 5.1v2.7m0 18v2.7M782 187.3v2.7"/>
<path stroke="#f00" stroke-opacity="0.33" stroke-width="2.2" fill="none" d="M464 127.5v2.7m0 15.5v2.7m0 15.4v2.7m0 33.8v5.2m0 28.6v2.7m0 179.3v2.7m0 18v2.7M467 114.5v2.7m0 2.5v2.7m0 2.5v2.7m0 7.6v5.3m0 10.3v2.7m0 13v2.7m0 236.4v2.7m0 28.5v2.7m0 7.7v2.7m0 93.5v2.7M576.5 85.9v2.7m0 2.5v2.7m0 5.1v2.7m0 2.5v2.7m0 161.1v2.7m0 5v2.7m0 12.9v2.7m0 96.2v2.7m0 54.4v2.7m0 54.5v2.7m0 23.3v2.7M734.5 117.1v2.7m0 122.1v2.7m0 20.6v2.7m0 36.3v2.7m0 5.1v2.7m0 15.5v2.7m0 28.5v2.7m0 23.3v2.7m0 13v2.7m0 28.4v2.7m0 5.2v2.7m0 7.6v2.7m0 7.7v2.7m0 2.6v2.7m0 18v2.7m0 49.4v2.7"/>
<path stroke="#f00" stroke-opacity="0.33" stroke-width="2.4" fill="none" d="M431 114.5v2.7m0 7.7v2.7m0 2.5v2.7m0 7.7v2.7m0 28.5v2.7m0 2.4v2.7m0 2.6v2.7m0 2.5v2.7m0 5.1v2.7m0 15.4v2.7m0 23.3v2.7m0 18.1v2.7m0 36.3v2.7m0 7.7v2.7m0 20.8v2.7m0 2.5v5.2m0 54.5v2.7m0 7.7v2.7m0 28.5v2.7m0 67.5v2.7m0 5.1v2.7m0 18.1v2.7M481 81v2.4m0 10.3v2.7m0 5.1v2.7m0 23.3v2.7m0 72.6v2.7m0 2.6v2.7m0 10.3v2.7m0 41.4v2.7m0 20.7v2.7m0 10.3v2.7m0 28.6v2.7m0 7.6v2.7m0 2.5v2.7m0 88.3v2.7m0 33.7v2.7m0 5.1v2.7m0 36.3v2.7m0 2.6v2.7m0 2.5v2.7M584 88.5v2.7m0 28.5v2.7m0 2.5v2.7m0 70.1v2.7m0 20.7v2.7m0 5.1v2.7m0 192.2v2.7m0 5.1v2.7m0 33.8v2.7m0 33.6v2.7m0 49.3v.6M726 148.3v2.7m0 2.5v2.7m0 15.5v2.7m0 2.4v2.7m0 5.2v2.7m0 2.4v2.7m0 13v5.3m0 2.4v2.7m0 7.8v2.7m0 41.5v2.7m0 7.6v2.7m0 10.3v2.7m0 7.7v5.3m0 5.1v2.7m0 7.7v5.3m0 12.9v2.7m0 31.1v5.4m0 62.3v2.7m0 33.6v2.7m0 18.1v2.7m0 33.7v5.3m0 10.3v2.7"/>
<path stroke="#f00" stroke-opacity="0.38" stroke-width="1.5" fill="none" d="M744.5 254.9v2.7m0 18v2.7m0 2.6v2.7m0 70v2.7m0 41.5v2.7m0 23.3v2.7m0 28.6v2.7m0 15.4v2.7m0 10.3v2.7m0 57.2v2.7"/>
<path stroke="#f00" stroke-opacity="0.38" stroke-width="2.1" fill="none" d="M629 119.7v2.7M680 249.7v2.7m0 44v2.7m0 101.3v5.4m0 10.3v2.7m0 12.8v2.7m0 64.9v2.7m0 20.7v5.3M704 98.9v2.7m0 77.9v2.7m0 31v5.4M754 93.7v5.2m0 38.9v5.4m0 38.9v2.7m0 33.7v2.7m0 166.2v2.7m0 85.7v5.3m0 2.5v2.7m0 36.3v2.7"/>
<path stroke="#f00" stroke-opacity="0.38" stroke-width="2.2" fill="none" d="M464 150.8v2.7m0 65v2.7M467 106.7v2.7m0 20.7v2.7m0 382.1v2.7M576.5 83.2v2.7m0 31.2v2.7m0 10.3v10.4m0 5.2v2.7m0 38.9v2.7m0 2.5v2.7m0 226v2.7m0 59.7v5.3m0 7.7v2.7m0 36.3v2.7M734.5 254.9v2.7m0 122v2.7m0 15.5v2.7m0 28.6v2.7m0 23.3v2.7m0 2.4v2.7m0 46.7v2.7"/>
<path stroke="#f00" stroke-opacity="0.38" stroke-width="2.4" fill="none" d="M431 88.5v2.7m0 54.5v2.7m0 2.4v2.7m0 7.8v2.7m0 2.5v2.7m0 38.9v2.7m0 135v2.7m0 5.1v2.7m0 187.1v2.7m0 5.1v2.7M481 83.2v2.7m0 64.9v2.7m0 20.8v2.7m0 114.2v2.7m0 2.5v2.7m0 41.5v2.7m0 18.1v5.4m0 2.4v2.7m0 57.2v2.7m0 18v2.7M584 249.7v2.7m0 18v2.7m0 18.1v2.7m0 111.7v2.7m0 2.5v2.7m0 38.9v2.7m0 5.1v2.7m0 12.9v2.7m0 12.9v5.4m0 49.3v2.7M726 127.5v5.3m0 46.7v2.7m0 38.9v2.7m0 5.1v2.7m0 5.1v2.7m0 20.6v2.7m0 33.7v5.3m0 31.2v7.9m0 31v2.7m0 83.1v2.7m0 72.8v2.7"/>
<path stroke="#f00" stroke-opacity="0.44" stroke-width="1.5" fill="none" d="M744.5 390.1v2.7m0 23.3v2.7m0 44v2.7m0 31.1v2.7m0 33.8v2.7m0 5.1v2.7"/>
<path stroke="#f00" stroke-opacity="0.44" stroke-width="2.1" fill="none" d="M680 280.9v2.7m0 127.2v2.7M704 83.2v2.7M754 223.7v2.7m0 283.2v2.7"/>
<path stroke="#f00" stroke-opacity="0.44" stroke-width="2.2" fill="none" d="M576.5 124.9v2.7m0 70.1v2.7m0 7.7v2.7m0 202.6v5.4m0 80.4v2.7m0 26v2.7m0 7.6v2.7m0 5.2v2.7M734.5 384.8v2.7m0 18.1v2.7m0 7.8v2.7m0 25.8v2.7m0 2.5v2.7m0 67.6v2.7"/>
<path stroke="#f00" stroke-opacity="0.44" stroke-width="2.4" fill="none" d="M431 135.2v2.7m0 51.9v2.7m0 36.4v2.7m0 98.6v2.7m0 77.9v2.7m0 2.6v2.7m0 2.4v2.7m0 28.5v2.7m0 13v2.7m0 5v2.7m0 18.1v2.7m0 33.8v2.7M481 98.9v2.7m0 5.1v2.7m0 31.1v2.7m0 96v2.7m0 2.6v2.7m0 2.5v2.7m0 20.6v2.7m0 124.7v2.7m0 33.7v2.7m0 18.1v2.7m0 10.3v2.7m0 15.5v2.7M584 275.6v2.7m0 2.6v5.2m0 7.8v5.2m0 5.1v5.4m0 168.8v2.7m0 7.7v2.7m0 41.6v2.7M726 114.5v2.7m0 15.5v2.7m0 46.7v2.7m0 122.1v2.7m0 80.5v2.7m0 25.8v2.7m0 31.1v2.7m0 28.5v2.7m0 41.6v2.7"/>
<path stroke="#f00" stroke-opacity="0.49" stroke-width="1.5" fill="none" d="M744.5 400.4v2.7m0 36.3v2.7m0 36.3v2.7m0 49.3v2.7"/>
<path stroke="#f00" stroke-opacity="0.49" stroke-width="2.1" fill="none" d="M704 150.8v2.7m0 28.6v2.7M754 187.3v2.7m0 12.8v2.7m0 7.7v2.7"/>
<path stroke="#f00" stroke-opacity="0.49" stroke-width="2.2" fill="none" d="M576.5 119.7v2.7m0 54.4v2.7m0 44.2v2.7m0 168.8v2.7m0 20.7v2.7m0 88.3v2.7m0 28.6v2.7M734.5 111.9v5.3m0 272.9v2.7m0 2.4v2.7m0 83.2v2.7m0 67.4v2.7"/>
<path stroke="#f00" stroke-opacity="0.49" stroke-width="2.4" fill="none" d="M431 403.1v2.7m0 7.6v2.7m0 13v2.7m0 2.4v2.7m0 10.3v2.7m0 38.9v2.7m0 12.9v2.7m0 7.8v2.7M481 91.1v2.7m0 10.3v2.7m0 18.1v2.7m0 15.5v2.7m0 12.9v2.7m0 2.4v8m0 7.7v2.7m0 72.7v2.7m0 127.2v2.7m0 15.6v5.2m0 12.9v2.7m0 28.5v2.7m0 52v2.7m0 46.6v.6M584 301.6v2.7m0 111.8v2.7m0 28.4v2.7m0 7.7v2.7m0 41.5v2.7m0 15.6v2.7m0 18.1v2.7M726 119.7v2.7m0 33.7v2.7m0 10.3v2.7m0 25.9v2.7m0 163.7v2.7m0 12.8v2.7m0 31.1v2.7m0 13v2.7m0 77.8v2.7m0 12.9v2.7"/>
<path stroke="#f00" stroke-opacity="0.55" stroke-width="1.5" fill="none" d="M744.5 494.1v2.7"/>
<path stroke="#f00" stroke-opacity="0.55" stroke-width="2.1" fill="none" d="M754 98.9v2.7m0 90.9v2.7"/>
<path stroke="#f00" stroke-opacity="0.55" stroke-width="2.2" fill="none" d="M576.5 161.3v2.7m0 18.1v2.7m0 15.5v2.7m0 31.1v2.7m0 200v2.7m0 12.9v2.7m0 13v2.7m0 2.4v2.7m0 67.5v2.7M734.5 457.6v2.7"/>
<path stroke="#f00" stroke-opacity="0.55" stroke-width="2.4" fill="none" d="M431 358.8v2.7m0 64.9v2.7m0 13v2.7m0 18v2.7m0 12.9v2.7m0 49.3v2.7m0 7.8v2.7M481 119.7v2.7m0 38.9v2.7m0 12.8v2.7m0 13v2.7m0 31v2.7m0 150.7v2.7m0 49.3v2.7m0 44.1v2.7m0 28.5v2.7m0 2.6v2.7M584 413.4v2.7m0 93.5v2.7m0 15.6v2.7M726 111.9v2.7m0 31.1v2.7m0 2.4v2.7m0 49.3v2.7m0 220.9v2.7m0 15.5v5.3m0 12.9v2.7m0 46.7v2.7m0 26v2.7"/>
<path stroke="#f00" stroke-opacity="0.60" stroke-width="1.5" fill="none" d="M744.5 483.6v2.7"/>
<path stroke="#f00" stroke-opacity="0.60" stroke-width="2.2" fill="none" d="M576.5 166.5v2.7m0 236.4v2.7m0 18.1v2.7m0 5.1v2.7M734.5 423.8v2.7"/>
<path stroke="#f00" stroke-opacity="0.60" stroke-width="2.4" fill="none" d="M431 405.6v2.7m0 10.3v2.7m0 15.5v2.7m0 46.7v2.7M481 148.3v2.7m0 20.7v2.7m0 38.8v2.7m0 18.2v2.7m0 205.3v2.7m0 28.4v2.7m0 28.5v2.7m0 13v2.7m0 2.4v2.7m0 7.7v2.7m0 15.6v2.7M584 434.2v2.7m0 25.9v2.7m0 33.7v2.7M726 122.2v2.7m0 348.3v2.7m0 39v2.7"/>
<path stroke="#f00" stroke-opacity="0.66" stroke-width="2.2" fill="none" d="M576.5 522.6v2.7"/>
<path stroke="#f00" stroke-opacity="0.66" stroke-width="2.4" fill="none" d="M431 395.2v2.7M481 410.8v2.7m0 5.1v2.7M584 265.2v2.7m0 18.1v2.7M726 135.2v2.7m0 262.5v2.7m0 13v2.7m0 2.4v2.7m0 7.7v2.7m0 2.5v2.7m0 46.7v2.7"/>
<path stroke="#f00" stroke-opacity="0.71" stroke-width="2.2" fill="none" d="M734.5 421.2v2.7"/>
<path stroke="#f00" stroke-opacity="0.71" stroke-width="2.4" fill="none" d="M481 218.5v2.7m0 226v2.7m0 18.2v2.7M726 410.8v2.7"/>
<path stroke="#f00" stroke-opacity="0.77" stroke-width="2.2" fill="none" d="M734.5 447.2v2.7"/>
<path stroke="#f00" stroke-opacity="0.77" stroke-width="2.4" fill="none" d="M481 546.1v2.7"/>
<path stroke="#f00" stroke-opacity="0.82" stroke-width="2.4" fill="none" d="M481 145.7v2.7m0 46.7v2.7M726 109.2v2.7m0 296.3v2.7"/>
<path stroke="#f00" stroke-opacity="0.88" stroke-width="2.4" fill="none" d="M431 400.4v2.7"/>
</g>
<g filter="url(#tb)">
<rect x="462.0" y="357.9" width="2.0" height="6.4" fill="#f00" fill-opacity="0.39"/>
<rect x="464.0" y="357.8" width="2.0" height="6.9" fill="#f00" fill-opacity="0.58"/>
<rect x="466.0" y="357.7" width="2.0" height="7.3" fill="#f00" fill-opacity="0.59"/>
<rect x="468.0" y="357.7" width="2.0" height="7.6" fill="#f00" fill-opacity="0.63"/>
<rect x="470.0" y="357.6" width="2.0" height="7.9" fill="#f00" fill-opacity="0.48"/>
<rect x="472.0" y="357.5" width="2.0" height="8.2" fill="#f00" fill-opacity="0.62"/>
<rect x="474.0" y="357.3" width="2.0" height="8.3" fill="#f00" fill-opacity="0.58"/>
<rect x="476.0" y="357.1" width="2.0" height="8.4" fill="#f00" fill-opacity="0.52"/>
<rect x="478.0" y="356.9" width="2.0" height="8.6" fill="#f00" fill-opacity="0.57"/>
<rect x="480.0" y="356.7" width="2.0" height="8.4" fill="#f00" fill-opacity="0.86"/>
<rect x="482.0" y="356.6" width="2.0" height="8.3" fill="#f00" fill-opacity="0.63"/>
<rect x="484.0" y="356.2" width="2.0" height="8.4" fill="#f00" fill-opacity="0.80"/>
<rect x="486.0" y="355.8" width="2.0" height="8.0" fill="#f00" fill-opacity="0.59"/>
<rect x="488.0" y="355.4" width="2.0" height="7.8" fill="#f00" fill-opacity="0.67"/>
<rect x="490.0" y="354.7" width="2.0" height="7.6" fill="#f00" fill-opacity="0.57"/>
<rect x="492.0" y="354.1" width="2.0" height="7.3" fill="#f00" fill-opacity="0.49"/>
<rect x="494.0" y="353.4" width="2.0" height="7.2" fill="#f00" fill-opacity="0.34"/>
<rect x="496.0" y="352.7" width="2.0" height="7.2" fill="#f00" fill-opacity="0.42"/>
<rect x="498.0" y="351.9" width="2.0" height="7.2" fill="#f00" fill-opacity="0.37"/>
<rect x="500.0" y="351.1" width="2.0" height="7.2" fill="#f00" fill-opacity="0.59"/>
<rect x="502.0" y="350.4" width="2.0" height="7.1" fill="#f00" fill-opacity="0.52"/>
<rect x="504.0" y="349.6" width="2.0" height="7.1" fill="#f00" fill-opacity="0.47"/>
<rect x="506.0" y="348.9" width="2.0" height="7.1" fill="#f00" fill-opacity="0.46"/>
<rect x="508.0" y="348.1" width="2.0" height="7.3" fill="#f00" fill-opacity="0.56"/>
<rect x="510.0" y="347.0" width="2.0" height="7.4" fill="#f00" fill-opacity="0.62"/>
<rect x="512.0" y="346.1" width="2.0" height="7.4" fill="#f00" fill-opacity="0.74"/>
<rect x="514.0" y="345.1" width="2.0" height="7.4" fill="#f00" fill-opacity="0.49"/>
<rect x="516.0" y="343.9" width="2.0" height="7.6" fill="#f00" fill-opacity="0.67"/>
<rect x="518.0" y="342.8" width="2.0" height="7.6" fill="#f00" fill-opacity="0.62"/>
<rect x="520.0" y="341.6" width="2.0" height="7.7" fill="#f00" fill-opacity="0.80"/>
<rect x="522.0" y="340.4" width="2.0" height="7.9" fill="#f00" fill-opacity="0.79"/>
<rect x="524.0" y="338.8" width="2.0" height="8.0" fill="#f00" fill-opacity="0.54"/>
<rect x="526.0" y="337.4" width="2.0" height="8.0" fill="#f00" fill-opacity="0.69"/>
<rect x="528.0" y="335.9" width="2.0" height="8.2" fill="#f00" fill-opacity="0.52"/>
<rect x="530.0" y="334.1" width="2.0" height="8.3" fill="#f00" fill-opacity="0.61"/>
<rect x="532.0" y="332.4" width="2.0" height="8.3" fill="#f00" fill-opacity="0.51"/>
<rect x="534.0" y="330.5" width="2.0" height="8.6" fill="#f00" fill-opacity="0.86"/>
<rect x="536.0" y="328.1" width="2.0" height="8.8" fill="#f00" fill-opacity="0.61"/>
<rect x="538.0" y="325.8" width="2.0" height="8.8" fill="#f00" fill-opacity="0.74"/>
<rect x="540.0" y="323.0" width="2.0" height="9.1" fill="#f00" fill-opacity="0.94"/>
<rect x="542.0" y="320.3" width="2.0" height="9.0" fill="#f00" fill-opacity="0.77"/>
<rect x="544.0" y="317.4" width="2.0" height="9.1" fill="#f00" fill-opacity="0.54"/>
<rect x="546.0" y="314.0" width="2.0" height="9.0" fill="#f00" fill-opacity="0.59"/>
<rect x="548.0" y="311.6" width="2.0" height="6.8" fill="#f00" fill-opacity="0.80"/>
<rect x="466.0" y="332.7" width="2.0" height="11.7" fill="#f00" fill-opacity="0.21"/>
<rect x="468.0" y="333.2" width="2.0" height="12.7" fill="#f00" fill-opacity="0.21"/>
<rect x="470.0" y="334.3" width="2.0" height="11.0" fill="#f00" fill-opacity="0.18"/>
<rect x="475.0" y="338.5" width="2.0" height="14.7" fill="#f00" fill-opacity="0.33"/>
<rect x="477.0" y="339.3" width="2.0" height="16.3" fill="#f00" fill-opacity="0.47"/>
<rect x="479.0" y="340.8" width="2.0" height="15.3" fill="#f00" fill-opacity="0.33"/>
<rect x="481.0" y="342.7" width="2.0" height="14.0" fill="#f00" fill-opacity="0.47"/>
<rect x="483.0" y="345.2" width="2.0" height="11.7" fill="#f00" fill-opacity="0.25"/>
<rect x="485.0" y="349.5" width="2.0" height="7.0" fill="#f00" fill-opacity="0.22"/>
<rect x="330.0" y="469.8" width="2.0" height="5.7" fill="#f00" fill-opacity="0.05"/>
<rect x="332.0" y="469.2" width="2.0" height="5.7" fill="#f00" fill-opacity="0.09"/>
<rect x="334.0" y="468.5" width="2.0" height="5.7" fill="#f00" fill-opacity="0.09"/>
<rect x="336.0" y="467.8" width="2.0" height="5.7" fill="#f00" fill-opacity="0.08"/>
<rect x="338.0" y="467.2" width="2.0" height="5.7" fill="#f00" fill-opacity="0.10"/>
<rect x="340.0" y="466.5" width="2.0" height="5.7" fill="#f00" fill-opacity="0.08"/>
<rect x="342.0" y="465.8" width="2.0" height="5.7" fill="#f00" fill-opacity="0.07"/>
<rect x="344.0" y="465.1" width="2.0" height="5.7" fill="#f00" fill-opacity="0.10"/>
<rect x="346.0" y="464.3" width="2.0" height="5.8" fill="#f00" fill-opacity="0.09"/>
<rect x="348.0" y="463.5" width="2.0" height="5.8" fill="#f00" fill-opacity="0.12"/>
<rect x="350.0" y="462.7" width="2.0" height="5.8" fill="#f00" fill-opacity="0.10"/>
<rect x="352.0" y="461.9" width="2.0" height="5.8" fill="#f00" fill-opacity="0.08"/>
<rect x="354.0" y="461.1" width="2.0" height="5.8" fill="#f00" fill-opacity="0.11"/>
<rect x="356.0" y="460.3" width="2.0" height="5.8" fill="#f00" fill-opacity="0.11"/>
<rect x="358.0" y="459.5" width="2.0" height="5.8" fill="#f00" fill-opacity="0.12"/>
<rect x="360.0" y="458.6" width="2.0" height="5.9" fill="#f00" fill-opacity="0.08"/>
<rect x="362.0" y="457.8" width="2.0" height="6.0" fill="#f00" fill-opacity="0.15"/>
<rect x="364.0" y="456.9" width="2.0" height="6.1" fill="#f00" fill-opacity="0.11"/>
<rect x="366.0" y="456.0" width="2.0" height="6.2" fill="#f00" fill-opacity="0.18"/>
<rect x="368.0" y="455.1" width="2.0" height="6.3" fill="#f00" fill-opacity="0.10"/>
<rect x="370.0" y="454.2" width="2.0" height="6.4" fill="#f00" fill-opacity="0.14"/>
<rect x="372.0" y="453.2" width="2.0" height="6.6" fill="#f00" fill-opacity="0.13"/>
<rect x="374.0" y="452.1" width="2.0" height="6.7" fill="#f00" fill-opacity="0.13"/>
<rect x="376.0" y="451.1" width="2.0" height="6.8" fill="#f00" fill-opacity="0.24"/>
<rect x="378.0" y="450.1" width="2.0" height="6.8" fill="#f00" fill-opacity="0.16"/>
<rect x="380.0" y="449.1" width="2.0" height="6.9" fill="#f00" fill-opacity="0.17"/>
<rect x="382.0" y="448.0" width="2.0" height="7.0" fill="#f00" fill-opacity="0.25"/>
<rect x="384.0" y="446.5" width="2.0" height="7.5" fill="#f00" fill-opacity="0.23"/>
<rect x="386.0" y="445.0" width="2.0" height="7.5" fill="#f00" fill-opacity="0.21"/>
<rect x="388.0" y="443.5" width="2.0" height="7.5" fill="#f00" fill-opacity="0.26"/>
<rect x="390.0" y="442.0" width="2.0" height="7.5" fill="#f00" fill-opacity="0.27"/>
<rect x="392.0" y="439.7" width="2.0" height="8.3" fill="#f00" fill-opacity="0.21"/>
<rect x="394.0" y="437.3" width="2.0" height="8.3" fill="#f00" fill-opacity="0.29"/>
<rect x="396.0" y="435.0" width="2.0" height="8.3" fill="#f00" fill-opacity="0.19"/>
<rect x="398.0" y="431.8" width="2.0" height="9.2" fill="#f00" fill-opacity="0.19"/>
<rect x="400.0" y="428.6" width="2.0" height="9.2" fill="#f00" fill-opacity="0.22"/>
<rect x="402.0" y="425.2" width="2.0" height="9.6" fill="#f00" fill-opacity="0.20"/>
<rect x="404.0" y="421.2" width="2.0" height="9.5" fill="#f00" fill-opacity="0.23"/>
<rect x="406.0" y="417.2" width="2.0" height="9.7" fill="#f00" fill-opacity="0.38"/>
<rect x="408.0" y="411.8" width="2.0" height="9.7" fill="#f00" fill-opacity="0.30"/>
<rect x="575.5" y="170.0" width="2.0" height="2.4" fill="#f00" fill-opacity="0.07"/>
<rect x="575.2" y="172.0" width="2.0" height="2.4" fill="#f00" fill-opacity="0.06"/>
<rect x="574.9" y="174.0" width="2.0" height="2.4" fill="#f00" fill-opacity="0.08"/>
<rect x="574.6" y="176.0" width="2.0" height="2.4" fill="#f00" fill-opacity="0.06"/>
<rect x="574.2" y="178.0" width="2.0" height="2.4" fill="#f00" fill-opacity="0.08"/>
<rect x="573.9" y="180.0" width="2.0" height="2.4" fill="#f00" fill-opacity="0.07"/>
<rect x="573.6" y="182.0" width="2.0" height="2.4" fill="#f00" fill-opacity="0.09"/>
<rect x="573.3" y="184.0" width="2.0" height="2.4" fill="#f00" fill-opacity="0.11"/>
<rect x="573.0" y="186.0" width="2.0" height="2.4" fill="#f00" fill-opacity="0.11"/>
<rect x="572.8" y="188.0" width="2.0" height="2.4" fill="#f00" fill-opacity="0.08"/>
<rect x="572.7" y="190.0" width="2.0" height="2.4" fill="#f00" fill-opacity="0.08"/>
<rect x="572.5" y="192.0" width="2.0" height="2.4" fill="#f00" fill-opacity="0.14"/>
<rect x="572.3" y="194.0" width="2.0" height="2.4" fill="#f00" fill-opacity="0.11"/>
<rect x="572.2" y="196.0" width="2.0" height="2.4" fill="#f00" fill-opacity="0.10"/>
<rect x="572.0" y="198.0" width="2.0" height="2.4" fill="#f00" fill-opacity="0.09"/>
<rect x="571.8" y="200.0" width="2.0" height="2.4" fill="#f00" fill-opacity="0.14"/>
<rect x="571.7" y="202.0" width="2.0" height="2.4" fill="#f00" fill-opacity="0.16"/>
<rect x="571.5" y="204.0" width="2.0" height="2.4" fill="#f00" fill-opacity="0.17"/>
<rect x="571.3" y="206.0" width="2.0" height="2.4" fill="#f00" fill-opacity="0.13"/>
<rect x="571.2" y="208.0" width="2.0" height="2.4" fill="#f00" fill-opacity="0.14"/>
<rect x="571.0" y="210.0" width="2.0" height="2.4" fill="#f00" fill-opacity="0.15"/>
<rect x="570.8" y="212.0" width="2.0" height="2.4" fill="#f00" fill-opacity="0.14"/>
<rect x="570.6" y="214.0" width="2.0" height="2.4" fill="#f00" fill-opacity="0.20"/>
<rect x="570.5" y="216.0" width="2.1" height="2.4" fill="#f00" fill-opacity="0.14"/>
<rect x="570.3" y="218.0" width="2.1" height="2.4" fill="#f00" fill-opacity="0.20"/>
<rect x="570.1" y="220.0" width="2.1" height="2.4" fill="#f00" fill-opacity="0.15"/>
<rect x="569.9" y="222.0" width="2.1" height="2.4" fill="#f00" fill-opacity="0.16"/>
<rect x="569.7" y="224.0" width="2.1" height="2.4" fill="#f00" fill-opacity="0.14"/>
<rect x="569.5" y="226.0" width="2.1" height="2.4" fill="#f00" fill-opacity="0.22"/>
<rect x="569.4" y="228.0" width="2.2" height="2.4" fill="#f00" fill-opacity="0.24"/>
<rect x="569.2" y="230.0" width="2.2" height="2.4" fill="#f00" fill-opacity="0.24"/>
<rect x="569.0" y="232.0" width="2.2" height="2.4" fill="#f00" fill-opacity="0.16"/>
<rect x="568.7" y="234.0" width="2.2" height="2.4" fill="#f00" fill-opacity="0.22"/>
<rect x="568.4" y="236.0" width="2.2" height="2.4" fill="#f00" fill-opacity="0.18"/>
<rect x="568.1" y="238.0" width="2.3" height="2.4" fill="#f00" fill-opacity="0.27"/>
<rect x="567.8" y="240.0" width="2.3" height="2.4" fill="#f00" fill-opacity="0.24"/>
<rect x="567.4" y="242.0" width="2.3" height="2.4" fill="#f00" fill-opacity="0.27"/>
<rect x="567.1" y="244.0" width="2.3" height="2.4" fill="#f00" fill-opacity="0.27"/>
<rect x="566.8" y="246.0" width="2.3" height="2.4" fill="#f00" fill-opacity="0.26"/>
<rect x="566.5" y="248.0" width="2.4" height="2.4" fill="#f00" fill-opacity="0.25"/>
<rect x="566.1" y="250.0" width="2.4" height="2.4" fill="#f00" fill-opacity="0.25"/>
<rect x="565.8" y="252.0" width="2.4" height="2.4" fill="#f00" fill-opacity="0.24"/>
<rect x="565.4" y="254.0" width="2.4" height="2.4" fill="#f00" fill-opacity="0.39"/>
<rect x="565.1" y="256.0" width="2.5" height="2.4" fill="#f00" fill-opacity="0.29"/>
<rect x="564.7" y="258.0" width="2.5" height="2.4" fill="#f00" fill-opacity="0.29"/>
<rect x="564.4" y="260.0" width="2.6" height="2.4" fill="#f00" fill-opacity="0.37"/>
<rect x="564.0" y="262.0" width="2.6" height="2.4" fill="#f00" fill-opacity="0.44"/>
<rect x="563.7" y="264.0" width="2.7" height="2.4" fill="#f00" fill-opacity="0.50"/>
<rect x="563.3" y="266.0" width="2.7" height="2.4" fill="#f00" fill-opacity="0.37"/>
<rect x="563.0" y="268.0" width="2.8" height="2.4" fill="#f00" fill-opacity="0.38"/>
<rect x="562.6" y="270.0" width="2.8" height="2.4" fill="#f00" fill-opacity="0.47"/>
<rect x="562.1" y="272.0" width="2.9" height="2.4" fill="#f00" fill-opacity="0.47"/>
<rect x="561.6" y="274.0" width="2.9" height="2.4" fill="#f00" fill-opacity="0.65"/>
<rect x="561.1" y="276.0" width="3.0" height="2.4" fill="#f00" fill-opacity="0.46"/>
<rect x="560.6" y="278.0" width="3.0" height="2.4" fill="#f00" fill-opacity="0.52"/>
<rect x="560.1" y="280.0" width="3.1" height="2.4" fill="#f00" fill-opacity="0.53"/>
<rect x="559.6" y="282.0" width="3.2" height="2.4" fill="#f00" fill-opacity="0.51"/>
<rect x="559.0" y="284.0" width="3.3" height="2.4" fill="#f00" fill-opacity="0.65"/>
<rect x="558.3" y="286.0" width="3.4" height="2.4" fill="#f00" fill-opacity="0.61"/>
<rect x="557.6" y="288.0" width="3.5" height="2.4" fill="#f00" fill-opacity="0.46"/>
<rect x="556.9" y="290.0" width="3.6" height="2.4" fill="#f00" fill-opacity="0.61"/>
<rect x="556.1" y="292.0" width="3.8" height="2.4" fill="#f00" fill-opacity="0.53"/>
<rect x="555.4" y="294.0" width="3.9" height="2.4" fill="#f00" fill-opacity="0.77"/>
<rect x="554.7" y="296.0" width="4.0" height="2.4" fill="#f00" fill-opacity="0.57"/>
<rect x="553.9" y="298.0" width="4.1" height="2.4" fill="#f00" fill-opacity="0.71"/>
<rect x="553.0" y="300.0" width="4.3" height="2.4" fill="#f00" fill-opacity="0.81"/>
<rect x="552.2" y="302.0" width="4.4" height="2.4" fill="#f00" fill-opacity="0.77"/>
<rect x="551.4" y="304.0" width="4.5" height="2.4" fill="#f00" fill-opacity="0.58"/>
<rect x="550.6" y="306.0" width="4.7" height="2.4" fill="#f00" fill-opacity="0.57"/>
<rect x="549.7" y="308.0" width="4.8" height="2.4" fill="#f00" fill-opacity="0.84"/>
<rect x="548.9" y="310.0" width="4.9" height="2.4" fill="#f00" fill-opacity="0.92"/>
<rect x="547.9" y="312.0" width="5.1" height="2.4" fill="#f00" fill-opacity="0.96"/>
<rect x="546.7" y="314.0" width="5.3" height="2.4" fill="#f00" fill-opacity="0.98"/>
<rect x="545.4" y="316.0" width="5.6" height="2.4" fill="#f00" fill-opacity="0.82"/>
<rect x="544.2" y="318.0" width="5.8" height="2.4" fill="#f00" fill-opacity="0.61"/>
<rect x="434.0" y="384.0" width="2.0" height="2.4" fill="#f00" fill-opacity="0.17"/>
<rect x="433.7" y="386.0" width="2.1" height="2.4" fill="#f00" fill-opacity="0.29"/>
<rect x="433.4" y="388.0" width="2.2" height="2.4" fill="#f00" fill-opacity="0.28"/>
<rect x="433.1" y="390.0" width="2.3" height="2.4" fill="#f00" fill-opacity="0.48"/>
<rect x="432.8" y="392.0" width="2.4" height="2.4" fill="#f00" fill-opacity="0.40"/>
<rect x="432.5" y="394.0" width="2.5" height="2.4" fill="#f00" fill-opacity="0.31"/>
<rect x="432.2" y="396.0" width="2.5" height="2.4" fill="#f00" fill-opacity="0.33"/>
<rect x="431.9" y="398.0" width="2.6" height="2.4" fill="#f00" fill-opacity="0.49"/>
<rect x="431.6" y="400.0" width="2.6" height="2.4" fill="#f00" fill-opacity="0.40"/>
<rect x="431.3" y="402.0" width="2.7" height="2.4" fill="#f00" fill-opacity="0.36"/>
<rect x="431.0" y="404.0" width="2.8" height="2.4" fill="#f00" fill-opacity="0.66"/>
<rect x="430.8" y="406.0" width="2.8" height="2.4" fill="#f00" fill-opacity="0.38"/>
<rect x="430.6" y="408.0" width="2.8" height="2.4" fill="#f00" fill-opacity="0.51"/>
<rect x="430.4" y="410.0" width="2.7" height="2.4" fill="#f00" fill-opacity="0.59"/>
<rect x="430.3" y="412.0" width="2.7" height="2.4" fill="#f00" fill-opacity="0.57"/>
<rect x="430.1" y="414.0" width="2.7" height="2.4" fill="#f00" fill-opacity="0.39"/>
<rect x="429.9" y="416.0" width="2.6" height="2.4" fill="#f00" fill-opacity="0.51"/>
<rect x="429.7" y="418.0" width="2.6" height="2.4" fill="#f00" fill-opacity="0.49"/>
<rect x="429.6" y="420.0" width="2.5" height="2.4" fill="#f00" fill-opacity="0.54"/>
<rect x="429.6" y="422.0" width="2.5" height="2.4" fill="#f00" fill-opacity="0.43"/>
<rect x="429.5" y="424.0" width="2.4" height="2.4" fill="#f00" fill-opacity="0.51"/>
<rect x="429.4" y="426.0" width="2.4" height="2.4" fill="#f00" fill-opacity="0.24"/>
<rect x="429.3" y="428.0" width="2.3" height="2.4" fill="#f00" fill-opacity="0.26"/>
<rect x="429.3" y="430.0" width="2.3" height="2.4" fill="#f00" fill-opacity="0.22"/>
<rect x="587.5" y="150.0" width="2.0" height="2.4" fill="#f00" fill-opacity="0.09"/>
<rect x="587.4" y="152.0" width="2.0" height="2.4" fill="#f00" fill-opacity="0.09"/>
<rect x="587.3" y="154.0" width="2.0" height="2.4" fill="#f00" fill-opacity="0.09"/>
<rect x="587.2" y="156.0" width="2.0" height="2.4" fill="#f00" fill-opacity="0.14"/>
<rect x="587.1" y="158.0" width="2.0" height="2.4" fill="#f00" fill-opacity="0.12"/>
<rect x="587.0" y="160.0" width="2.0" height="2.4" fill="#f00" fill-opacity="0.11"/>
<rect x="586.9" y="162.0" width="2.0" height="2.4" fill="#f00" fill-opacity="0.16"/>
<rect x="586.8" y="164.0" width="2.0" height="2.4" fill="#f00" fill-opacity="0.19"/>
<rect x="586.7" y="166.0" width="2.0" height="2.4" fill="#f00" fill-opacity="0.14"/>
<rect x="586.6" y="168.0" width="2.0" height="2.4" fill="#f00" fill-opacity="0.24"/>
<rect x="586.5" y="170.0" width="2.0" height="2.4" fill="#f00" fill-opacity="0.19"/>
<rect x="586.3" y="172.0" width="2.0" height="2.4" fill="#f00" fill-opacity="0.22"/>
<rect x="586.2" y="174.0" width="2.1" height="2.4" fill="#f00" fill-opacity="0.30"/>
<rect x="586.0" y="176.0" width="2.1" height="2.4" fill="#f00" fill-opacity="0.23"/>
<rect x="585.8" y="178.0" width="2.1" height="2.4" fill="#f00" fill-opacity="0.28"/>
<rect x="585.6" y="180.0" width="2.2" height="2.4" fill="#f00" fill-opacity="0.27"/>
<rect x="585.5" y="182.0" width="2.2" height="2.4" fill="#f00" fill-opacity="0.36"/>
<rect x="585.3" y="184.0" width="2.3" height="2.4" fill="#f00" fill-opacity="0.32"/>
<rect x="585.1" y="186.0" width="2.3" height="2.4" fill="#f00" fill-opacity="0.43"/>
<rect x="584.9" y="188.0" width="2.3" height="2.4" fill="#f00" fill-opacity="0.43"/>
<rect x="584.8" y="190.0" width="2.4" height="2.4" fill="#f00" fill-opacity="0.40"/>
<rect x="584.6" y="192.0" width="2.4" height="2.4" fill="#f00" fill-opacity="0.49"/>
<rect x="584.4" y="194.0" width="2.4" height="2.4" fill="#f00" fill-opacity="0.47"/>
<rect x="584.2" y="196.0" width="2.5" height="2.4" fill="#f00" fill-opacity="0.57"/>
<rect x="584.0" y="198.0" width="2.5" height="2.4" fill="#f00" fill-opacity="0.50"/>
<rect x="583.8" y="200.0" width="2.5" height="2.4" fill="#f00" fill-opacity="0.36"/>
<rect x="583.6" y="202.0" width="2.5" height="2.4" fill="#f00" fill-opacity="0.57"/>
<rect x="583.4" y="204.0" width="2.6" height="2.4" fill="#f00" fill-opacity="0.67"/>
<rect x="583.2" y="206.0" width="2.6" height="2.4" fill="#f00" fill-opacity="0.50"/>
<rect x="583.0" y="208.0" width="2.6" height="2.4" fill="#f00" fill-opacity="0.54"/>
<rect x="582.7" y="210.0" width="2.6" height="2.4" fill="#f00" fill-opacity="0.41"/>
<rect x="582.5" y="212.0" width="2.7" height="2.4" fill="#f00" fill-opacity="0.75"/>
<rect x="582.3" y="214.0" width="2.7" height="2.4" fill="#f00" fill-opacity="0.42"/>
<rect x="582.0" y="216.0" width="2.7" height="2.4" fill="#f00" fill-opacity="0.78"/>
<rect x="581.8" y="218.0" width="2.7" height="2.4" fill="#f00" fill-opacity="0.64"/>
<rect x="581.6" y="220.0" width="2.7" height="2.4" fill="#f00" fill-opacity="0.48"/>
<rect x="581.4" y="222.0" width="2.8" height="2.4" fill="#f00" fill-opacity="0.46"/>
<rect x="581.1" y="224.0" width="2.8" height="2.4" fill="#f00" fill-opacity="0.71"/>
<rect x="580.8" y="226.0" width="2.8" height="2.4" fill="#f00" fill-opacity="0.69"/>
<rect x="580.5" y="228.0" width="2.8" height="2.4" fill="#f00" fill-opacity="0.71"/>
<rect x="580.1" y="230.0" width="2.8" height="2.4" fill="#f00" fill-opacity="0.65"/>
<rect x="579.7" y="232.0" width="2.8" height="2.4" fill="#f00" fill-opacity="0.57"/>
<rect x="579.4" y="234.0" width="2.8" height="2.4" fill="#f00" fill-opacity="0.53"/>
<rect x="579.0" y="236.0" width="2.8" height="2.4" fill="#f00" fill-opacity="0.55"/>
<rect x="578.6" y="238.0" width="2.8" height="2.4" fill="#f00" fill-opacity="0.63"/>
<rect x="578.3" y="240.0" width="2.8" height="2.4" fill="#f00" fill-opacity="0.53"/>
<rect x="577.9" y="242.0" width="2.8" height="2.4" fill="#f00" fill-opacity="0.72"/>
<rect x="577.4" y="244.0" width="2.8" height="2.4" fill="#f00" fill-opacity="0.60"/>
<rect x="577.0" y="246.0" width="2.8" height="2.4" fill="#f00" fill-opacity="0.74"/>
<rect x="576.5" y="248.0" width="2.8" height="2.4" fill="#f00" fill-opacity="0.43"/>
<rect x="576.1" y="250.0" width="2.8" height="2.4" fill="#f00" fill-opacity="0.48"/>
<rect x="575.6" y="252.0" width="2.8" height="2.4" fill="#f00" fill-opacity="0.65"/>
<rect x="575.2" y="254.0" width="2.8" height="2.4" fill="#f00" fill-opacity="0.57"/>
<rect x="574.7" y="256.0" width="2.8" height="2.4" fill="#f00" fill-opacity="0.59"/>
<rect x="574.3" y="258.0" width="2.8" height="2.4" fill="#f00" fill-opacity="0.58"/>
<rect x="573.8" y="260.0" width="2.8" height="2.4" fill="#f00" fill-opacity="0.45"/>
<rect x="573.4" y="262.0" width="2.8" height="2.4" fill="#f00" fill-opacity="0.51"/>
<rect x="572.9" y="264.0" width="2.8" height="2.4" fill="#f00" fill-opacity="0.58"/>
<rect x="572.5" y="266.0" width="2.8" height="2.4" fill="#f00" fill-opacity="0.38"/>
<rect x="572.0" y="268.0" width="2.8" height="2.4" fill="#f00" fill-opacity="0.44"/>
<rect x="571.6" y="270.0" width="2.8" height="2.4" fill="#f00" fill-opacity="0.40"/>
<rect x="571.1" y="272.0" width="2.8" height="2.4" fill="#f00" fill-opacity="0.39"/>
<rect x="570.6" y="274.0" width="2.9" height="2.4" fill="#f00" fill-opacity="0.48"/>
<rect x="570.2" y="276.0" width="2.9" height="2.4" fill="#f00" fill-opacity="0.58"/>
<rect x="569.7" y="278.0" width="2.9" height="2.4" fill="#f00" fill-opacity="0.53"/>
<rect x="569.2" y="280.0" width="3.0" height="2.4" fill="#f00" fill-opacity="0.33"/>
<rect x="568.7" y="282.0" width="3.0" height="2.4" fill="#f00" fill-opacity="0.49"/>
<rect x="568.0" y="284.0" width="3.0" height="2.4" fill="#f00" fill-opacity="0.35"/>
<rect x="567.1" y="286.0" width="3.1" height="2.4" fill="#f00" fill-opacity="0.57"/>
<rect x="566.1" y="288.0" width="3.2" height="2.4" fill="#f00" fill-opacity="0.35"/>
<rect x="565.2" y="290.0" width="3.2" height="2.4" fill="#f00" fill-opacity="0.36"/>
<rect x="564.2" y="292.0" width="3.3" height="2.4" fill="#f00" fill-opacity="0.44"/>
<rect x="563.3" y="294.0" width="3.3" height="2.4" fill="#f00" fill-opacity="0.48"/>
<rect x="562.3" y="296.0" width="3.4" height="2.4" fill="#f00" fill-opacity="0.56"/>
<rect x="561.3" y="298.0" width="3.5" height="2.4" fill="#f00" fill-opacity="0.35"/>
<rect x="560.4" y="300.0" width="3.5" height="2.4" fill="#f00" fill-opacity="0.43"/>
<rect x="559.4" y="302.0" width="3.6" height="2.4" fill="#f00" fill-opacity="0.45"/>
<rect x="558.5" y="304.0" width="3.6" height="2.4" fill="#f00" fill-opacity="0.41"/>
<rect x="557.5" y="306.0" width="3.7" height="2.4" fill="#f00" fill-opacity="0.40"/>
<rect x="556.5" y="308.0" width="3.7" height="2.4" fill="#f00" fill-opacity="0.53"/>
<rect x="555.6" y="310.0" width="3.8" height="2.4" fill="#f00" fill-opacity="0.54"/>
<rect x="554.6" y="312.0" width="3.8" height="2.4" fill="#f00" fill-opacity="0.44"/>
<rect x="553.6" y="314.0" width="3.9" height="2.4" fill="#f00" fill-opacity="0.55"/>
<rect x="552.5" y="316.0" width="3.9" height="2.4" fill="#f00" fill-opacity="0.34"/>
<rect x="551.5" y="318.0" width="3.9" height="2.4" fill="#f00" fill-opacity="0.35"/>
<rect x="550.5" y="320.0" width="4.0" height="2.4" fill="#f00" fill-opacity="0.60"/>
<rect x="549.3" y="322.0" width="4.0" height="2.4" fill="#f00" fill-opacity="0.35"/>
<rect x="548.0" y="324.0" width="4.0" height="2.4" fill="#f00" fill-opacity="0.46"/>
<rect x="546.7" y="326.0" width="4.0" height="2.4" fill="#f00" fill-opacity="0.51"/>
</g>
<g filter="url(#gbl)">
<rect x="463.3" y="353.2" width="5.0" height="5.5" fill="#22f400" fill-opacity="0.59"/>
<rect x="467.5" y="354.5" width="4.5" height="5.5" fill="#22f400" fill-opacity="0.75"/>
<rect x="465.0" y="357.5" width="4.0" height="2.5" fill="#22f400" fill-opacity="0.67"/>
<rect x="518.5" y="340.5" width="4.0" height="2.6" fill="#22f400" fill-opacity="0.75"/>
<rect x="524.0" y="337.0" width="2.6" height="8.0" fill="#22f400" fill-opacity="0.78"/>
<rect x="525.5" y="336.0" width="3.0" height="3.0" fill="#22f400" fill-opacity="0.67"/>
<rect x="521.0" y="338.5" width="3.0" height="2.0" fill="#22f400" fill-opacity="0.43"/>
<rect x="549.0" y="310.0" width="2.0" height="3.0" fill="#22f400" fill-opacity="0.90"/>
<rect x="551.3" y="310.0" width="2.0" height="2.6" fill="#22f400" fill-opacity="0.90"/>
<rect x="535.0" y="328.5" width="3.5" height="2.0" fill="#22f400" fill-opacity="0.47"/>
<rect x="429.5" y="350.0" width="3.0" height="6.5" fill="#22f400" fill-opacity="0.59"/>
<rect x="428.8" y="353.0" width="4.5" height="3.0" fill="#22f400" fill-opacity="0.51"/>
<rect x="408.0" y="412.5" width="2.6" height="3.0" fill="#22f400" fill-opacity="0.59"/>
<rect x="399.0" y="428.5" width="2.6" height="2.6" fill="#22f400" fill-opacity="0.43"/>
<rect x="524.0" y="357.0" width="3.0" height="3.0" fill="#22f400" fill-opacity="0.27"/>
<rect x="524.5" y="361.0" width="3.0" height="3.0" fill="#22f400" fill-opacity="0.31"/>
<rect x="519.0" y="99.0" width="4.0" height="5.0" fill="#22f400" fill-opacity="0.47"/>
<rect x="525.0" y="106.0" width="2.5" height="4.0" fill="#22f400" fill-opacity="0.39"/>
<rect x="540.0" y="520.0" width="3.0" height="3.0" fill="#22f400" fill-opacity="0.67"/>
<rect x="545.0" y="521.0" width="2.0" height="2.0" fill="#22f400" fill-opacity="0.47"/>
<rect x="551.0" y="519.5" width="3.0" height="3.0" fill="#22f400" fill-opacity="0.47"/>
<rect x="577.0" y="515.0" width="2.0" height="2.0" fill="#22f400" fill-opacity="0.43"/>
<rect x="628.0" y="294.0" width="3.0" height="3.0" fill="#22f400" fill-opacity="0.43"/>
<rect x="627.5" y="310.0" width="3.0" height="2.5" fill="#22f400" fill-opacity="0.51"/>
<rect x="628.0" y="319.0" width="3.0" height="3.0" fill="#22f400" fill-opacity="0.43"/>
<rect x="628.5" y="374.0" width="3.0" height="5.0" fill="#22f400" fill-opacity="0.35"/>
<rect x="648.0" y="244.0" width="3.5" height="6.0" fill="#22f400" fill-opacity="0.67"/>
<rect x="662.0" y="547.0" width="2.5" height="4.0" fill="#22f400" fill-opacity="0.35"/>
<rect x="663.0" y="462.0" width="3.0" height="3.0" fill="#22f400" fill-opacity="0.31"/>
</g>
</g>
<path fill="#474747" shape-rendering="crispEdges" d="M89 523h690v1h-690zM89 457h690v1h-690zM89 390h690v1h-690zM89 324h690v1h-690zM89 259h690v1h-690zM89 192h690v1h-690zM89 126h690v1h-690zM159 81h1v466h-1zM286 81h1v466h-1zM376 81h1v466h-1zM445 81h1v466h-1zM550 81h1v466h-1zM662 81h1v466h-1z"/>
<defs><linearGradient id="gr" x1="0" y1="0" x2="0" y2="1"><stop offset="0" stop-color="#f00"/><stop offset="1" stop-color="#000"/></linearGradient><linearGradient id="gg" x1="0" y1="0" x2="0" y2="1"><stop offset="0" stop-color="#22fc04"/><stop offset="1" stop-color="#000"/></linearGradient></defs>
<rect x="807" y="77" width="21" height="461" fill="#000" shape-rendering="crispEdges"/>
<rect x="808" y="78" width="19" height="460" fill="url(#gr)" shape-rendering="crispEdges"/>
<path fill="#000" shape-rendering="crispEdges" d="M808 480h7v1h-7zM820 480h7v1h-7zM808 422h7v1h-7zM820 422h7v1h-7zM808 365h7v1h-7zM820 365h7v1h-7zM808 307h7v1h-7zM820 307h7v1h-7zM808 250h7v1h-7zM820 250h7v1h-7zM808 192h7v1h-7zM820 192h7v1h-7zM808 135h7v1h-7zM820 135h7v1h-7z"/>
<rect x="871" y="77" width="21" height="461" fill="#000" shape-rendering="crispEdges"/>
<rect x="872" y="78" width="19" height="460" fill="url(#gg)" shape-rendering="crispEdges"/>
<path fill="#000" shape-rendering="crispEdges" d="M872 480h7v1h-7zM884 480h7v1h-7zM872 422h7v1h-7zM884 422h7v1h-7zM872 365h7v1h-7zM884 365h7v1h-7zM872 307h7v1h-7zM884 307h7v1h-7zM872 250h7v1h-7zM884 250h7v1h-7zM872 192h7v1h-7zM884 192h7v1h-7zM872 135h7v1h-7zM884 135h7v1h-7z"/>
<text class="b" transform="translate(216 36) scale(1 1.09)">Pmaldonado 2011 146 16:43:03 UTC</text>
<text class="b" transform="translate(555.4 36) scale(1 1.09)">26May11</text>
<text class="b" transform="translate(52.5 527.0) scale(1 1.09)" text-anchor="end">100</text>
<text class="b" transform="translate(52.5 461.0) scale(1 1.09)" text-anchor="end">200</text>
<text class="b" transform="translate(52.5 394.0) scale(1 1.09)" text-anchor="end">300</text>
<text class="b" transform="translate(52.5 328.0) scale(1 1.09)" text-anchor="end">400</text>
<text class="b" transform="translate(52.5 263.0) scale(1 1.09)" text-anchor="end">500</text>
<text class="b" transform="translate(52.5 196.0) scale(1 1.09)" text-anchor="end">600</text>
<text class="b" transform="translate(52.5 130.0) scale(1 1.09)" text-anchor="end">700</text>
<text class="b" transform="translate(52.5 64.0) scale(1 1.09)" text-anchor="end">800</text>
<text class="b" transform="translate(67.5 585.2) scale(1 1.09)" text-anchor="middle">1.5</text>
<text class="b" transform="translate(156.8 585.2) scale(1 1.09)" text-anchor="middle">2.0</text>
<text class="b" transform="translate(284.2 585.2) scale(1 1.09)" text-anchor="middle">3.0</text>
<text class="b" transform="translate(373.5 585.2) scale(1 1.09)" text-anchor="middle">4.0</text>
<text class="b" transform="translate(444.0 585.2) scale(1 1.09)" text-anchor="middle">5.0</text>
<text class="b" transform="translate(549.2 585.2) scale(1 1.09)" text-anchor="middle">7.0</text>
<text class="b" transform="translate(660.7 585.2) scale(1 1.09)" text-anchor="middle">10.0</text>
<text class="b" transform="translate(787.5 585.2) scale(1 1.09)" text-anchor="middle">15.0</text>
<text class="b" style="word-spacing:.4px;letter-spacing:.1px" transform="translate(360 613) scale(1 1.09)">Frequency [MHz]</text>
<text class="b" transform="translate(14 356) rotate(-90) scale(1 1.09)">Range [km]</text>
<text class="b" transform="translate(814.5 65.3) scale(1 1.09)" text-anchor="middle">O</text>
<text class="b" transform="translate(885.5 65.3) scale(1 1.09)" text-anchor="middle">X</text>
<text class="c" transform="translate(739.5 10.8)">O&amp;X SNR [dB]</text>
<text class="c" transform="translate(841 542.0)">0</text>
<text class="c" transform="translate(905.3 542.0)">0</text>
<text class="c" transform="translate(841 484.5)">5</text>
<text class="c" transform="translate(905.3 484.5)">5</text>
<text class="c" transform="translate(841 427.0)">10</text>
<text class="c" transform="translate(905.3 427.0)">10</text>
<text class="c" transform="translate(841 369.5)">15</text>
<text class="c" transform="translate(905.3 369.5)">15</text>
<text class="c" transform="translate(841 312.0)">20</text>
<text class="c" transform="translate(905.3 312.0)">20</text>
<text class="c" transform="translate(841 254.5)">25</text>
<text class="c" transform="translate(905.3 254.5)">25</text>
<text class="c" transform="translate(841 197.0)">30</text>
<text class="c" transform="translate(905.3 197.0)">30</text>
<text class="c" transform="translate(841 139.5)">35</text>
<text class="c" transform="translate(905.3 139.5)">35</text>
<text class="c" transform="translate(841 82.0)">40</text>
<text class="c" transform="translate(905.3 82.0)">40</text>
<text class="s" style="word-spacing:.5px;letter-spacing:-.07px" x="30.5" y="633">RxMask 00001111</text>
<text class="s" style="font-size:13.3px;word-spacing:.6px" x="581" y="633">VIPIR  PM91K_2011146164303.RIQ</text>
</svg></body></html>
